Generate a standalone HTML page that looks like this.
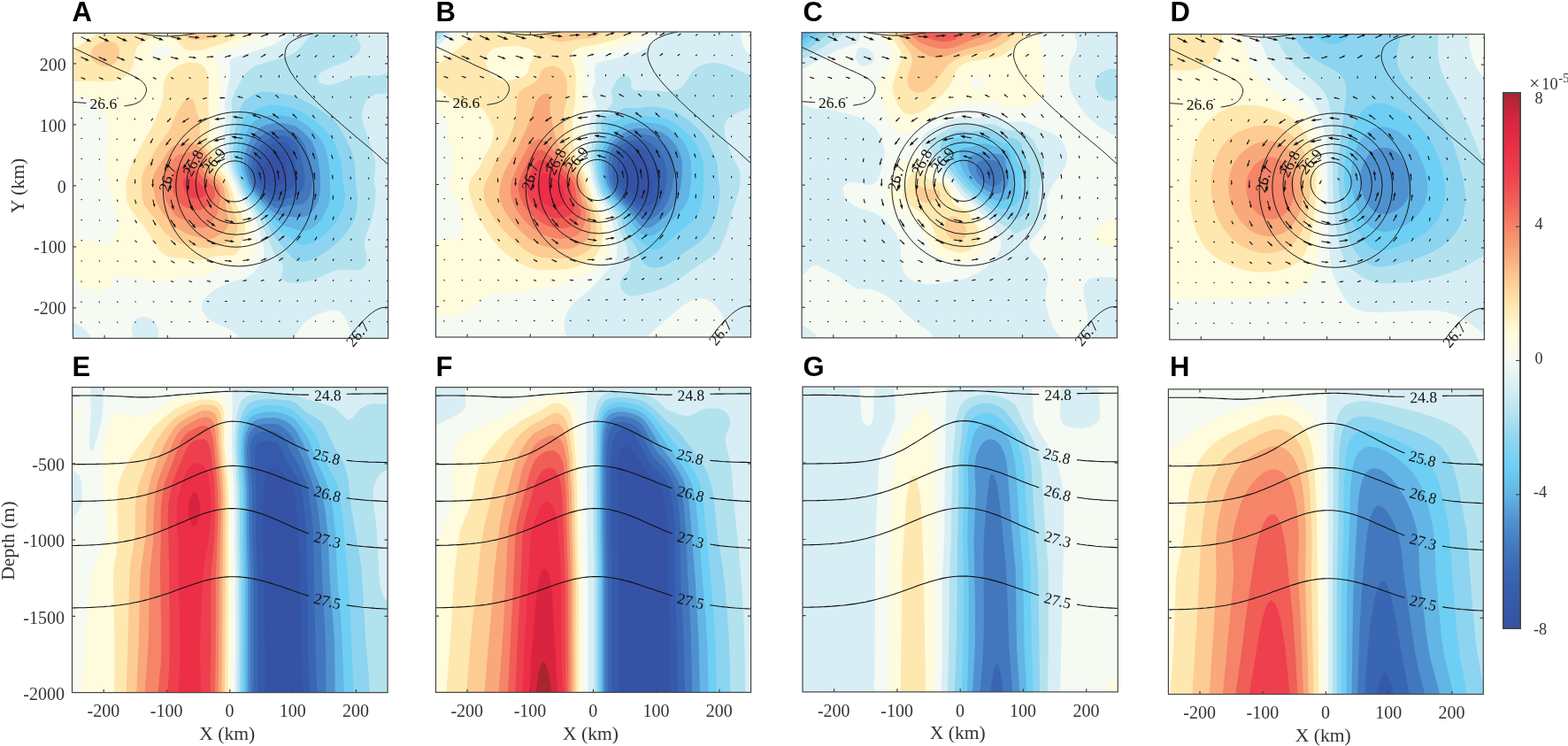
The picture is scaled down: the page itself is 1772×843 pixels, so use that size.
<!DOCTYPE html>
<html><head><meta charset="utf-8"><title>Figure</title>
<style>
html,body{margin:0;padding:0;background:#fff}
svg{display:block}
.t{font-family:"Liberation Serif",serif;font-size:20px;fill:#333}
.l{font-family:"Liberation Serif",serif;font-size:21.6px;fill:#333}
.p{font-family:"Liberation Sans",sans-serif;font-weight:bold;font-size:31px;fill:#000}
.c{font-family:"Liberation Serif",serif;font-size:17.5px;fill:#111}
.ci{font-family:"Liberation Serif",serif;font-style:italic;font-size:18px;fill:#111}
.k{fill:none;stroke:#111;stroke-width:.95}
.kb{fill:none;stroke:#111;stroke-width:1.1}
.q{fill:none;stroke:#111;stroke-width:1.05}
.h{fill:#111;stroke:none}
.f{fill:none;stroke:#454545;stroke-width:1.2}
</style></head><body>
<svg width="1772" height="843" viewBox="0 0 1772 843">
<defs>
<clipPath id="cA"><rect x="82.5" y="37.4" width="356.1" height="344.9"/></clipPath>
<clipPath id="cB"><rect x="492.5" y="36.0" width="356.0" height="345.0"/></clipPath>
<clipPath id="cC"><rect x="906.1" y="36.7" width="356.3" height="345.1"/></clipPath>
<clipPath id="cD"><rect x="1321.7" y="38.6" width="355.7" height="345.2"/></clipPath>
<clipPath id="cE"><rect x="81.5" y="437.6" width="356.6" height="345.0"/></clipPath>
<clipPath id="cF"><rect x="492.5" y="437.6" width="356.1" height="344.8"/></clipPath>
<clipPath id="cG"><rect x="907.0" y="437.0" width="356.3" height="344.9"/></clipPath>
<clipPath id="cH"><rect x="1320.4" y="439.8" width="355.9" height="344.7"/></clipPath>
<linearGradient id="cb" x1="0" y1="0" x2="0" y2="1"><stop offset="0.000" stop-color="#a8262e"/><stop offset="0.050" stop-color="#d9243f"/><stop offset="0.100" stop-color="#ec2e47"/><stop offset="0.150" stop-color="#ee3f4e"/><stop offset="0.200" stop-color="#f05e56"/><stop offset="0.250" stop-color="#f58468"/><stop offset="0.300" stop-color="#f8a87a"/><stop offset="0.350" stop-color="#fdcc93"/><stop offset="0.400" stop-color="#fee8b0"/><stop offset="0.450" stop-color="#fffbdd"/><stop offset="0.500" stop-color="#f5faf3"/><stop offset="0.550" stop-color="#d8eef5"/><stop offset="0.600" stop-color="#b3e2ef"/><stop offset="0.650" stop-color="#8dd4f0"/><stop offset="0.700" stop-color="#6dcff3"/><stop offset="0.750" stop-color="#62b5e5"/><stop offset="0.800" stop-color="#4f91cf"/><stop offset="0.850" stop-color="#4277bd"/><stop offset="0.900" stop-color="#3966b3"/><stop offset="0.950" stop-color="#355aab"/><stop offset="1.000" stop-color="#3652a5"/></linearGradient>
</defs>
<g id="panelA">
<g clip-path="url(#cA)">
<rect x="82.5" y="37.4" width="356.1" height="344.9" fill="#f5faf3"/>
<path fill="#fffbdd" d="M82.9 41.4l3.6-1.5 3.9-2.5 211.2 0-7.1 4-27.2 11.9-16.8 4.5-5.2 3.4-1.6 4 0.5 3.9 3.3 7.9 1.2 4 0.5 4-1.1 19.8-2.5 15.9 1.3 15.8-0.4 7.9-1.6 11.9 0.3 4 3.3 11.9 2.1 11.9 1.4 3.9 8.9 15.9 9.6 23.8 7.6 11.9 3.9 7.9 2.8 7.9 1.6 8 1.3 19.8-0.4 4-2.1 3.9-3.6 4-3 2.5-4 2.6-4 1.4-4 0.6-12.1-0.6-7.6 1.4-12.4 5.8-8 2.7-20 2.5-20 3.2-12-0.3-20-2.4-8-1.8-8-2.9-4-0.8-4 3.1-1.4 2.8-5.7 7.9-4.6 4-4.3 1.9-4 0.7-4-0.3-8-2.6-16-9.1 0-45.5 8-0.7 8 0.4 14.2 3.7 5.8 2.3 4-2.6 4-4.9 4-6.6 1.3-4.1 0.8-7.9-1.2-8-5.2-15.8-2.7-19.8-4.2-15.9-0.7-4-0.2-3.9 0.6-7.9 4.6-23.8-0.1-8-2.2-7.9-1.9-4-4.9-7.9-2.9-3.9-5.1-5.3-3.8-2.7-4.2-1.8-8-1.7-8-0.6 0-67.1zM178.5 52.6l-4.8 4.6-0.9 4 1.7 3.1 4 1.5 4-0.3 4-0.9 4-1.8 2.2-1.6 1.5-4-2.2-3.9-1.5-1.3-4-1.5-4 0.3z"/>
<path fill="#fee8b0" d="M105.3 41.4l5.7-4 71.5 0-4 1.1-13.1 6.8-6.1 4-3.9 4-2.1 3.9-2.8 15.3-1.6 4.5-2.4 4.1-3.6 3.9-4.4 3-4 1.7-4 1.2-8 1.2-8 0.2-12-0.7-20 0.7 0-37.6 8-3.4zM186.7 37.4l83.8 0-3.4 4-4.5 3.4-8.1 3.5-24 7.5-8 1.2-8 0.4-4-0.8-4-2.9-7.4-8.4-4.6-3.9-4-2.7zM204.7 73.1l5.8-2.3 4-0.3 8 0.3 4 1.1 4 3.3 1.3 1.8 2.1 4 1.2 4 0.6 3.9 0.3 8-0.7 23.8 2 19.8-1.9 15.8 0.6 4 1.6 4 4.9 8.4 1.2 3.5 1.9 11.8 2.4 4 6.5 7.8 4.5 8.1 2.8 7.9 3.4 11.9 1.6 4 6.6 11.8 1.7 4 1.9 7.9-0.1 8-0.9 3.9-5.4 14.7-4 5-4 1.4-8.1 0-8 0.8-8 1.5-12 3.3-4 0.2-12-1.8-16-1.4-4-1.1-4-1.7-4-3.1-1.7-1.9-18.2-27.8-12.8-15.8-3.3-5.1-2.8-6.8-1.3-7.9-0.1-8 0.8-7.9 1.8-7.9 4.7-11.9 10.2-19.8 11.3-19.9 11.4-26.4 1.6-5.3 0.5-3.9 0.1-11.9 0.5-4 1.1-4 2-3.9 3.4-4 5.5-4z"/>
<path fill="#fdcc93" d="M206 37.4l44.2 0-3.7 3.1-4 1.8-8 1.9-12 1-4-0.2-4-0.9-4-2zM110.8 49.3l7.7-2.3 4-0.3 4 0.4 4.7 2.2 2.7 4 0.9 3.9 0 4-0.9 4-2.1 3.9-1.3 1.5-4 2.8-4 1.2-4 0.4-4-0.6-3.9-1.3-5.3-4-2.4-3.9-0.5-4 1-4 2.4-3.9zM209.8 112.7l0.7-0.8 4-1.2 4 2.4 7.1 23.4 0.6 4-0.7 7.9 0.1 4 1 3.9 1.6 4 2.4 4 6.2 7.9 1.9 4 0.7 3.9 0 7.9 1.7 4 9.4 9.1 4.6 6.8 2.7 7.9 3.1 15.9 6.4 15.8 0.9 4 0.4 3.9-0.4 4-1.1 4-2 3.9-2.5 3.7-4.1 2.8-16 5.5-4 0.7-8 0.2-16-2-8-2.1-4-1.6-8-4.7-7.5-6.4-3.5-4-9-12.9-8.7-10.9-2.7-3.9-1.8-4-0.8-4-0.6-19.8 0.4-4 2.8-7.9 13.1-23.8 14.3-19.8 2.1-4 5.9-14.3 4-7.6 4-6.4z"/>
<path fill="#f8a87a" d="M197.7 164.3l4.8-1.8 12-0.8 4 0.5 4 1.9 4 3 5 5.1 2.5 4 0.9 3.9-0.9 7.9 0.9 4 3 4 9.7 7.9 3.2 4 1.8 3.9 1.6 8 1.2 15.8 2.6 11.9 0.3 4-0.6 3.9-2 4-1.2 1.3-3.1 2.7-8.9 5.2-4 1.3-4 0.2-8-1.4-12-3.2-4.7-2.1-7.3-4.2-8-5.5-4-3.8-10-14.3-4.2-7.9-3.9-19.8-0.2-4 0.6-4 3.7-7.9 14-21.8 4-4.1z"/>
<path fill="#f58468" d="M212.8 172.2l5.7-1.1 4 0.4 4 2.5 1.9 2.2 1.3 3.9-1.2 7.9 0.8 4 2.4 4 2.8 3 10.9 8.9 2.4 3.9 1.2 4-0.1 7.9-2 11.9-0.9 4-1.7 3.9-5.3 8-3.3 3.9-1.2 0.8-4 1.3-4-0.1-6.2-2-9.8-5.8-8-3.4-4-2.7-3.6-3.9-4.4-7.4-4-8.3-1-4.1-0.8-11.9 0.4-8 2.3-7.9 2.1-4 5-6.7 5.1-5.1 2.9-1.8z"/>
<path fill="#f05e56" d="M204.1 188l2.4-0.9 4 0.3 8 2 4 2.9 6.1 7.6 9.3 8 3.5 3.9 1.6 4 0 4-1.2 3.9-3.3 5.3-4 3.8-4 2.5-4 1.9-4 0.2-12-2.8-4-1.8-4-4.3-5.6-8.7-1.2-4-0.5-4 0.2-11.9 1-3.9 2.1-4 4-3.4z"/>
<path fill="#ee3f4e" d="M210.3 199.9l4.2-0.3 4 1.3 4 2.7 8.5 8.2 1.9 4-0.8 4-1.6 1.7-4 2.3-4 0.6-4-0.3-4-1.8-2.7-2.5-2.5-4-1.5-4-0.8-3.9 0.2-4z"/>
<path fill="#d8eef5" d="M325.8 37.4l112.8 0 0 344.9-39.7 0-3.8-11.9-5.5-11.9-3-4.2-4-2.9-4-1-4 0-8 2-8 3.1-8 4.2-3.9 2.8-4.1 3.8-3.3 4.1-4.8 7.9-1.6 4-61.6 0-3.3-4-5.4-4.3-6.8-3.6-13.3-5.7-4-2.3-4.9-3.9-3.2-4-1.7-3.9-0.5-4 0.6-3.9 1.7-4 4-4.9 3.4-3 4.6-3.2 8.9-4.8 9.4-3.9 17.8-5.5 4-2.1 5.2-4.3 6.8-8.7 3.6-7.2 0.6-3.9-0.9-8-6.3-23.8-1.5-3.9-7.5-13.8-8-11.5-3.6-6.4-13.4-31.8-2.3-7.9-2-15.8-0.5-8 2.7-23.8 0-3.9-1.3-7.9-0.1-4 6.1-31.7 0.1-4-1-7.9 0-4 3.3-3.2 1.5-0.7 18.5-5.5 28-9.7 8-4.7 4.5-3.9zM158 358.5l4.5-0.6 4 0.7 4 1.9 4 3.3 2.1 2.6 1.9 4 0.8 4 0 7.9-29 0-1.4-7.9-0.2-4 0.8-4 2.3-3.9 2.7-2.4zM82.5 366.4l0-1.9 4.9 1.9 6.2 4 4.9 4.6 2.5 3.3 1.8 4-20.3 0z"/>
<path fill="#b3e2ef" d="M349.8 41.4l3-4 47.9 0 6.2 11.9 0.8 4-0.8 3.9-2.9 4-5.4 4.6-8 4.2-18.4 7-8 4-1.6 1.3-2.5 2.7-0.8 3.9 2.1 4 1.2 0.9 4 1.7 4 0.6 4-0.5 9.1-2.7 14.9-5.6 4-1.1 8-1.2 16 0.6 4-0.7 4-1.4 4-2.1 0 23.9-12 0.9-4 1.2-4 2.1-4 3.8-2 3.4-2 4-0.9 3.9-0.4 7.9 1.3 8 7.1 19.8 5.1 15.9 1.5 7.9 0.1 3.9-1.5 15.9 1.9 11.9-1.8 19.8-2.5 11.9-6.1 15.9-2.2 7.9 0 7.9 2.3 11.9-0.2 4-1.2 3.9-2.5 3.9-4 2.2-4 0.6-12-1.2-8 0.3-8 2.5-12 5.8-12 4.5-12 2.3-8-0.1-5.4-0.9-2.6-1-4.7-3-0.3-4 1-1.1 1.2-6.8-0.7-4-2.5-3.9-6-7.1-5.1-12.7-5.5-11.9-4.2-11.9-2.2-4-7.6-11.9-8.7-11.9-2.7-4.4-6.8-15.4-4.6-11.9-3.2-11.9-1.2-15.8 0.4-11.9 3.4-23.8-1.2-11.9 1.2-6.3 4-8.9 8-14.6 4.5-5.9 5.2-4 8.7-3.9 12.2-4 17.4-4.5 7.7-3.4 4.3-3 4-4z"/>
<path fill="#8dd4f0" d="M292.1 104.8l6.5-1.3 4 0.1 24 3.3 12 4.1 8 3.9 8 4.8 19.2 12.8 4.8 4.1 4 5.2 10.2 18.5 5.1 11.9 2 7.9 1.2 7.9 1.2 19.9 1.7 15.8-0.5 11.9-1.6 7.9-1.3 4-2 4.6-4.5 7.3-6.3 7.9-7.9 8-5.3 4.5-10.4 7.4-6.7 3.9-6.9 3.1-8 1.6-4-0.2-4-1.3-4-2.7-10.9-12.4-13.1-16.5-5.4-11.2-2.4-4-20.3-27.7-2.4-4-3.5-7.9-5.9-15.9-2.5-11.9-0.6-11.9 1.7-19.8 3.1-15.9 2.2-7 4-9.5 3.2-3.3 4.8-3.4 4-2.3z"/>
<path fill="#6dcff3" d="M296.8 120.7l5.8-1.5 4-0.4 8 0.3 8 1.1 12 3.6 8 3.4 4 2.3 4.2 3 14.4 11.9 5.4 5.6 4 5.7 2.5 4.6 5.2 11.9 3.1 11.9 2.6 23.8 1.9 11.9 0 3.9-1.4 8-1.9 5.7-2.8 6.1-4.7 8-4.5 5.8-5.8 6.1-6.2 5.2-8 5.2-4 1.8-4 1.2-4 0.1-4-1-4-2.3-8.6-6.3-7.4-4-5.6-3.9-2.4-2.5-6.5-9.4-22.1-27.7-4.7-8-4.8-11.9-3.4-11.9-1.1-7.9-0.1-7.9 1.3-11.9 5.2-23.8 2.2-4 2-2.1 2.5-1.8 9.5-5.3z"/>
<path fill="#62b5e5" d="M296 132.5l6.6-1.9 4-0.7 8 0 12 1.9 8 2.4 4 1.8 8 5.3 12.1 11.1 3.9 4.8 3.7 7.1 3.8 11.9 1.9 11.8 0.9 11.9 0.1 23.8-1.8 8-5.4 11.8-3.2 4.9-4 4.5-4 3.3-4 2.5-4 1.5-4 0.6-4-0.4-16-4.8-4-1.8-4-2.7-12-11.5-8-8.9-11.8-14.9-4.2-7.9-4.4-11.9-1.7-8-0.4-3.9 0-7.9 1.9-11.9 4.6-14.2 4-8.5 5.2-5.1z"/>
<path fill="#4f91cf" d="M302.8 140.5l7.8-1.3 8 0 8 1.1 4 1.1 4 1.8 7.4 5.2 7.7 7.9 2.7 4 3.8 7.9 3.3 11.9 2.2 15.9 0.5 11.9-0.8 11.9-2 7.9-4 7.9-4.8 5.6-4 2.7-4 1.4-4 0.5-4-0.1-16-2-4-1.3-4-2-4-2.7-4-3.5-8-8.4-8.3-10-4.6-7.9-4.2-11.9-1.5-8 0-7.9 0.5-3.9 2-8 4.1-9.6 4-6.8 2.7-3.4 5.3-4.5 4-2.1z"/>
<path fill="#4277bd" d="M304.2 148.4l6.4-1.6 8-0.4 4 0.3 6.2 1.7 5.8 3.3 4 3.7 3.7 4.9 2.2 4 3 7.9 3.2 11.9 1.9 11.9 0.3 7.9-0.5 7.9-1.8 8.1-1.9 3.8-2.1 3.1-4 3.3-4 1.4-12 0.7-8 2.3-4 0.5-4-0.8-4-2.1-4-3.3-8-8-4.5-5-5-7.9-3.1-8-1.8-7.9-0.3-7.9 1.6-7.9 3.3-8 5.8-9.5 4-4.5 2.2-1.8 1.8-1.3z"/>
<path fill="#3966b3" d="M303.9 156.3l6.7-2.6 8-0.8 4 0.5 4 1.3 4 2.6 4 4.6 3 6.3 3.3 11.9 2.5 11.9 1 7.9-0.1 4-1.4 7.9-2 4-2.3 2.7-4 2.5-20 6.7-4 0-4-1.8-4-2.9-8-7.4-4-5.1-3.4-6.6-1.3-4-1.6-7.9 0.3-7.9 2-6.4 2.8-5.5 5.4-7.9 3.8-4.2z"/>
<path fill="#355aab" d="M313.3 160.3l5.3-0.4 4 0.9 4 2.6 3.2 4.8 1.3 4 3.6 19.8 1 7.9-0.2 4-1.1 4-3.8 4.6-5.4 3.3-6.6 2.8-4 1.3-4 0.2-4-1.2-4-2.4-4-3.2-4-4.5-2.7-4.9-1.4-4-1.1-7.9 0.3-4 0.9-4 3.8-7.8 2.8-4 3.3-4 4.4-3.9 5.7-3.2z"/>
<path fill="#3652a5" d="M310 172.2l4.6-2 4 0.4 1.7 1.6 1.7 4 0.6 3 1.8 16.8-0.2 3.9-1.6 4.3-4 3.9-4 1.9-4 0.7-4-0.8-4-2.1-4-5.1-1.1-2.8-0.6-3.9 0.1-4 0.9-4 1.8-3.9 2.9-4.5 4-4.5z"/>
<ellipse class="k" cx="265.1" cy="204.9" rx="23.1" ry="23.1"/>
<ellipse class="k" cx="265.3" cy="205.7" rx="34.2" ry="34.4"/>
<ellipse class="k" cx="266.3" cy="207.1" rx="45.1" ry="45.6"/>
<ellipse class="k" cx="267.0" cy="208.3" rx="56.1" ry="56.9"/>
<ellipse class="k" cx="266.7" cy="209.9" rx="67.9" ry="69.3"/>
<ellipse class="k" cx="269.5" cy="213.7" rx="85.3" ry="87.2"/>
<path class="k" d="M82.5 53.9l3.3 1.6 3.2 1.5 3.2 1.5 3.3 1.5 3.4 1.7 3.6 1.7 3.9 1.9 4.2 2 4.4 2.1 4.4 2.1 4.2 2 3.9 1.9 3.7 1.7 3.7 1.6 3.5 1.6 3.3 1.4 3 1.4 2.8 1.3 2.4 1.2 2.1 1 1.9 0.9 1.6 0.9 1.6 1 1.4 1 1.4 1.1 1.2 1.2 1.1 1.1 0.9 1.2 0.8 1.2 0.6 1.2 0.5 1.2 0.3 1.1 0.1 1.1 0 1.2-0.1 1.2-0.3 1.2-0.4 1.3-0.6 1.4-0.7 1.4-0.9 1.4-0.9 1.3-1 1.2-1.1 1-1.2 1-1.2 0.8-1.4 0.8-1.5 0.7-1.6 0.7-1.8 0.6-1.9 0.4-2 0.4-2.2 0.4-2.1 0.3-2 0.4"/>
<path class="k" d="M97.5 116.4l-2.5-0.2-2.5-0.1-2.5-0.2-2.5-0.2-2.5-0.1-2.5-0.2"/>
<path class="k" d="M155.5 37.4l2.8 0.4 2.9 0.5 2.8 0.4 2.8 0.5 2.9 0.4 2.8 0.3 2.8 0.3 2.9 0.2 2.8 0.2 2.8 0.2 2.9 0.1 2.8 0 2.8 0 2.9-0.1 2.8-0.2 2.8-0.2 2.9-0.2 2.8-0.3 2.8-0.3 2.9-0.4 2.8-0.5 2.8-0.4 2.9-0.5 2.8-0.4"/>
<path class="k" d="M355.5 37.4l-2.5 0.6-2.5 0.6-2.6 0.6-2.5 0.6-2.5 0.7-2.4 0.9-2.5 1.1-2.6 1.1-2.6 1.3-2.4 1.4-2.1 1.5-1.8 1.6-1.4 1.8-1.1 1.9-0.8 2.1-0.6 2.1-0.4 2.1-0.2 2-0.1 2 0.2 1.9 0.4 2 0.5 2 0.7 2 0.8 2.1 1 2.2 1.1 2.3 1.3 2.4 1.4 2.4 1.6 2.3 1.6 2.4 1.7 2.3 1.8 2.2 1.9 2.3 2 2.2 2.2 2.4 2.4 2.6 2.6 2.8 2.9 2.9 3 3.1 3.1 3.1 3.2 3.1 3.2 3 3.2 3 3.2 3 3.3 2.9 3.4 3 3.4 3 3.5 3.1 3.6 3.2 3.7 3.2 3.8 3.3 3.8 3.2 3.6 3.2 3.5 2.9 3.3 2.7 3.1 2.6 3 2.5 2.9 2.4 2.9 2.4 2.8 2.4 2.8 2.4 2.7 2.5 2.7 2.4 2.6 2.4 2.6 2.4 2.7 2.4"/>
<path class="k" d="M438.6 346.9l-1.5 0.2-1.5 0.2-1.6 0.1-1.5 0.2-1.5 0.3-1.5 0.5-1.5 0.6-1.5 0.7-1.4 0.7-1.5 0.9-1.5 1-1.6 1.1-1.6 1.2-1.7 1.4-1.6 1.5-1.7 1.6-1.7 1.6-1.7 1.7-1.7 1.7-1.7 1.8-1.7 1.9-1.7 1.9-1.6 1.8-1.6 1.9-1.4 1.8-1.4 1.9-1.3 1.8-1.3 1.8-1.3 1.9-1.3 1.8"/>
<path class="q" d="M91.5 41.6L98.9 45.1M111.8 41.6L119.3 45M132.2 41.6L139.7 44.9M152.5 41.6L160.1 44.6M172.8 41.6L180.6 44.1M193.1 41.6L201 43.3M213.5 41.6L221.3 42.2M233.8 41.6L241.5 41M254.1 41.6L261.5 39.9M274.5 41.6L281.3 39.2M294.8 41.6L301 38.9M315.1 41.6L320.5 39M335.5 41.6L339.6 39.4M355.8 41.6L358.7 39.9M376.1 41.6L378.1 40.3M396.4 41.6L398 40.6M416.8 41.6L418.1 40.9M437.1 41.6L438.5 41.1M91.5 64.6L97.5 67.3M111.8 64.6L117.8 67.2M132.2 64.6L138.2 67.1M152.5 64.6L158.5 66.9M172.8 64.6L178.8 66.5M193.1 64.6L199 65.9M213.5 64.6L219.1 65.1M233.8 64.6L239.1 64.1M254.1 64.6L259.1 63.2M274.5 64.6L279 62.5M294.8 64.6L298.9 62.2M315.1 64.6L318.7 62.2M335.5 64.6L338.3 62.4M355.8 64.6L357.8 62.8M376.1 64.6L377.5 63.2M396.4 64.6L397.6 63.4M416.8 64.6L417.9 63.6M437.1 64.6L438.3 63.8M91.5 87.6L95.2 89.1M111.8 87.6L115.5 89M132.2 87.6L135.7 89M152.5 87.6L155.8 89M172.8 87.6L175.8 88.9M193.1 87.6L195.7 88.8M213.5 87.6L215.4 88.4M233.8 87.6L235.3 87.6M254.1 87.6L254.7 86.3M274.5 87.6L274.6 85.7M294.8 87.6L295 85.3M315.1 87.6L315.5 85.2M335.5 87.6L335.8 85.4M355.8 87.6L356.2 85.7M376.1 87.6L376.5 86M396.4 87.6L396.9 86.2M416.8 87.6L417.5 86.3M437.1 87.6L438.1 86.5M91.5 110.6L93.5 111.1M111.8 110.6L113.7 111.2M132.2 110.6L133.8 111.4M152.5 110.6L153.7 111.8M172.8 110.6L173 112.2M193.1 110.6L192 112.4M213.5 110.6L211 112.3M233.8 110.6L230.1 111.6M254.1 110.6L249.8 110.6M274.5 110.6L270 109.4M294.8 110.6L291 108.5M315.1 110.6L312.2 108.1M335.5 110.6L333.5 108.1M355.8 110.6L354.5 108.5M376.1 110.6L375.4 108.8M396.4 110.6L396.2 109.1M416.8 110.6L416.9 109.2M437.1 110.6L437.7 109.3M91.5 133.6L92.9 133.6M111.8 133.6L113.2 134M132.2 133.6L132.9 134.8M152.5 133.6L152.1 135.3M172.8 133.6L171.2 136M193.1 133.6L189.9 136.8M213.5 133.6L208.4 136.9M233.8 133.6L227.1 136.2M254.1 133.6L246.5 134.5M274.5 133.6L266.9 132.4M294.8 133.6L288.3 130.8M315.1 133.6L310.1 130M335.5 133.6L332 130.1M355.8 133.6L353.6 130.7M376.1 133.6L374.8 131.4M396.4 133.6L395.8 131.9M416.8 133.6L416.6 132.2M437.1 133.6L437.3 132.2M91.5 156.6L92.9 156.4M111.8 156.6L113.1 157.4M132.2 156.6L132.2 158M152.5 156.6L151.6 159.1M172.8 156.6L170.7 160.5M193.1 156.6L189.2 161.8M213.5 156.6L207.5 162.3M233.8 156.6L226.5 160.8M254.1 156.6L245.8 158.3M274.5 156.6L266.1 155.2M294.8 156.6L287.5 152.6M315.1 156.6L309.6 151.4M335.5 156.6L331.7 151.7M355.8 156.6L353.4 152.6M376.1 156.6L374.7 153.7M396.4 156.6L395.6 154.5M416.8 156.6L416.4 155M437.1 156.6L437.1 155.2M91.5 179.6L92.9 179.5M111.8 179.6L112.8 180.6M132.2 179.6L132.3 181.4M152.5 179.6L151.9 182.9M172.8 179.6L171.2 185M193.1 179.6L190.2 186.8M213.5 179.6L209.2 186.9M233.8 179.6L228 185.8M254.1 179.6L247.5 182.2M274.5 179.6L268 177.8M294.8 179.6L289.4 174.4M315.1 179.6L311.1 173M335.5 179.6L332.7 173.3M355.8 179.6L354 174.6M376.1 179.6L375 176.1M396.4 179.6L395.8 177.2M416.8 179.6L416.4 177.9M437.1 179.6L437 178.2M91.5 202.6L92.9 202.7M111.8 202.6L112.8 203.6M132.2 202.6L132.6 204.6M152.5 202.6L152.7 206.4M172.8 202.6L172.6 208.6M193.1 202.6L192.6 210.7M213.5 202.6L212.5 211M233.8 202.6L232.5 209.7M254.1 202.6L252.5 205.8M274.5 202.6L272.9 200.4M294.8 202.6L293.6 196.9M315.1 202.6L314.2 195.4M335.5 202.6L334.7 195.8M355.8 202.6L355.2 197.2M376.1 202.6L375.7 198.8M396.4 202.6L396.1 200M416.8 202.6L416.6 200.8M437.1 202.6L437.1 201.2M91.5 225.6L92.9 225.8M111.8 225.6L112.9 226.5M132.2 225.6L133.1 227.5M152.5 225.6L153.5 229.1M172.8 225.6L174.2 231.2M193.1 225.6L195.2 233.1M213.5 225.6L216.3 233.6M233.8 225.6L237.4 232M254.1 225.6L258.2 228.3M274.5 225.6L278.4 223.8M294.8 225.6L297.9 220.4M315.1 225.6L317.4 219M335.5 225.6L336.9 219.3M355.8 225.6L356.5 220.5M376.1 225.6L376.4 222M396.4 225.6L396.5 223.1M416.8 225.6L416.8 223.8M437.1 225.6L437.3 224.2M91.5 248.6L92.9 248.9M111.8 248.6L113.1 249.4M132.2 248.6L133.5 250.2M152.5 248.6L154.2 251.4M172.8 248.6L175.3 253M193.1 248.6L196.8 254.3M213.5 248.6L218.5 254.7M233.8 248.6L240.1 253.3M254.1 248.6L261.1 250.5M274.5 248.6L281.1 247.2M294.8 248.6L300.4 244.6M315.1 248.6L319.3 243.4M335.5 248.6L338.2 243.5M355.8 248.6L357.4 244.4M376.1 248.6L376.9 245.5M396.4 248.6L396.9 246.4M416.8 248.6L417.1 247M437.1 248.6L437.6 247.2M91.5 271.6L92.9 272M111.8 271.6L113.1 272.3M132.2 271.6L133.6 272.8M152.5 271.6L154.3 273.5M172.8 271.6L175.5 274.5M193.1 271.6L197 275.2M213.5 271.6L218.7 275.4M233.8 271.6L240.3 274.5M254.1 271.6L261.2 272.7M274.5 271.6L281.2 270.5M294.8 271.6L300.6 268.8M315.1 271.6L319.5 268M335.5 271.6L338.4 268M355.8 271.6L357.6 268.5M376.1 271.6L377.2 269.2M396.4 271.6L397.1 269.8M416.8 271.6L417.4 270.2M437.1 271.6L437.9 270.4M91.5 294.6L92.8 295.3M111.8 294.6L113.1 295.3M132.2 294.6L133.5 295.5M152.5 294.6L154.2 295.8M172.8 294.6L175.1 296.3M193.1 294.6L196.3 296.6M213.5 294.6L217.7 296.6M233.8 294.6L238.9 296M254.1 294.6L259.6 295M274.5 294.6L279.8 293.8M294.8 294.6L299.3 292.8M315.1 294.6L318.6 292.3M335.5 294.6L337.9 292.2M355.8 294.6L357.4 292.5M376.1 294.6L377.2 292.9M396.4 294.6L397.3 293.2M416.8 294.6L417.6 293.4M437.1 294.6L438.2 293.7M91.5 317.6L92.6 318.5M111.8 317.6L113 318.5M132.2 317.6L133.3 318.4M152.5 317.6L153.9 318.5M172.8 317.6L174.6 318.6M193.1 317.6L195.5 318.6M213.5 317.6L216.4 318.5M233.8 317.6L237.2 318.1M254.1 317.6L257.8 317.6M274.5 317.6L278 316.9M294.8 317.6L297.8 316.4M315.1 317.6L317.5 316.1M335.5 317.6L337.2 316M355.8 317.6L357.1 316.2M376.1 317.6L377.1 316.3M396.4 317.6L397.4 316.5M416.8 317.6L417.9 316.7M437.1 317.6L438.4 317M91.5 340.6L92.4 341.7M111.8 340.6L112.8 341.7M132.2 340.6L133.2 341.6M152.5 340.6L153.7 341.4M172.8 340.6L174.2 341.3M193.1 340.6L194.8 341.2M213.5 340.6L215.4 341M233.8 340.6L236 340.7M254.1 340.6L256.4 340.4M274.5 340.6L276.6 340M294.8 340.6L296.7 339.7M315.1 340.6L316.7 339.6M335.5 340.6L336.8 339.5M355.8 340.6L356.9 339.6M376.1 340.6L377.2 339.6M396.4 340.6L397.6 339.8M416.8 340.6L418.1 340M437.1 340.6L438.5 340.3M91.5 363.6L92.2 364.8M111.8 363.6L112.6 364.8M132.2 363.6L133.1 364.7M152.5 363.6L153.6 364.5M172.8 363.6L174.1 364.3M193.1 363.6L194.5 364.1M213.5 363.6L215 363.8M233.8 363.6L235.4 363.6M254.1 363.6L255.7 363.3M274.5 363.6L276 363.1M294.8 363.6L296.1 362.9M315.1 363.6L316.3 362.8M335.5 363.6L336.6 362.7M355.8 363.6L356.9 362.7M376.1 363.6L377.3 362.8M396.4 363.6L397.7 363M416.8 363.6L418.2 363.2M437.1 363.6L438.6 363.5"/>
<path class="h" d="M103.3 47.2L97.7 46.5L99.2 43.3zM123.7 47.1L118.1 46.4L119.6 43.2zM144.1 46.8L138.5 46.3L139.9 43zM164.6 46.3L159 46L160.3 42.7zM185.1 45.5L179.6 45.6L180.6 42.3zM205.6 44.3L200.1 44.9L200.9 41.5zM226 42.6L220.7 43.9L221 40.5zM246 40.7L241.1 42.7L240.9 39.4zM265.8 39L261.4 41.6L260.6 38.5zM285.3 37.8L281.4 40.9L280.4 37.9zM304.6 37.4L301.2 40.5L300 37.8zM323.4 37.6L320.6 40.4L319.4 38zM341.7 38.2L339.7 40.5L338.6 38.7zM360 39.1L358.7 40.8L357.9 39.4zM378.8 39.8L378 41L377.4 40.1zM398.3 40.4L397.8 41.3L397.3 40.5zM418.3 40.8L417.8 41.5L417.5 40.8zM438.6 41.1L438.1 41.7L437.9 40.9zM100.9 68.8L96.4 68.4L97.6 65.8zM121.2 68.7L116.8 68.3L117.9 65.7zM141.6 68.5L137.2 68.2L138.3 65.6zM161.9 68.2L157.5 68L158.5 65.4zM182.1 67.6L177.9 67.7L178.7 65.1zM202.3 66.7L198.2 67.1L198.8 64.5zM222.2 65.4L218.5 66.3L218.8 63.8zM242 63.9L238.7 65.3L238.5 63zM261.7 62.4L258.9 64.4L258.3 62.2zM281.4 61.4L279 63.7L278.1 61.7zM301 60.9L299 63.3L297.9 61.5zM320.4 60.9L318.8 63.2L317.7 61.6zM339.5 61.4L338.4 63.4L337.4 62.1zM358.5 62.1L357.8 63.6L357 62.7zM377.9 62.8L377.5 63.9L376.8 63.2zM397.7 63.2L397.5 64.1L396.9 63.5zM418 63.5L417.7 64.3L417.2 63.7zM438.5 63.7L438.1 64.4L437.7 63.8zM96.9 89.8L94.4 89.7L95 88zM117.2 89.7L114.7 89.7L115.3 88zM137.4 89.7L134.9 89.6L135.6 88zM157.4 89.6L155.1 89.6L155.7 88zM177.2 89.5L175.1 89.4L175.7 88zM196.7 89.2L194.9 89.2L195.5 88zM215.9 88.6L214.7 88.7L215.1 87.7zM235.4 87.6L234.8 88L234.8 87.2zM254.8 86.1L254.9 86.9L254.2 86.6zM274.6 85.3L275 86.3L274.1 86.2zM295 84.6L295.5 85.9L294.4 85.8zM315.6 84.4L316 85.8L314.8 85.6zM336 84.7L336.3 86L335.2 85.8zM356.2 85.2L356.5 86.3L355.6 86.1zM376.5 85.7L376.8 86.6L376 86.4zM397 86.1L397.1 86.8L396.4 86.6zM417.5 86.2L417.6 87L416.9 86.6zM438.2 86.4L438 87.1L437.4 86.6zM94.1 111.3L92.9 111.5L93.2 110.5zM114.3 111.4L113.1 111.5L113.4 110.6zM134.2 111.6L133.2 111.6L133.6 110.8zM153.9 112L153 111.7L153.6 111.1zM173 112.5L172.5 111.8L173.4 111.7zM191.6 113L191.8 111.7L192.7 112.3zM209.9 113L211 111.4L211.8 112.6zM228.4 112.1L230.4 110.7L230.8 112.3zM247.6 110.6L250.3 109.6L250.3 111.6zM267.8 108.8L270.8 108.6L270.3 110.6zM289 107.5L291.9 107.9L290.9 109.6zM310.8 106.9L313.2 107.7L312 109.1zM332.6 107.1L334.3 108.1L333.2 109zM354.1 107.7L355.3 108.6L354.3 109.2zM375.3 108.4L376.1 109.1L375.2 109.5zM396.2 108.9L396.7 109.5L395.9 109.7zM416.9 109L417.3 109.7L416.5 109.6zM437.7 109.1L437.8 109.9L437.1 109.6zM93.1 133.7L92.4 134L92.5 133.2zM113.4 134.1L112.6 134.3L112.8 133.5zM133 135L132.3 134.6L133 134.2zM152 135.6L151.8 134.7L152.6 134.9zM170.5 137L170.9 135.2L172 136zM188.3 138.4L189.6 135.7L191 137.1zM205.6 138.8L208.1 135.5L209.6 137.8zM223.2 137.6L227 134.5L228.1 137.4zM242 135L246.8 132.8L247.2 136.1zM262.5 131.7L267.7 130.9L267.2 134.1zM284.5 129.2L289.3 129.6L288.1 132.4zM307.4 128.1L311.3 129.2L309.8 131.4zM330.2 128.3L333.1 129.7L331.6 131.3zM352.6 129.4L354.6 130.6L353.3 131.6zM374.4 130.6L375.6 131.5L374.6 132.1zM395.6 131.5L396.4 132.2L395.5 132.5zM416.5 132L417 132.6L416.2 132.7zM437.3 132L437.6 132.7L436.8 132.6zM93.1 156.4L92.5 156.9L92.4 156.1zM113.2 157.5L112.4 157.4L112.8 156.8zM132.2 158.2L131.8 157.6L132.6 157.5zM151.3 160L151.2 158.4L152.4 158.8zM169.6 162.5L170 159.6L171.8 160.6zM187 164.8L188.4 160.6L190.7 162.3zM204 165.6L206.7 160.6L209.1 163.2zM222.1 163.4L226 159L227.8 162.2zM240.9 159.3L246 156.4L246.7 160zM261.2 154.3L266.9 153.5L266.3 157zM283.1 150.2L288.8 151.2L287 154.4zM306.3 148.4L311.1 150.6L308.8 153zM329.5 148.9L333 151.2L330.9 152.9zM352.2 150.6L354.5 152.5L352.8 153.6zM374.1 152.5L375.6 153.8L374.2 154.5zM395.4 153.9L396.3 154.8L395.3 155.2zM416.3 154.7L416.9 155.4L416.1 155.6zM437.1 155L437.5 155.7L436.7 155.7zM93.1 179.5L92.5 179.9L92.4 179.1zM112.9 180.8L112.2 180.6L112.8 180zM132.3 181.8L131.8 180.9L132.7 180.9zM151.6 184.4L151.2 182.3L152.8 182.6zM170.4 187.9L170.2 184.1L172.5 184.8zM188.5 191L188.8 185.7L191.9 187zM206.7 191.3L207.9 185.6L211.1 187.4zM224.6 189.4L227 184.2L229.7 186.7zM243.6 183.8L247.4 180.6L248.5 183.5zM264.4 176.7L268.9 176.5L268.1 179.3zM286.2 171.4L290.9 173.6L288.6 175.9zM308.7 169.1L312.8 172.5L309.9 174.3zM331.1 169.7L334.2 173.2L331.5 174.4zM353 172L355.3 174.7L353 175.5zM374.5 174.4L376 176.3L374.3 176.8zM395.5 176.4L396.5 177.5L395.3 177.9zM416.3 177.5L417 178.3L416.1 178.5zM437 178L437.5 178.6L436.7 178.7zM93.1 202.7L92.4 203L92.5 202.2zM112.9 203.8L112.2 203.6L112.8 203zM132.8 205.2L132 204.3L133 204zM152.7 208.1L151.8 205.9L153.5 205.8zM172.5 212L171.3 208.1L174 208.2zM192.2 215.5L190.8 210.1L194.3 210.3zM211.9 216L210.8 210.3L214.4 210.7zM231.7 213.8L231 208.9L234.1 209.5zM251.8 207.2L252 205L253.5 205.7zM272.2 199.6L273.7 200.4L272.6 201.2zM292.9 193.7L294.9 197.1L292.4 197.6zM313.6 191.3L315.8 195.7L312.7 196.1zM334.3 191.9L336.3 196.1L333.3 196.4zM354.9 194.3L356.5 197.6L354.1 197.8zM375.4 197L376.6 199.2L374.9 199.4zM396 199.1L396.8 200.5L395.6 200.6zM416.5 200.4L417.1 201.2L416.2 201.3zM437.1 201L437.5 201.7L436.7 201.7zM93.1 225.8L92.4 226.1L92.5 225.3zM113.1 226.6L112.3 226.5L112.8 225.9zM133.4 228.1L132.4 227.3L133.4 226.9zM154 230.8L152.6 228.9L154.2 228.4zM175 234.3L172.9 231L175.3 230.4zM196.3 237.5L193.4 233L196.6 232.2zM217.9 238.4L214.4 233.7L217.8 232.5zM239.4 235.7L235.7 232.3L238.5 230.8zM260.3 229.8L257.2 229L258.4 227.2zM280.3 222.8L278.3 224.9L277.5 223.1zM299.7 217.6L298.8 221.5L296.5 220.2zM318.7 215.3L318.6 220L315.8 219zM337.7 215.7L338.1 220.1L335.4 219.5zM356.9 217.9L357.6 221.2L355.3 220.9zM376.5 220.3L377.2 222.5L375.5 222.4zM396.5 222.2L397.1 223.6L395.9 223.6zM416.8 223.4L417.3 224.3L416.4 224.3zM437.3 224L437.6 224.7L436.9 224.6zM93.1 248.9L92.4 249.2L92.5 248.4zM113.2 249.4L112.4 249.4L112.8 248.8zM133.8 250.6L132.7 250.1L133.5 249.5zM154.9 252.6L153.2 251.4L154.6 250.6zM176.5 255.2L174 253.1L176 252zM198.8 257.6L195.3 254.7L197.7 253.1zM221.5 258.2L216.9 255.4L219.5 253.2zM243.8 256.1L238.7 254.4L240.7 251.7zM265.1 251.6L260.2 251.9L261 248.9zM284.9 246.4L280.9 248.7L280.3 245.8zM303.6 242.3L300.8 246.1L299.1 243.7zM321.6 240.5L320.1 244.7L317.8 242.9zM339.7 240.8L339.1 244.6L336.8 243.4zM358.2 242.4L358.1 245.3L356.3 244.6zM377.3 244.2L377.5 246.2L376.1 245.8zM397 245.7L397.3 247L396.2 246.8zM417.2 246.7L417.4 247.6L416.6 247.4zM437.6 247.1L437.8 247.8L437 247.6zM93 272.1L92.3 272.3L92.5 271.5zM113.2 272.4L112.5 272.4L112.8 271.7zM133.9 273L132.9 272.8L133.5 272.1zM155 274.2L153.5 273.6L154.5 272.7zM176.7 275.8L174.5 274.7L175.8 273.5zM199.1 277.2L195.8 275.8L197.4 274.1zM221.7 277.5L217.5 276.2L219.1 274zM244 276.2L239.2 275.7L240.4 272.9zM265.2 273.3L260.5 274.1L260.9 271.1zM285.1 269.9L281 272.1L280.5 269.1zM303.8 267.2L300.7 270.3L299.5 267.8zM321.9 266L319.9 269.2L318.3 267.3zM339.9 266.1L338.9 269L337.3 267.7zM358.4 267.2L358 269.4L356.6 268.6zM377.5 268.4L377.5 269.9L376.4 269.4zM397.3 269.4L397.4 270.4L396.5 270.1zM417.5 270L417.5 270.8L416.8 270.5zM438 270.3L438 271L437.3 270.6zM92.9 295.3L92.2 295.4L92.5 294.7zM113.2 295.4L112.5 295.4L112.8 294.7zM133.7 295.6L132.9 295.6L133.3 294.9zM154.7 296.2L153.5 296L154.1 295.1zM176.1 296.9L174.3 296.5L175.1 295.4zM197.8 297.5L195.5 297.1L196.4 295.6zM219.8 297.6L216.8 297.3L217.7 295.4zM241.6 296.8L238.1 297L238.7 294.8zM262.6 295.2L259 296.2L259.2 293.7zM282.6 293.3L279.4 295L279.1 292.7zM301.7 291.8L299.3 294L298.5 291.9zM320.4 291.1L318.7 293.3L317.7 291.7zM339 291.2L338.1 293.1L337 292zM358 291.7L357.6 293.3L356.6 292.5zM377.5 292.4L377.4 293.6L376.5 293zM397.4 293L397.4 293.9L396.7 293.4zM417.7 293.3L417.7 294.1L417 293.6zM438.3 293.6L438.1 294.3L437.6 293.7zM92.7 318.6L92 318.5L92.5 317.9zM113.1 318.6L112.3 318.5L112.8 317.9zM133.5 318.5L132.7 318.5L133.2 317.8zM154.2 318.6L153.3 318.6L153.7 317.8zM175.1 318.8L174 318.8L174.4 317.9zM196.3 319L194.8 319L195.3 317.8zM217.6 318.8L215.7 319L216.1 317.7zM238.7 318.4L236.6 318.8L236.8 317.3zM259.4 317.5L257.3 318.4L257.2 316.7zM279.5 316.6L277.6 317.8L277.3 316.2zM299.2 315.9L297.7 317.3L297.1 315.9zM318.5 315.5L317.5 316.9L316.8 315.8zM337.8 315.5L337.3 316.8L336.5 315.9zM357.4 315.8L357.1 316.9L356.4 316.2zM377.3 316.1L377.2 317L376.5 316.5zM397.5 316.4L397.4 317.2L396.8 316.6zM418 316.6L417.8 317.3L417.3 316.7zM438.6 316.9L438.1 317.6L437.8 316.8zM92.5 341.8L91.8 341.6L92.4 341.1zM112.9 341.8L112.2 341.6L112.8 341zM133.4 341.7L132.6 341.5L133.1 340.9zM153.8 341.5L153.1 341.5L153.5 340.8zM174.4 341.4L173.6 341.4L174 340.7zM195.2 341.3L194.2 341.4L194.5 340.6zM216 341.1L214.9 341.4L215.1 340.4zM236.7 340.7L235.5 341.2L235.5 340.1zM257.1 340.3L256 341L255.8 339.9zM277.3 339.8L276.3 340.7L276 339.6zM297.3 339.5L296.5 340.4L296.1 339.5zM317.2 339.3L316.6 340.3L316.1 339.4zM337 339.3L336.7 340.2L336.1 339.5zM357 339.4L356.8 340.2L356.3 339.6zM377.3 339.5L377.1 340.3L376.6 339.7zM397.8 339.7L397.4 340.4L397 339.7zM418.2 339.9L417.8 340.6L417.5 339.9zM438.7 340.3L438.1 340.8L438 340zM92.3 365L91.6 364.6L92.3 364.2zM112.7 364.9L112 364.6L112.7 364.2zM133.2 364.8L132.5 364.6L133.1 364.1zM153.7 364.6L153 364.5L153.5 363.9zM174.2 364.4L173.5 364.4L173.8 363.7zM194.7 364.1L193.9 364.3L194.2 363.5zM215.1 363.8L214.4 364.1L214.5 363.3zM235.6 363.6L234.9 364L234.9 363.2zM255.9 363.3L255.3 363.8L255.1 363zM276.2 363L275.6 363.6L275.3 362.8zM296.3 362.8L295.9 363.5L295.5 362.8zM316.5 362.7L316.1 363.4L315.7 362.7zM336.7 362.6L336.4 363.3L336 362.7zM357 362.6L356.8 363.3L356.3 362.7zM377.4 362.7L377.1 363.4L376.7 362.7zM397.9 362.9L397.5 363.5L397.1 362.8zM418.3 363.2L417.8 363.7L417.6 363zM438.7 363.5L438.1 364L438 363.2z"/>
</g>
<text class="c" transform="translate(101.5 122.9) rotate(0)">26.6</text>
<text class="c" transform="translate(190.5 217.4) rotate(-74)">26.7</text>
<text class="c" transform="translate(216.5 200.4) rotate(-63)">26.8</text>
<text class="c" transform="translate(236.5 196.9) rotate(-50)">26.9</text>
<text class="c" transform="translate(399.0 392.9) rotate(-50)">26.7</text>
<path class="f" d="M118.1 37.4v3.6M118.1 382.3v-3.6M189.3 37.4v3.6M189.3 382.3v-3.6M260.6 37.4v3.6M260.6 382.3v-3.6M331.8 37.4v3.6M331.8 382.3v-3.6M403.0 37.4v3.6M403.0 382.3v-3.6M82.5 71.9h3.6M438.6 71.9h-3.6M82.5 140.9h3.6M438.6 140.9h-3.6M82.5 209.9h3.6M438.6 209.9h-3.6M82.5 278.8h3.6M438.6 278.8h-3.6M82.5 347.8h3.6M438.6 347.8h-3.6"/>
<rect class="f" x="82.5" y="37.4" width="356.1" height="344.9"/>
<text class="p" x="81.6" y="24.4">A</text>
<text class="t" text-anchor="end" x="74.7" y="79.5">200</text>
<text class="t" text-anchor="end" x="74.7" y="148.5">100</text>
<text class="t" text-anchor="end" x="74.7" y="217.5">0</text>
<text class="t" text-anchor="end" x="74.7" y="286.4">-100</text>
<text class="t" text-anchor="end" x="74.7" y="355.4">-200</text>
<text class="l" text-anchor="middle" transform="translate(26.5 209.8) rotate(-90)">Y (km)</text>
</g>
<g id="panelB">
<g clip-path="url(#cB)">
<rect x="492.5" y="36.0" width="356.0" height="345.0" fill="#f5faf3"/>
<path fill="#fffbdd" d="M515.5 40l2.4-4 212.1 0-2.9 4-2.6 2.4-4 2.9-4 2.2-8 3.1-16 4.8-25 4.4-3 1.2-4 2.5-2.2 4.2 0 4 1.7 11.9 0 7.9-0.8 11.9 1.4 15.9-0.6 3.9-2.1 8-0.4 3.9 0.1 11.9-1.3 15.9 0.4 7.9 1.6 8 5.6 15.8 6.8 23.8 3.7 7.9 7.3 11.9 1.6 4 4 15.9 1.3 7.9 0.2 7.9-1.8 11.9-2.5 5.8-5.4 6.1-10.6 8.8-8 4.6-16 6.9-8 2.6-16 3.8-12 2-16 1.6-16 3.7-8 0.6-8-0.5-4 0.2-4 1-4 2-13.2 10.3-10.8 6.6-8 3.7-4 1.3-8 1-12-1.5 0-86.4 16 0 4-0.3 4-1.3 2.9-2.4 1.1-1.5 0.9-2.5 0.7-3.9 0.1-4-1.3-11.9-1.9-7.9-2.5-6.7-7.3-13.2-1.5-3.9-0.7-4 0.3-3.9 3.7-15.9 0.5-7.9-0.6-4-4-15.9-1.8-19.8-2.4-7.9-2-4-4.2-5.8-4-3.6 0-59.2 4-1.8 8-5.6 7.6-7.3z"/>
<path fill="#fee8b0" d="M535.7 40l2.7-4 174.7 0-5.8 4-10.8 4.4-20 5.4-16 2.7-8 2.6-1.5 0.7-4.3 4-1.3 4 0.5 3.9 4.2 11.9 0.7 8-0.7 27.7-3.1 15.9 0.4 27.7 1 8 4 11.9 8.9 19.8 7.1 23.8 7.5 15.8 1.4 4 2.6 11.9 1.1 7.9 0 4-0.9 7.9-1 4-2.6 6-4 5.3-4 3.7-8 4.6-8 3.5-8 2.4-8 1.1-20 0.9-8-0.3-4-0.8-4-1.1-8-3.3-8-4.5-12-8.5-6-5-3.9-4-6.1-7.2-6.2-8.7-11.4-19.8-3.6-7.9-2.7-8-2.2-7.9-0.7-7.9 0.8-4 1.8-3.9 2.4-4 6.2-7.9 3.6-6.9 2-5 8.5-15.9 1.5-4 1.5-7.9-0.1-4-0.9-3.9-8.5-16.4-4-4.7-4-1.2-12 0.3-4-0.7-4-1.3-4-2.1-4-2.8-12-10.4-8-5.6 0-23.2 16-11.7zM556.5 55.8l-4.8 4-2.1 4-0.9 3.9 0.2 4 1.1 4 2.5 4.8 4 4.9 2.4 2.2 5.6 3 4 0.8 8-0.6 8-2 4.1-1.2 3.9-1.8 2.9-2.2 1.1-2.2 1.2-5.7 1.3-4 5.5-7.9 0.1-4-4.1-3.5-4-1.8-8-1.9-8-0.7-8 0.3-8 1z"/>
<path fill="#fdcc93" d="M612.5 36l68.4 0-4.4 4-4 1.9-4 1.3-16 1.4-16 2.6-4 0.1-4-0.5-4-1.2-3.5-1.7-5.3-3.9zM618.1 75.7l2.4-0.7 4-0.3 4 0.7 4 2 4 3.9 2.9 6.3 1.4 7.9-0.2 15.8-0.6 4-2.3 7.9-0.6 4-0.1 4 0.6 19.8 1.6 11.9 3 7.9 14.3 25.9 2.5 5.9 5.4 19.8 6.4 15.8 1.1 4 1.9 11.9 0.4 7.9-0.5 4-2.1 7.9-3.1 5.8-4 3.8-4 2.5-8 3.7-8 2-8 0.5-24-1.2-8-2.1-6.1-3.1-5.9-3.8-8-6.5-8-7.5-9.3-9.9-6.4-8-5.4-7.9-4.5-7.9-2.4-5.4-1.7-6.5-0.4-8 0.8-3.9 1.5-4 6.1-11.9 5.7-13.5 8-11.8 3.7-6.4 4.3-9.5 3.8-10.3 2.3-11.9 1.6-19.9 0.9-3.9 2.1-4 4.8-4 8.5-3.6 4-2.5 2-1.8 2.5-3.9 2.8-8 4.7-3.5z"/>
<path fill="#f8a87a" d="M612.2 107.4l4.3-1.8 4 0.5 1.1 1.3 0.9 3.9-1.2 11.9 0.2 4 4.5 19.8 4.3 15.9 4.2 7.9 16.2 23.8 4.5 8 2.6 7.9 2.7 12.5 5.7 15.2 0.9 4 0.4 15.9-0.4 3.9-1.1 4-1.5 3.1-4 4.1-4 2.6-8 3.9-4 1.1-4 0.5-8 0.1-8-0.9-8-1.7-4-1.4-7.4-3.5-8.6-5.5-11.4-10.3-10-11.9-5.1-8-1.9-3.9-2.9-8-0.7-3.9-0.4-4 0.7-7.9 2-7.9 3-8 3.9-7.9 9.1-15.9 11.4-23.8 4.8-11.9 6.4-19.8 2.4-4z"/>
<path fill="#f58468" d="M603.8 158.9l4.7-1.8 4 0.3 4 2.3 4 4.1 24 29.3 4.1 5.5 4.3 7.9 1.1 4 3 15.8 4.5 11.9 0.6 4-0.1 4-1.5 6.4-2 5.5-2 3.8-4 3.5-4 2.2-4 1.3-4 0.7-8 0.3-4-0.4-8-1.8-4.4-1.7-7.6-3.8-8-5.4-8-7.7-8.1-10.9-4.2-7.9-2.6-7.9-0.9-8 0.8-7.9 1.2-3.9 7-15.9 10.6-19.8 4.2-5.5z"/>
<path fill="#f05e56" d="M605.7 170.8l2.8-1.3 4 0.1 4 1.9 4 3.2 20 20.9 4 4.9 3.8 6 2.2 7.9 1.6 11.9 4 11.9 0.2 4-1.7 4-2.1 2.6-4 3.8-4 2.9-4 1.7-4 0.7-8-0.1-8-2-8-3.7-8-5.5-4.7-4.4-6.3-7.9-4.3-8-2.7-7.9-0.7-4-0.1-3.9 0.6-4 2.8-7.9 7.5-15.9 3.9-6.6 4-4.6z"/>
<path fill="#ee3f4e" d="M607.2 182.7l1.3-1.2 4-1 4 1.2 4 2.8 12 10.9 6.9 7.2 2.8 3.9 2 4 1 3.9 1.2 11.9 1.8 8 0.1 3.9-2.8 4-1 0.7-4 1.8-8 1.9-4 0-8-1.8-5.5-2.6-5.8-4-4.7-4.5-4-5.3-3.2-6-1.5-4-1.3-7.9 0.3-4 1.7-5.2 4-8.5 4-7.1z"/>
<path fill="#ec2e47" d="M611.3 198.6l1.2-1.4 4-1.2 4 1.4 8 5.5 4 3.6 2.8 4 1.7 3.9 0.6 4-0.2 7.9-0.9 4.2-4 3-4 0.8-4-0.5-4-1.3-4-2.2-4-3.8-2.7-4.1-1.7-4-0.9-7.9 1.3-6.9z"/>
<path fill="#d8eef5" d="M492.5 36l16.7 0-2.2 4-3.3 3.9-7.2 5.8-4 1.8zM747 40l3.7-4 86.1 0 1 7.9 1.9 8 2.1 3.9 2.7 3.2 4 2.5 0 319.5-21.8 0-7.8-19.8-2.4-5-4-6.2-4-4.5-5.1-4.2-2.9-1.8-4-1.7-4-0.8-4 0.2-4 1-4 1.8-8.5 5.3-10.1 7.9-22.5 19.9-4.4 3.9-3.1 4-91.6 0-2-7.9-0.7-8 1.5-7.9 3.8-7.9 3-4 3.7-4 18.9-15.6 14.2-16.1 7.9-7.9 3.3-4 2.1-3.9 0.9-4 0.8-11.9-0.4-4-6.5-27.7-3.2-8-8.8-11.9-4.5-7.9-3.9-11.9-7.5-31.7 0-7.9 3.3-15.9 0.4-4-0.2-7.9 0.4-4 1.4-3.9 5-8 1.2-3.9-4.9-11.9-0.1-4 3.5-11.9-1.1-11.9 0.1-3.9 2.4-4 2.2-1.3 40-9.7 8-2.9 8-5.3z"/>
<path fill="#b3e2ef" d="M492.5 36l10.7 0-2.7 4.4-4 3.6-4 2.1zM798.9 71.7l5.6-0.8 4 0 8 1.2 8 2.8 16 7.1 8 2.7 0 36.5-14.9 6-7.6 4-4.3 3.9-1.2 1.9-1 2.1-0.8 4 0.3 7.9 1.8 7.9 3.7 10.2 4 9.3 6.6 12.3 1.2 3.9 0.3 4-0.7 11.9-1.4 7.9-6 16.8-3.6 14.9-2.4 8-7.6 19.8-2.1 4-3.1 3.9-5.2 4.5-16 9.9-24 17.5-12 6.8-12 4.3-20 5.2-4 0.5-4-0.3-2.5-0.8-1.5-0.6-4.5-3.4-2.5-3.9-0.9-4 0.8-3.9 2.2-4 6.8-7.9 1.8-4 0.3-4-2.5-7.9-2-11.9-7.5-15.9-3.9-15.8-1.6-4-5.2-7.9-9.6-11.9-4.1-8-3.5-11.8-3.7-19.9-1.2-7.9 0-4 1.3-7.9 4.3-11.9 0.5-4-0.7-7.9 0.5-4 2.9-5.1 4-3.4 5.7-3.4 4.1-3.9 1.6-4 0.3-4-1.6-7.9 1.5-4 4.2-7.9 4.2-4.7 4-1.6 4 0.4 3 2 1.6 3.9 0.4 7.9 3 2 4 0.7 12-0.1 16 1.4 8 0 8-1.8 4.3-2.2 4.3-3.9 7.4-12.2 4-4.8 4-3 4-1.9z"/>
<path fill="#8dd4f0" d="M492.5 36l4.9 0-4.9 4.7zM702.5 123.2l2-0.9 4-0.6 12 0.5 12-1.8 8 0.3 8 1.3 8 1.9 4 1.3 8 3.9 8 5.7 8 6.5 9.5 9.7 5.3 7.9 4.2 8 3.6 7.9 2.8 7.9 1.4 8 0.5 11.9 1.6 11.8-0.3 8-1.5 11.9-1.8 7.9-5.3 13.4-3.7 6.4-2.9 4-7.6 7.9-17.8 12.2-12 9.2-8 4.6-4 1.5-8 1.2-4-0.3-4-1.2-4.5-3.4-3.5-5.3-6.7-14.5-2.4-4-6.4-7.9-2.4-4-1.6-3.9-3.3-11.9-1.8-4-2.7-4-12.7-15.3-3.1-4.5-2.1-4-2.7-7.9-1.7-7.9-2.3-15.9-0.7-7.9 0.1-4 2-7.9 5.4-11.9 0.5-4-0.8-7.9 1.1-4 4.3-3.5 8-2.8z"/>
<path fill="#6dcff3" d="M723 131.2l13.5 0 12 1.9 8 2.8 4 2.2 7 5 9 7.4 4 4 6.1 8.4 5.3 11.9 2.5 7.9 0.7 4 0.2 19.8-1 15.9-2.4 11.9-3.4 7.5-4 5.6-4 4.1-20 16.5-10.9 9.9-5.1 3.3-4 1.1-4-0.5-4-2.3-12-10.1-6.9-7.4-2.5-3.9-4.5-11.9-2.1-4-3-4-13.7-15.8-5.3-8-2.9-7.9-2.8-15.8-1-11.9 0.4-8 1-3.9 1.7-4 6.7-11.9 1-4 0.3-3.9 1.5-4 8.1-2.9 8-3.6 4-1.1z"/>
<path fill="#62b5e5" d="M713.1 139.1l7.4-0.7 8 0 12 1.2 8 2 8 3.9 7.2 5.5 4.3 4 3.6 3.9 2.7 4 3.6 7.9 2.9 11.9 0.8 11.9-0.5 11.9-2.6 15.9-3 7.9-5.6 7.9-11.3 11.9-14.2 11.9-3.9 2.9-4 1.5-4 0.2-4-0.9-4-1.9-4-3.2-2.2-2.5-2.7-4-6.6-11.9-3.1-4-11.1-11.9-6.4-7.9-4.5-7.9-2.2-7.9-1.7-11.9-0.5-11.9 1-8 1.4-3.9 2.6-4.7 4-5.3 8-8.6 8-6 4-2z"/>
<path fill="#4f91cf" d="M710.8 147l5.7-1.6 4-0.4 8 0.1 12 1.8 8 3 7.3 5.1 4.1 3.9 3.2 4 4.3 7.9 2.6 8 0.7 3.9 0.4 8-0.9 11.9-1 7.9-1.6 7.9-2.9 7.9-4.6 8-2.7 3.9-4.9 5.7-12 9.9-4 2.6-4 1.2-4-0.3-4-2.1-4-4.2-6.5-8.8-3.5-4-14-14.3-4.4-5.5-3.6-5.6-2.7-6.3-0.9-3.9-1.1-8-0.5-11.9 0.7-7.9 1.1-4 3.4-6.3 4.9-5.6 7.1-6 4-2.7z"/>
<path fill="#4277bd" d="M707.2 155l5.3-2.3 8-1.4 4 0 8 1.1 8 2.7 6.3 3.8 5.7 5.7 4.2 6.2 3.8 9.5 1.3 6.4 0.3 4-0.3 7.9-2.5 15.8-3.9 11.9-4.4 8-3.3 3.9-7.2 6.2-4 2.6-4 1.5-4-0.2-4-2.3-20-18.1-5.2-5.5-6-8-3.9-7.9-1.6-7.9-0.5-7.9 0.1-8 1.3-7.9 1.5-4 2.3-3.9 3.6-4 4.4-3.8z"/>
<path fill="#3966b3" d="M711.8 158.9l4.7-1.1 8 0 4.6 1.1 7.9 4 4.6 4 3.4 3.9 2.6 4 2 4 2.8 7.9 1.3 7.9-0.1 8-1.9 11.8-2.2 8-4 7.9-3.2 4-5.8 4.4-4 1.5-4 0-4-1.3-8-5.2-8-6.8-4.5-4.5-6.2-8-2.4-3.9-2.9-7.6-0.8-8.3 0.1-7.9 1-7.9 1.2-4 2.5-4.7 4-4.5 4-3.2z"/>
<path fill="#355aab" d="M708.3 166.9l4.2-1.8 4-0.8 4 0 4 0.9 3.5 1.7 5 3.9 3.4 4 2.6 4 3.7 7.9 1.8 5.5 1.3 6.4 0.1 7.9-1 7.9-2.5 8-2.1 3.9-3.8 4.3-4 2.3-4 0.6-4-0.8-4-1.8-4-2.8-6.5-5.7-3.6-4-5.7-7.9-1.9-4-1.2-3.9-0.9-8 1.1-11.9 2.7-8 2.9-3.9z"/>
<path fill="#3652a5" d="M711.4 174.8l1.1-0.7 4-1 4 0.5 4 2.3 2.8 2.9 2.7 3.9 2.5 4.8 2.6 7.1 1.4 5 0.9 6.9-0.5 7.9-1.2 4-2.3 4-0.9 0.9-4 2.2-4-0.2-4-1.8-4-3.1-4-4.2-4-5.3-3.8-8.3-1-8 0.8-8.5 3-7.3z"/>
<ellipse class="k" cx="675.1" cy="203.5" rx="23.1" ry="23.1"/>
<ellipse class="k" cx="675.2" cy="204.4" rx="34.2" ry="34.4"/>
<ellipse class="k" cx="676.3" cy="205.7" rx="45.1" ry="45.6"/>
<ellipse class="k" cx="676.9" cy="207.0" rx="56.1" ry="56.9"/>
<ellipse class="k" cx="676.6" cy="208.5" rx="67.9" ry="69.3"/>
<ellipse class="k" cx="679.4" cy="212.4" rx="85.3" ry="87.2"/>
<path class="k" d="M492.5 52.5l3.3 1.6 3.2 1.5 3.2 1.5 3.3 1.5 3.4 1.7 3.6 1.7 3.9 1.9 4.2 2 4.4 2.1 4.4 2.1 4.2 2 3.9 1.9 3.7 1.7 3.7 1.6 3.5 1.6 3.3 1.4 3 1.4 2.8 1.3 2.4 1.2 2.1 1 1.9 0.9 1.6 0.9 1.6 1 1.4 1 1.4 1.1 1.2 1.2 1.1 1.1 0.9 1.2 0.8 1.2 0.6 1.2 0.5 1.2 0.3 1.1 0.1 1.1 0 1.2-0.1 1.2-0.3 1.2-0.4 1.3-0.6 1.4-0.7 1.4-0.9 1.4-0.9 1.3-1 1.2-1.1 1-1.2 1-1.2 0.8-1.4 0.8-1.5 0.7-1.6 0.7-1.8 0.6-1.9 0.4-2 0.4-2.2 0.4-2.1 0.3-2 0.4"/>
<path class="k" d="M507.5 115l-2.5-0.2-2.5-0.1-2.5-0.2-2.5-0.2-2.5-0.1-2.5-0.2"/>
<path class="k" d="M565.5 36l2.8 0.4 2.9 0.5 2.8 0.4 2.8 0.5 2.9 0.4 2.8 0.3 2.8 0.3 2.9 0.2 2.8 0.2 2.8 0.2 2.9 0.1 2.8 0 2.8 0 2.9-0.1 2.8-0.2 2.8-0.2 2.9-0.2 2.8-0.3 2.8-0.3 2.9-0.4 2.8-0.5 2.8-0.4 2.9-0.5 2.8-0.4"/>
<path class="k" d="M765.5 36l-2.5 0.6-2.5 0.6-2.6 0.6-2.5 0.6-2.5 0.7-2.4 0.9-2.5 1.1-2.6 1.1-2.6 1.3-2.4 1.4-2.1 1.5-1.8 1.6-1.4 1.8-1.1 1.9-0.8 2.1-0.6 2.1-0.4 2.1-0.2 2-0.1 2 0.2 1.9 0.4 2 0.5 2 0.7 2 0.8 2.1 1 2.2 1.1 2.3 1.3 2.4 1.4 2.4 1.6 2.3 1.6 2.4 1.7 2.3 1.8 2.2 1.9 2.3 2 2.2 2.2 2.4 2.4 2.6 2.6 2.8 2.9 2.9 3 3.1 3.1 3.1 3.2 3.1 3.2 3 3.2 3 3.2 3 3.3 2.9 3.4 3 3.4 3 3.5 3.1 3.6 3.2 3.7 3.2 3.8 3.3 3.8 3.2 3.6 3.2 3.5 2.9 3.3 2.7 3.1 2.6 3 2.5 2.9 2.4 2.9 2.4 2.8 2.4 2.8 2.4 2.7 2.5 2.7 2.4 2.6 2.4 2.6 2.4 2.7 2.4"/>
<path class="k" d="M848.6 345.5l-1.5 0.2-1.5 0.2-1.6 0.1-1.5 0.2-1.5 0.3-1.5 0.5-1.5 0.6-1.5 0.7-1.4 0.7-1.5 0.9-1.5 1-1.6 1.1-1.6 1.2-1.7 1.4-1.6 1.5-1.7 1.6-1.7 1.6-1.7 1.7-1.7 1.7-1.7 1.8-1.7 1.9-1.7 1.9-1.6 1.8-1.6 1.9-1.4 1.8-1.4 1.9-1.3 1.8-1.3 1.8-1.3 1.9-1.3 1.8"/>
<path class="q" d="M501.5 40.2L508.9 43.7M521.8 40.2L529.3 43.6M542.2 40.2L549.7 43.5M562.5 40.2L570.1 43.2M582.8 40.2L590.6 42.7M603.1 40.2L611 41.9M623.5 40.2L631.3 40.8M643.8 40.2L651.5 39.6M664.1 40.2L671.5 38.5M684.5 40.2L691.3 37.8M704.8 40.2L711 37.5M725.1 40.2L730.4 37.6M745.5 40.2L749.6 38M765.8 40.2L768.7 38.5M786.1 40.2L788.1 38.9M806.5 40.2L808 39.2M826.8 40.2L828.1 39.5M847.1 40.2L848.5 39.7M501.5 63.2L507.5 65.9M521.8 63.2L527.8 65.8M542.2 63.2L548.2 65.7M562.5 63.2L568.5 65.5M582.8 63.2L588.8 65.1M603.1 63.2L609 64.5M623.5 63.2L629.1 63.7M643.8 63.2L649.1 62.7M664.1 63.2L669.1 61.8M684.5 63.2L689 61.1M704.8 63.2L708.9 60.7M725.1 63.2L728.7 60.8M745.5 63.2L748.3 61M765.8 63.2L767.8 61.4M786.1 63.2L787.5 61.8M806.5 63.2L807.6 62M826.8 63.2L827.9 62.2M847.1 63.2L848.3 62.4M501.5 86.2L505.2 87.7M521.8 86.2L525.5 87.6M542.2 86.2L545.7 87.6M562.5 86.2L565.8 87.6M582.8 86.2L585.8 87.5M603.1 86.2L605.7 87.4M623.5 86.2L625.4 87M643.8 86.2L645.3 86.2M664.1 86.2L664.7 84.9M684.5 86.2L684.6 84.3M704.8 86.2L705 83.9M725.1 86.2L725.5 83.8M745.5 86.2L745.9 84M765.8 86.2L766.2 84.3M786.1 86.2L786.5 84.6M806.5 86.2L806.9 84.8M826.8 86.2L827.5 84.9M847.1 86.2L848.1 85.1M501.5 109.2L503.5 109.7M521.8 109.2L523.7 109.8M542.2 109.2L543.8 110M562.5 109.2L563.7 110.4M582.8 109.2L583 110.8M603.1 109.2L602 111M623.5 109.2L621 110.9M643.8 109.2L640.1 110.2M664.1 109.2L659.8 109.2M684.5 109.2L680 108M704.8 109.2L701 107.1M725.1 109.2L722.2 106.7M745.5 109.2L743.5 106.7M765.8 109.2L764.5 107.1M786.1 109.2L785.4 107.4M806.5 109.2L806.2 107.7M826.8 109.2L826.9 107.8M847.1 109.2L847.7 107.9M501.5 132.2L502.9 132.2M521.8 132.2L523.2 132.6M542.2 132.2L542.9 133.4M562.5 132.2L562.1 133.9M582.8 132.2L581.2 134.6M603.1 132.2L599.9 135.4M623.5 132.2L618.4 135.5M643.8 132.2L637.1 134.8M664.1 132.2L656.5 133.1M684.5 132.2L676.9 131M704.8 132.2L698.3 129.4M725.1 132.2L720.1 128.6M745.5 132.2L742 128.8M765.8 132.2L763.6 129.3M786.1 132.2L784.8 130M806.5 132.2L805.8 130.5M826.8 132.2L826.6 130.8M847.1 132.2L847.3 130.8M501.5 155.2L502.9 155M521.8 155.2L523.1 156M542.2 155.2L542.2 156.6M562.5 155.2L561.6 157.7M582.8 155.2L580.7 159.1M603.1 155.2L599.2 160.4M623.5 155.2L617.5 160.9M643.8 155.2L636.5 159.4M664.1 155.2L655.8 156.9M684.5 155.2L676.1 153.8M704.8 155.2L697.5 151.2M725.1 155.2L719.6 150M745.5 155.2L741.7 150.3M765.8 155.2L763.4 151.2M786.1 155.2L784.7 152.3M806.5 155.2L805.6 153.1M826.8 155.2L826.4 153.6M847.1 155.2L847.1 153.8M501.5 178.2L502.9 178.1M521.8 178.2L522.8 179.2M542.2 178.2L542.3 180M562.5 178.2L561.9 181.5M582.8 178.2L581.2 183.6M603.1 178.2L600.2 185.4M623.5 178.2L619.2 185.5M643.8 178.2L638 184.4M664.1 178.2L657.5 180.8M684.5 178.2L678 176.4M704.8 178.2L699.4 173M725.1 178.2L721.1 171.6M745.5 178.2L742.7 171.9M765.8 178.2L764 173.2M786.1 178.2L785 174.7M806.5 178.2L805.8 175.8M826.8 178.2L826.4 176.5M847.1 178.2L847 176.8M501.5 201.2L502.9 201.3M521.8 201.2L522.8 202.2M542.2 201.2L542.6 203.2M562.5 201.2L562.7 205M582.8 201.2L582.6 207.2M603.1 201.2L602.5 209.3M623.5 201.2L622.5 209.6M643.8 201.2L642.5 208.3M664.1 201.2L662.5 204.4M684.5 201.2L682.8 199M704.8 201.2L703.6 195.5M725.1 201.2L724.2 194M745.5 201.2L744.7 194.4M765.8 201.2L765.2 195.8M786.1 201.2L785.7 197.4M806.5 201.2L806.1 198.6M826.8 201.2L826.6 199.4M847.1 201.2L847.1 199.8M501.5 224.2L502.9 224.4M521.8 224.2L522.9 225.1M542.2 224.2L543.1 226.1M562.5 224.2L563.5 227.8M582.8 224.2L584.2 229.8M603.1 224.2L605.2 231.7M623.5 224.2L626.3 232.2M643.8 224.2L647.3 230.6M664.1 224.2L668.2 226.9M684.5 224.2L688.4 222.3M704.8 224.2L707.9 219M725.1 224.2L727.4 217.6M745.5 224.2L746.9 217.9M765.8 224.2L766.5 219.1M786.1 224.2L786.4 220.6M806.5 224.2L806.5 221.7M826.8 224.2L826.8 222.4M847.1 224.2L847.3 222.8M501.5 247.2L502.9 247.5M521.8 247.2L523.1 248M542.2 247.2L543.5 248.8M562.5 247.2L564.2 250M582.8 247.2L585.2 251.6M603.1 247.2L606.8 252.9M623.5 247.2L628.5 253.3M643.8 247.2L650.1 251.9M664.1 247.2L671.1 249.1M684.5 247.2L691.1 245.8M704.8 247.2L710.4 243.2M725.1 247.2L729.3 242M745.5 247.2L748.2 242.1M765.8 247.2L767.4 243M786.1 247.2L786.9 244.1M806.5 247.2L806.9 245M826.8 247.2L827.1 245.6M847.1 247.2L847.6 245.8M501.5 270.2L502.9 270.6M521.8 270.2L523.1 270.9M542.2 270.2L543.6 271.4M562.5 270.2L564.3 272.1M582.8 270.2L585.5 273.1M603.1 270.2L607 273.9M623.5 270.2L628.7 274M643.8 270.2L650.3 273.1M664.1 270.2L671.2 271.3M684.5 270.2L691.2 269.1M704.8 270.2L710.6 267.4M725.1 270.2L729.5 266.6M745.5 270.2L748.4 266.6M765.8 270.2L767.6 267.1M786.1 270.2L787.2 267.8M806.5 270.2L807.1 268.4M826.8 270.2L827.4 268.8M847.1 270.2L847.9 269M501.5 293.2L502.8 293.9M521.8 293.2L523.1 293.9M542.2 293.2L543.5 294.1M562.5 293.2L564.2 294.4M582.8 293.2L585.1 294.9M603.1 293.2L606.3 295.2M623.5 293.2L627.7 295.2M643.8 293.2L648.9 294.6M664.1 293.2L669.6 293.6M684.5 293.2L689.8 292.4M704.8 293.2L709.3 291.4M725.1 293.2L728.6 290.8M745.5 293.2L747.9 290.8M765.8 293.2L767.4 291.1M786.1 293.2L787.2 291.5M806.5 293.2L807.3 291.8M826.8 293.2L827.6 292M847.1 293.2L848.2 292.3M501.5 316.2L502.6 317.1M521.8 316.2L523 317.1M542.2 316.2L543.3 317M562.5 316.2L563.9 317.1M582.8 316.2L584.6 317.2M603.1 316.2L605.5 317.2M623.5 316.2L626.4 317.1M643.8 316.2L647.2 316.7M664.1 316.2L667.8 316.2M684.5 316.2L688 315.5M704.8 316.2L707.8 315M725.1 316.2L727.5 314.7M745.5 316.2L747.2 314.6M765.8 316.2L767.1 314.8M786.1 316.2L787.1 314.9M806.5 316.2L807.4 315.1M826.8 316.2L827.9 315.3M847.1 316.2L848.4 315.6M501.5 339.2L502.4 340.3M521.8 339.2L522.8 340.3M542.2 339.2L543.2 340.2M562.5 339.2L563.7 340M582.8 339.2L584.2 339.9M603.1 339.2L604.8 339.8M623.5 339.2L625.5 339.6M643.8 339.2L646 339.3M664.1 339.2L666.4 339M684.5 339.2L686.6 338.6M704.8 339.2L706.7 338.3M725.1 339.2L726.7 338.2M745.5 339.2L746.8 338.1M765.8 339.2L766.9 338.2M786.1 339.2L787.2 338.2M806.5 339.2L807.6 338.4M826.8 339.2L828.1 338.6M847.1 339.2L848.5 338.9M501.5 362.2L502.2 363.4M521.8 362.2L522.6 363.4M542.2 362.2L543.1 363.3M562.5 362.2L563.6 363.1M582.8 362.2L584.1 362.9M603.1 362.2L604.5 362.7M623.5 362.2L625 362.4M643.8 362.2L645.4 362.2M664.1 362.2L665.7 361.9M684.5 362.2L686 361.7M704.8 362.2L706.1 361.5M725.1 362.2L726.3 361.4M745.5 362.2L746.6 361.3M765.8 362.2L766.9 361.3M786.1 362.2L787.3 361.4M806.5 362.2L807.7 361.6M826.8 362.2L828.2 361.8M847.1 362.2L848.6 362.1"/>
<path class="h" d="M513.3 45.8L507.7 45.1L509.2 41.9zM533.7 45.7L528.1 45L529.6 41.8zM554.1 45.4L548.5 44.9L549.9 41.6zM574.6 44.9L569 44.6L570.3 41.3zM595.1 44.1L589.6 44.2L590.6 40.9zM615.6 42.9L610.1 43.5L610.9 40.1zM636 41.2L630.7 42.5L631 39.1zM656 39.3L651.1 41.3L650.9 38zM675.8 37.6L671.4 40.2L670.6 37.1zM695.3 36.4L691.4 39.5L690.4 36.5zM714.6 36L711.2 39.1L710 36.4zM733.4 36.2L730.6 39L729.4 36.6zM751.7 36.8L749.6 39.1L748.6 37.3zM770 37.7L768.7 39.4L767.9 38zM788.8 38.4L788 39.6L787.4 38.7zM808.3 39L807.8 39.9L807.3 39.1zM828.2 39.4L827.8 40.1L827.5 39.4zM848.6 39.7L848.1 40.3L847.9 39.5zM510.9 67.4L506.4 67L507.6 64.4zM531.2 67.3L526.8 66.9L527.9 64.3zM551.6 67.1L547.2 66.8L548.3 64.2zM571.9 66.8L567.5 66.6L568.5 64zM592.1 66.2L587.9 66.3L588.7 63.7zM612.3 65.3L608.2 65.7L608.8 63.1zM632.2 64L628.5 64.9L628.8 62.4zM652 62.4L648.8 63.9L648.5 61.6zM671.7 61L668.9 63L668.3 60.8zM691.4 60L689 62.3L688.1 60.3zM711 59.5L709 61.9L707.9 60.1zM730.4 59.5L728.8 61.8L727.7 60.2zM749.5 60.1L748.4 62L747.4 60.7zM768.5 60.8L767.8 62.2L767 61.3zM787.9 61.4L787.5 62.5L786.8 61.8zM807.7 61.8L807.5 62.7L806.9 62.1zM828 62.1L827.7 62.9L827.2 62.3zM848.5 62.3L848.1 63L847.7 62.4zM506.9 88.4L504.4 88.3L505 86.6zM527.2 88.3L524.7 88.3L525.3 86.6zM547.4 88.3L544.9 88.2L545.6 86.6zM567.4 88.2L565.1 88.2L565.7 86.6zM587.2 88.1L585.1 88L585.7 86.6zM606.7 87.8L604.9 87.8L605.5 86.6zM625.9 87.2L624.7 87.3L625.1 86.3zM645.4 86.2L644.8 86.6L644.8 85.8zM664.8 84.7L664.9 85.5L664.2 85.2zM684.6 83.9L685 84.9L684.1 84.8zM705 83.2L705.5 84.5L704.4 84.4zM725.6 83L726 84.4L724.8 84.2zM746 83.3L746.3 84.6L745.2 84.4zM766.3 83.8L766.5 84.9L765.6 84.7zM786.5 84.3L786.8 85.2L786 85zM807 84.7L807.1 85.4L806.4 85.2zM827.5 84.8L827.6 85.6L826.9 85.2zM848.2 85L848 85.7L847.4 85.2zM504.1 109.9L502.9 110.1L503.2 109.1zM524.3 110L523.1 110.2L523.4 109.2zM544.2 110.2L543.2 110.2L543.6 109.4zM563.9 110.6L563 110.3L563.6 109.7zM583 111.1L582.5 110.4L583.4 110.3zM601.6 111.6L601.8 110.3L602.7 110.9zM619.9 111.6L621 110L621.8 111.2zM638.4 110.7L640.4 109.3L640.9 110.9zM657.6 109.2L660.3 108.2L660.3 110.2zM677.8 107.4L680.8 107.2L680.3 109.2zM699 106.1L701.9 106.5L700.9 108.2zM720.8 105.5L723.2 106.3L722 107.7zM742.6 105.7L744.4 106.7L743.2 107.6zM764.1 106.3L765.3 107.2L764.3 107.8zM785.3 107L786.1 107.7L785.2 108.1zM806.2 107.5L806.7 108.1L805.9 108.3zM827 107.6L827.3 108.3L826.5 108.2zM847.7 107.7L847.8 108.5L847.1 108.2zM503.1 132.3L502.4 132.6L502.5 131.8zM523.4 132.7L522.6 132.9L522.8 132.1zM543 133.6L542.3 133.2L543 132.8zM562 134.2L561.8 133.3L562.6 133.5zM580.5 135.6L580.9 133.8L582 134.6zM598.3 137L599.6 134.3L601 135.7zM615.6 137.4L618.1 134.1L619.6 136.4zM633.2 136.2L637 133.1L638.1 136zM652 133.6L656.8 131.4L657.2 134.7zM672.5 130.3L677.7 129.5L677.2 132.7zM694.5 127.8L699.4 128.2L698.1 131zM717.4 126.7L721.3 127.8L719.8 130zM740.2 127L743.2 128.3L741.6 129.9zM762.6 128L764.6 129.2L763.3 130.2zM784.4 129.2L785.6 130.1L784.6 130.7zM805.6 130.1L806.4 130.8L805.5 131.1zM826.5 130.6L827 131.2L826.2 131.3zM847.3 130.6L847.6 131.3L846.8 131.2zM503.1 155L502.5 155.5L502.4 154.7zM523.2 156.1L522.4 156L522.8 155.4zM542.2 156.8L541.8 156.2L542.6 156.1zM561.3 158.6L561.2 157L562.4 157.4zM579.6 161.1L580 158.2L581.8 159.2zM597 163.4L598.4 159.2L600.7 160.9zM614 164.2L616.7 159.2L619.1 161.8zM632.1 162L636 157.6L637.8 160.8zM650.9 157.9L656 155L656.7 158.6zM671.2 152.9L676.9 152.1L676.3 155.6zM693.1 148.8L698.8 149.8L697.1 153zM716.4 147L721.1 149.2L718.8 151.6zM739.5 147.5L743.1 149.8L740.9 151.5zM762.2 149.2L764.5 151.1L762.8 152.2zM784.1 151.1L785.6 152.4L784.2 153.1zM805.4 152.5L806.3 153.4L805.3 153.8zM826.3 153.3L826.9 154L826.1 154.2zM847.1 153.6L847.5 154.3L846.7 154.3zM503.1 178.1L502.5 178.5L502.4 177.7zM522.9 179.4L522.2 179.2L522.8 178.6zM542.3 180.4L541.8 179.5L542.7 179.5zM561.6 183L561.2 180.9L562.8 181.2zM580.4 186.5L580.2 182.7L582.5 183.4zM598.4 189.6L598.8 184.3L601.9 185.6zM616.7 189.9L617.9 184.2L621.1 186zM634.6 188L637 182.8L639.7 185.2zM653.6 182.3L657.4 179.2L658.5 182.1zM674.3 175.3L678.9 175.1L678.1 177.9zM696.2 170L700.9 172.2L698.6 174.5zM718.7 167.7L722.8 171.1L719.9 172.9zM741.1 168.3L744.2 171.8L741.5 173zM763 170.6L765.3 173.3L763 174.1zM784.5 173.1L786 174.9L784.3 175.4zM805.5 175L806.5 176.1L805.3 176.5zM826.3 176.1L827 176.9L826.1 177.1zM847 176.6L847.5 177.2L846.7 177.3zM503.1 201.3L502.4 201.6L502.5 200.8zM522.9 202.4L522.2 202.2L522.8 201.6zM542.8 203.8L542 202.9L543 202.6zM562.7 206.8L561.8 204.5L563.5 204.4zM582.5 210.6L581.3 206.7L584 206.8zM602.2 214.1L600.8 208.7L604.3 208.9zM621.9 214.6L620.8 208.9L624.4 209.3zM641.7 212.4L641 207.5L644.1 208.1zM661.8 205.8L662 203.6L663.5 204.3zM682.2 198.1L683.7 199L682.6 199.8zM702.9 192.3L704.9 195.7L702.4 196.2zM723.6 189.9L725.8 194.3L722.7 194.7zM744.3 190.5L746.2 194.7L743.3 195zM764.9 192.9L766.5 196.2L764.1 196.4zM785.4 195.6L786.6 197.8L784.9 198zM806 197.7L806.8 199.1L805.6 199.2zM826.5 199L827.1 199.8L826.2 199.9zM847.1 199.6L847.5 200.3L846.7 200.3zM503.1 224.4L502.4 224.7L502.5 223.9zM523.1 225.2L522.3 225.1L522.8 224.5zM543.4 226.7L542.4 225.9L543.4 225.5zM564 229.4L562.6 227.5L564.2 227zM585 232.9L582.9 229.6L585.3 229zM606.3 236.1L603.4 231.6L606.6 230.8zM627.9 237L624.4 232.3L627.8 231.1zM649.4 234.3L645.7 230.9L648.5 229.4zM670.3 228.3L667.1 227.5L668.4 225.7zM690.3 221.4L688.3 223.4L687.5 221.7zM709.7 216.1L708.8 220.1L706.5 218.8zM728.6 213.8L728.6 218.6L725.8 217.6zM747.6 214.3L748.1 218.7L745.4 218.1zM766.9 216.5L767.6 219.8L765.3 219.5zM786.5 218.9L787.2 221.1L785.5 221zM806.5 220.9L807.1 222.2L805.9 222.2zM826.8 222L827.3 222.9L826.4 222.9zM847.3 222.6L847.6 223.3L846.9 223.2zM503.1 247.5L502.4 247.8L502.5 247zM523.2 248L522.4 248L522.8 247.4zM543.8 249.2L542.7 248.7L543.5 248.1zM564.9 251.2L563.2 250L564.6 249.2zM586.5 253.8L584 251.7L586 250.6zM608.8 256.2L605.3 253.3L607.7 251.7zM631.5 256.8L626.9 254L629.5 251.8zM653.8 254.7L648.7 253L650.7 250.3zM675 250.2L670.2 250.5L671 247.5zM694.9 244.9L690.9 247.3L690.3 244.4zM713.5 240.9L710.8 244.7L709.1 242.3zM731.6 239.1L730.1 243.3L727.8 241.5zM749.7 239.4L749.1 243.2L746.8 242zM768.2 241L768.1 243.9L766.2 243.2zM787.3 242.8L787.5 244.8L786.1 244.4zM807 244.3L807.3 245.6L806.2 245.4zM827.2 245.3L827.4 246.2L826.6 246zM847.6 245.7L847.8 246.4L847 246.2zM503 270.7L502.3 270.9L502.5 270.1zM523.2 271L522.5 271L522.8 270.3zM543.9 271.6L542.9 271.4L543.5 270.7zM565 272.9L563.5 272.2L564.5 271.3zM586.7 274.4L584.5 273.3L585.8 272.1zM609.1 275.8L605.8 274.4L607.4 272.7zM631.7 276.1L627.5 274.9L629.2 272.6zM654 274.8L649.2 274.3L650.4 271.5zM675.2 271.9L670.5 272.7L670.9 269.7zM695.1 268.5L691 270.7L690.5 267.7zM713.8 265.8L710.7 268.9L709.5 266.3zM731.9 264.6L729.9 267.8L728.3 265.9zM749.9 264.7L748.9 267.6L747.3 266.3zM768.4 265.8L768 268L766.6 267.2zM787.5 267L787.5 268.5L786.4 268zM807.3 268L807.4 269L806.5 268.7zM827.5 268.6L827.5 269.4L826.8 269.1zM848 268.9L848 269.6L847.3 269.2zM502.9 293.9L502.2 294L502.5 293.3zM523.2 294L522.5 294L522.8 293.3zM543.7 294.3L542.9 294.2L543.3 293.5zM564.7 294.8L563.5 294.6L564.1 293.7zM586.1 295.5L584.3 295.1L585.1 294zM607.8 296.1L605.5 295.7L606.4 294.2zM629.8 296.2L626.8 295.9L627.7 294zM651.6 295.4L648.1 295.6L648.7 293.4zM672.6 293.8L669 294.8L669.2 292.3zM692.6 291.9L689.5 293.6L689.1 291.3zM711.7 290.4L709.3 292.6L708.5 290.5zM730.4 289.7L728.8 291.9L727.7 290.3zM749 289.8L748.1 291.7L747 290.6zM768 290.3L767.6 291.9L766.6 291.1zM787.5 291L787.4 292.2L786.5 291.6zM807.4 291.6L807.4 292.5L806.7 292zM827.7 291.9L827.7 292.7L827 292.2zM848.3 292.2L848.1 292.9L847.6 292.3zM502.7 317.2L502 317.1L502.5 316.5zM523.1 317.2L522.3 317.1L522.8 316.5zM543.5 317.1L542.7 317.1L543.2 316.4zM564.2 317.2L563.3 317.2L563.7 316.4zM585.2 317.4L584 317.4L584.4 316.5zM606.3 317.6L604.8 317.6L605.3 316.4zM627.6 317.5L625.7 317.6L626.1 316.3zM648.7 317L646.6 317.4L646.8 315.9zM669.4 316.1L667.3 317L667.2 315.3zM689.5 315.2L687.6 316.4L687.3 314.8zM709.2 314.5L707.7 315.9L707.1 314.5zM728.5 314.1L727.5 315.5L726.8 314.4zM747.9 314.1L747.3 315.4L746.5 314.5zM767.4 314.4L767.1 315.5L766.4 314.8zM787.3 314.7L787.2 315.6L786.5 315.1zM807.5 315L807.4 315.8L806.8 315.2zM828 315.2L827.8 315.9L827.3 315.3zM848.6 315.5L848.1 316.2L847.8 315.4zM502.5 340.4L501.8 340.2L502.4 339.7zM522.9 340.4L522.2 340.2L522.8 339.6zM543.4 340.3L542.6 340.1L543.1 339.5zM563.8 340.1L563.1 340.1L563.5 339.4zM584.4 340L583.6 340L584 339.3zM605.2 339.9L604.2 340L604.5 339.2zM626 339.7L624.9 340L625.1 339zM646.7 339.3L645.5 339.8L645.5 338.7zM667.1 338.9L666 339.6L665.9 338.5zM687.3 338.4L686.3 339.3L686 338.2zM707.3 338.1L706.5 339L706.1 338.1zM727.2 337.9L726.6 338.8L726.1 338zM747 337.9L746.7 338.8L746.1 338.1zM767 338L766.8 338.8L766.3 338.2zM787.3 338.1L787.1 338.9L786.6 338.3zM807.8 338.3L807.4 339L807 338.3zM828.2 338.5L827.8 339.2L827.5 338.5zM848.7 338.9L848.1 339.4L848 338.6zM502.3 363.6L501.6 363.2L502.3 362.8zM522.7 363.5L522 363.2L522.7 362.8zM543.2 363.4L542.5 363.2L543.1 362.7zM563.7 363.2L563 363.1L563.5 362.5zM584.2 363L583.5 363L583.8 362.3zM604.7 362.7L603.9 362.9L604.2 362.1zM625.1 362.4L624.4 362.7L624.5 361.9zM645.6 362.2L644.9 362.6L644.9 361.8zM665.9 361.9L665.3 362.4L665.1 361.6zM686.2 361.6L685.6 362.2L685.3 361.4zM706.3 361.4L705.9 362.1L705.5 361.4zM726.5 361.3L726.1 362L725.7 361.3zM746.7 361.2L746.4 361.9L746 361.3zM767 361.2L766.8 361.9L766.3 361.3zM787.4 361.3L787.1 362L786.7 361.3zM807.9 361.5L807.5 362.1L807.1 361.4zM828.3 361.8L827.8 362.3L827.6 361.6zM848.7 362.1L848.1 362.6L848 361.8z"/>
</g>
<text class="c" transform="translate(511.5 121.5) rotate(0)">26.6</text>
<text class="c" transform="translate(600.5 216.0) rotate(-74)">26.7</text>
<text class="c" transform="translate(626.5 199.0) rotate(-63)">26.8</text>
<text class="c" transform="translate(646.5 195.5) rotate(-50)">26.9</text>
<text class="c" transform="translate(809.0 391.5) rotate(-50)">26.7</text>
<path class="f" d="M528.1 36.0v3.6M528.1 381.0v-3.6M599.3 36.0v3.6M599.3 381.0v-3.6M670.5 36.0v3.6M670.5 381.0v-3.6M741.7 36.0v3.6M741.7 381.0v-3.6M812.9 36.0v3.6M812.9 381.0v-3.6M492.5 70.5h3.6M848.5 70.5h-3.6M492.5 139.5h3.6M848.5 139.5h-3.6M492.5 208.5h3.6M848.5 208.5h-3.6M492.5 277.5h3.6M848.5 277.5h-3.6M492.5 346.5h3.6M848.5 346.5h-3.6"/>
<rect class="f" x="492.5" y="36.0" width="356.0" height="345.0"/>
<text class="p" x="492.4" y="24.4">B</text>
</g>
<g id="panelC">
<g clip-path="url(#cC)">
<rect x="906.1" y="36.7" width="356.3" height="345.1" fill="#f5faf3"/>
<path fill="#fffbdd" d="M989.2 36.7l183.4 0 1.1 7.9 4.1 8 0.8 3.9-1.3 15.9 3.6 23.8-0.6 7.9-1.2 4-2.5 4-2.3 2.1-4 2.3-11.2 3.5-12.8 2.7-4 0.2-4-0.8-12-4.8-8-1.7-4 0-12 1.7-12-0.3-4 0.6-16.1 5.2-8 3.8-12 8.7-14.3 8.5-9.7 6.9-4 1.1-4-0.8-4-2.9-4-4.7-4-6.3-2.7-5.2-5.3-14.5-5.9-13.3-0.5-3.9 0.5-4 4-7.9 5.9-9.2 3.1-6.7 2-7.9 0-4-0.9-4-2.1-3.9-3.3-4-9.1-7.9zM1102.3 86.5l-2.5 1.8-1.5 2.8-0.4 5.1 0.4 1.8 1.7 2.2 2.3 1.3 4.2-1.3 3.4-4 1.1-4-1-3.9-3.7-2.1zM1028.1 179.5l2.1-0.7 4-0.4 4 0.8 4 1.8 4 2.6 4.1 3.8 5.9 8 2 1.9 2.5 2 5.5 3.2 6 4.8 3.5 3.9 2.4 4 4.1 9.2 4.1 3.7 8 3.8 3.7 3.1 5.6 8 7.6 7.9 2.7 4 1.5 3.9 1.3 8 0.1 3.9-0.7 4-1.7 4-4.1 6.2-4 4.4-4 3.4-4 2.4-4 1.4-4 0.6-4 0.1-8.1-1.2-8-2.3-8-3.4-4-2.3-5.5-5.4-4.5-7.9-5.4-11.9-8.2-11.9-4.4-4-16-12.2-6.1-3.6-4.6-4-1.5-4 0.2-3.9 0.9-4 3.1-9 6.5-14.8 1.5-2.3 4-4 4-2.9zM1248.9 250.9l5.5-2.1 8-0.9 0 28.7-8 0.5-4-0.3-6.7-2.1-5.4-4-2.1-3.9 0.3-4 2.2-4 3.7-3.8z"/>
<path fill="#fee8b0" d="M1003.2 36.7l156.6 0-1.8 4-3 3.9-3.8 4-8.9 7.5-8 5.6-4 1.9-4 1.2-23.9 3.6-8.1 1.9-4 1.2-4 2-3.5 2.9-2.3 3.9-2.8 8-4 7.9-3.5 4.8-6.3 7.1-13.4 11.9-4.3 3.3-8 4.2-8 2-4-0.3-3.4-1.3-4.6-3.8-4-6.1-4.2-9.9-1.4-7.9 0.2-4 2-7.9 7.2-19.9 0.6-3.9-0.4-4-1.3-4-2.1-3.9zM1030.7 195.4l3.5-1.6 4-0.3 4 1.8 3.3 4 4.4 4 12.3 3 4 2.2 3.3 2.7 2.8 4 1.8 4 1.9 7.9 2.4 4 3.8 2.7 8.1 3.3 4 3.6 9.6 14.2 1.3 3.9 0.4 4 0 4-0.6 3.9-1.6 4-2.9 4-2.2 2.3-4 2.7-4 1.5-4 0.4-4.1-0.3-8-2-4-1.7-4-2.4-4-4-2.8-4.5-8-19.8-2.7-4-4.3-3.9-14.2-9.8-6.6-6.1-2.4-4-0.5-3.9 5.5-17.3 1.1-2.6z"/>
<path fill="#fdcc93" d="M1012.5 36.7l134.8 0-2.8 4-6.2 5.6-4 3-8 4.5-8 2.7-28 6.6-4.3 1.4-8.1 3.9-5.4 4-3.8 4-10.5 15.4-4 4.4-4 3.5-4 2.7-4 1.8-4 0.6-4-0.5-4-2.3-1.6-1.8-2.4-4-0.7-4 0-3.9 0.7-4.4 4-11.5 0.7-4-0.4-3.9-1.6-4-2.5-4-9.2-11.9zM1036.7 211.2l1.5-0.7 4 0.8 4 1.6 4 0.7 8 0.5 2.9 1.1 2.1 4-1 3.7-6.8 4.2-5.2 2-4 0.1-4-1.3-4-2.7-1.9-2.1-2-3.9-0.1-4.5zM1070.6 246.9l3.6-2.2 4-0.1 4 1.5 4.1 3.9 3.8 4.9 1.9 3.9 0.5 4-0.9 4-1.3 2.2-2.2 1.7-1.8 1-4.1 0.3-4-0.7-4-2-4-4.4-2.4-6.1-0.3-3.9 0.9-4z"/>
<path fill="#f8a87a" d="M1019.9 36.7l113.6 0-3.1 4-4.1 3.1-9.5 4.8-26.5 7.4-20.1 7.2-8 1.6-4 0.1-8-1.7-8-4-4-2.8-8-6.4-4-4-4.2-5.3z"/>
<path fill="#f58468" d="M1028.2 36.7l89.2 0-7.1 4.6-16 5.2-12.1 5.4-8 2.5-8 0.9-4-0.2-8-1.5-8-2.6-4-1.8-8-5.2-3.5-3.3z"/>
<path fill="#f05e56" d="M1039.7 36.7l47.6 0-2.4 4-5.1 3.9-5.6 1.9-8 0.5-8-1.1-8-2.3-6-2.9z"/>
<path fill="#d8eef5" d="M906.1 36.7l66.6 0-0.7 4-1.8 5.6-4 3.6-8.1 2.5-12 4.6-40 21zM1214 36.7l48.4 0 0 117.9-8-3.9-12-7.8-8-5.9-4-3.8-4.6-5.3-8.9-11.9-4.6-7.9-1.6-4-1.2-3.9-1.3-8-0.3-7.9 0.7-7.9 2.1-8 5.3-11.9 1-3.9 0.1-4zM968.7 56.5l1.5-2.2 4-1 4 0.9 4.8 2.3 4.1 4 1.1 4-1 3.9-1 1.5-4 3.5-4 1.4-4-0.3-3.4-2.1-2.6-4-1.1-3.9 0.2-4zM906.1 120l0-2.2 12 4.1 24 3 24.1 5.8 8 3.3 8 4.4 4 3 4 4.4 4 6.7 3 7.2 2.2 7.9 0.3 4-0.2 3.9-1.3 6.8-4 15.3-2.5 5.7-1.5 2.5-4 2.7-4 0.4-16-2.9-4.1 0-4 0.8-4 2.8-1 1.6-0.6 4 1 4 2 3.9 3 4 4.5 4 7.2 3.6 12 3.7 8 3.2 8.6 5.3 4.2 4 3.3 4 5.3 7.9 3.9 7.9 1.2 4 1.4 7.9 0.6 15.9 0.8 4 2.7 6.7 4 4.9 4 2.8 8 2.8 8 1.5 8 0.1 28-4.3 12.1-3.4 8-3.8 8-4.8 4-3 8-7.6 5.7-7.8 3-7.9 0.5-4-0.4-4-1.7-3.9-3.1-4.3-4.1-7.6-2.9-4-3.7-4-5.3-4.5-9.9-11.3-6.1-4.9-5-3.1-3-2.7-8.7-13.1-3.4-3.6-9.5-8.3-20.2-23.8-2.1-4-1.3-4-0.1-3.9 1.1-4 2.8-4 5.3-3.9 4-2.2 24-11.6 4-1 4.1-0.4 16 0.9 4-0.2 12-2.2 4-0.3 4 0.8 12 5.7 4 0.6 12-0.5 4 0.4 4 1.1 12 5.8 16 6.5 6.4 4.5 3.5 4 4.1 7.9 1.7 7.9 0.1 4-0.7 4-1.3 3.9-2.1 4-5 7.9-6.7 9.1-4 7.2-1.3 3.6-2 7.9 0.6 15.9-0.9 3.9-1.5 4-5.2 7.9-5.7 7.6-5 4.3-2.7 4 0.5 4 2 3.9 10.9 11.9 3 4 3.9 7.9 1.1 4 0.3 4-3 19.8 0 4 1.1 7.9 3.9 13.9 4 10.5 4 6 5.3 5.3-143.9 0-2.6-4-4.2-3.9-14.7-10-7.4-5.9-4.3-4-10.4-11.9-4.1-3.9-6-4-7.8-3.8-8-3-4-0.7-12-0.3-4-1.2-16.1-11.5-24-13.3-4-0.9-4 1-4 3.3-4 4.5-4 3.4zM1233.5 314.4l8.9-1.5 20 0.7 0 68.2-43.4 0 7.4-10.3 2.3-5.6 0.7-3.9-0.6-8-4-19.8-0.4-7.9 0.6-4 2.3-4 3.1-2.5zM906.1 369.9l0-2.4 4 1.7 4 2.4 7.2 6.2 2.8 4-18 0z"/>
<path fill="#b3e2ef" d="M906.1 36.7l48 0-4.3 4-27.7 17.6-8 4.9-8 3.6zM1247 80.3l3.4-1.4 4-0.8 8-0.2 0 35.1-8 0.9-4-0.7-4-1.9-3.7-3.2-2.8-4-1.8-3.9-0.7-4 0.2-4 0.8-2.7 4-6zM1075.7 143.8l6.5-3.1 4.1-0.6 16 1.1 16-1.1 4 0.1 4 1.2 8 4.1 4 1.2 12 1 4 0.9 6.5 3.1 4.7 4 3 4 5.7 11.9 4.1 5.9 0.9 2 0.6 4-0.3 3.9-5.2 27.8-0.7 7.9 0 15.9-0.5 4-1.3 3.9-1.5 2.8-4 4.7-4 2.3-4 1.5-8 5.1-4 0.7-8-7.2-8-4.2-4-2.9-28-25.8-8-6.4-11.3-14.2-11.4-11.9-11.9-15.9-3.9-7.9-0.7-4 0.9-3.9 3.2-4 5.9-4z"/>
<path fill="#8dd4f0" d="M906.1 36.7l30.3 0-3.4 4-5 3.9-13.9 10.1-4 2.4-4 1.7zM1105.1 147.8l9.2-0.5 8 1.1 12 5.7 12 2.4 4 1.8 1.7 1.4 2.4 3.9 2.7 11.9 5.2 9.1 1.3 2.8 0.9 4 0.2 4-1.1 15.8 0.3 15.9-1.6 8.2-2.1 3.7-3.7 4-6.2 4.2-4 1.1-4-0.7-12-3.8-4-2.1-20-15.6-16-14.8-16.6-19.9-9-15.9-1.6-3.9-0.6-4 0.4-4 1.9-3.9 3.6-4 5.5-4 4.3-2.3 4-1.4 4.1-0.2 8 1.5z"/>
<path fill="#6dcff3" d="M906.1 36.7l19.8 0-3.7 4-8.1 6.6-4 2.9-4 1.9zM1082.1 155.7l12.2 2.5 4-0.7 8-2.8 4-0.6 4 0.1 4 0.7 4 1.4 8 4.2 12 3.5 4 3.5 1.4 4.1 0.8 7.9 1.3 4 2.7 3.9 2 4 0.4 4-1.4 7.9 1.1 11.9-0.1 4-0.8 3.9-3.4 5.3-4 3.3-5.6 3.3-2.4 0.9-4 0.3-4-0.5-4-1.6-16-10.1-4-3.2-14.1-13.5-9.1-11.9-5-8-5.3-19.8 0.2-4 2-3.9 3.2-2.8z"/>
<path fill="#62b5e5" d="M906.1 36.7l10.7 0-3.4 4-3.3 2.7-4 2.3zM1105.7 163.6l4.6-1 4 0 4 0.8 8 2.8 8 2.1 4 1.7 1.7 1.6 1.7 3.9 0.7 8 1.2 3.9 2.1 4 1.1 4-1.2 11.9 0.7 8.6-0.7 3.3-3.3 3.9-8 3.8-4 0.6-4-0.6-8-3.5-8-5.1-8-7.1-7.5-7.9-5.3-7.9-3.8-8-1-3.9-0.3-4 0.2-7.9 1.7-3.9 12-1.7z"/>
<path fill="#4f91cf" d="M1098 175.5l8.3-2.9 4-0.4 8 1.3 12 0.7 4 1.8 1.8 3.5 0.9 7.9 2.7 8 0.7 3.9-0.4 4-1.7 6.6-2.9 5.3-5.1 3.2-4 0.7-4-0.5-4-1.5-4-2.2-9.1-7.6-3.6-4-3.3-4.7-3.7-7.2-1-4-0.4-3.9 0.9-4z"/>
<path fill="#4277bd" d="M1104.7 183.5l1.6-1.2 4-1.4 4-0.3 8 0.5 4 0.8 2.1 1.6 1.5 3.9 0.8 4 2.5 7.9-0.4 4-2.5 4-4 2.7-4 0.8-4-1-4-2.2-4-3.4-4.1-4.9-2.1-3.9-1.4-4-0.2-4z"/>
<path fill="#3966b3" d="M1116.4 191.4l1.9-0.5 0.7 0.5 3.2 4-3.4 3.9-0.6 0-3.3-3.9z"/>
<ellipse class="k" cx="1088.8" cy="204.3" rx="23.1" ry="23.1"/>
<ellipse class="k" cx="1089.0" cy="205.1" rx="34.2" ry="34.4"/>
<ellipse class="k" cx="1090.0" cy="206.5" rx="45.1" ry="45.6"/>
<ellipse class="k" cx="1090.7" cy="207.7" rx="56.1" ry="56.9"/>
<ellipse class="k" cx="1090.4" cy="209.2" rx="67.9" ry="69.3"/>
<ellipse class="k" cx="1093.2" cy="213.1" rx="85.3" ry="87.2"/>
<path class="k" d="M906.1 53.2l3.3 1.6 3.2 1.5 3.2 1.5 3.3 1.5 3.4 1.7 3.6 1.7 3.9 1.9 4.2 2 4.4 2.1 4.4 2.1 4.2 2 3.9 1.9 3.7 1.7 3.7 1.6 3.5 1.6 3.3 1.4 3 1.4 2.8 1.3 2.4 1.2 2.1 1 1.9 0.9 1.6 0.9 1.6 1 1.4 1 1.4 1.1 1.2 1.2 1.1 1.1 0.9 1.2 0.8 1.2 0.6 1.2 0.5 1.2 0.3 1.1 0.1 1.1 0 1.2-0.1 1.2-0.3 1.2-0.4 1.3-0.6 1.4-0.7 1.4-0.9 1.4-0.9 1.3-1 1.2-1.1 1-1.2 1-1.2 0.8-1.4 0.8-1.5 0.7-1.6 0.7-1.8 0.6-1.9 0.4-2 0.4-2.2 0.4-2.1 0.3-2 0.4"/>
<path class="k" d="M921.1 115.7l-2.5-0.2-2.5-0.1-2.5-0.2-2.5-0.2-2.5-0.1-2.5-0.2"/>
<path class="k" d="M979.1 36.7l2.8 0.4 2.9 0.5 2.8 0.4 2.8 0.5 2.9 0.4 2.8 0.3 2.8 0.3 2.9 0.2 2.8 0.2 2.8 0.2 2.9 0.1 2.8 0 2.8 0 2.9-0.1 2.8-0.2 2.8-0.2 2.9-0.2 2.8-0.3 2.8-0.3 2.9-0.4 2.8-0.5 2.8-0.4 2.9-0.5 2.8-0.4"/>
<path class="k" d="M1179.1 36.7l-2.5 0.6-2.5 0.6-2.6 0.5-2.5 0.7-2.5 0.7-2.4 0.9-2.5 1.1-2.6 1.1-2.6 1.3-2.4 1.4-2.1 1.5-1.8 1.6-1.4 1.8-1.1 1.9-0.8 2-0.6 2.2-0.4 2.1-0.2 2-0.1 2 0.2 1.9 0.4 2 0.5 2 0.7 2 0.8 2.1 1 2.2 1.1 2.3 1.3 2.4 1.4 2.4 1.6 2.3 1.6 2.4 1.7 2.3 1.8 2.2 1.9 2.2 2 2.3 2.2 2.4 2.4 2.6 2.6 2.8 2.9 2.9 3 3 3.1 3.2 3.2 3.1 3.2 3 3.2 3 3.2 3 3.3 2.9 3.4 3 3.4 3 3.5 3.1 3.6 3.2 3.7 3.2 3.8 3.3 3.8 3.2 3.6 3.2 3.5 2.9 3.3 2.7 3.1 2.6 3 2.5 2.9 2.4 2.9 2.4 2.8 2.4 2.8 2.4 2.7 2.5 2.7 2.4 2.6 2.4 2.6 2.4 2.7 2.4"/>
<path class="k" d="M1262.2 346.2l-1.5 0.2-1.5 0.2-1.6 0.1-1.5 0.2-1.5 0.3-1.5 0.5-1.5 0.6-1.5 0.7-1.4 0.7-1.5 0.9-1.5 1-1.6 1.1-1.6 1.2-1.7 1.4-1.6 1.5-1.7 1.6-1.7 1.6-1.7 1.7-1.7 1.7-1.7 1.8-1.7 1.9-1.7 1.9-1.6 1.8-1.6 1.9-1.4 1.8-1.4 1.9-1.3 1.8-1.3 1.8-1.3 1.9-1.3 1.8"/>
<path class="q" d="M915.1 40.9L922.5 44.4M935.4 40.9L942.9 44.3M955.8 40.9L963.3 44.2M976.1 40.9L983.7 43.9M996.4 40.9L1004.2 43.4M1016.8 40.9L1024.6 42.6M1037.1 40.9L1044.9 41.5M1057.4 40.9L1065.1 40.3M1077.7 40.9L1085.1 39.2M1098.1 40.9L1104.9 38.5M1118.4 40.9L1124.6 38.2M1138.7 40.9L1144.1 38.3M1159.1 40.9L1163.2 38.7M1179.4 40.9L1182.3 39.2M1199.7 40.9L1201.7 39.6M1220 40.9L1221.6 39.9M1240.4 40.9L1241.7 40.2M1260.7 40.9L1262.1 40.4M915.1 63.9L921.1 66.6M935.4 63.9L941.4 66.5M955.8 63.9L961.8 66.4M976.1 63.9L982.1 66.2M996.4 63.9L1002.4 65.8M1016.8 63.9L1022.6 65.3M1037.1 63.9L1042.7 64.4M1057.4 63.9L1062.7 63.4M1077.7 63.9L1082.7 62.5M1098.1 63.9L1102.6 61.8M1118.4 63.9L1122.5 61.5M1138.7 63.9L1142.3 61.5M1159.1 63.9L1161.9 61.7M1179.4 63.9L1181.4 62.1M1199.7 63.9L1201.1 62.5M1220 63.9L1221.2 62.7M1240.4 63.9L1241.5 62.9M1260.7 63.9L1261.9 63.1M915.1 86.9L918.8 88.4M935.4 86.9L939.1 88.3M955.8 86.9L959.3 88.3M976.1 86.9L979.5 88.3M996.4 86.9L999.4 88.2M1016.8 86.9L1019.3 88.1M1037.1 86.9L1039 87.7M1057.4 86.9L1058.9 86.9M1077.7 86.9L1078.3 85.6M1098.1 86.9L1098.2 85.1M1118.4 86.9L1118.6 84.6M1138.7 86.9L1139.1 84.5M1159.1 86.9L1159.5 84.7M1179.4 86.9L1179.8 85M1199.7 86.9L1200.1 85.3M1220 86.9L1220.5 85.5M1240.4 86.9L1241.1 85.6M1260.7 86.9L1261.6 85.8M915.1 109.9L917.1 110.4M935.4 109.9L937.3 110.5M955.8 109.9L957.4 110.7M976.1 109.9L977.3 111.1M996.4 109.9L996.6 111.5M1016.8 109.9L1015.6 111.7M1037.1 109.9L1034.6 111.6M1057.4 109.9L1053.7 110.9M1077.7 109.9L1073.4 109.9M1098.1 109.9L1093.7 108.7M1118.4 109.9L1114.6 107.8M1138.7 109.9L1135.8 107.4M1159.1 109.9L1157.1 107.4M1179.4 109.9L1178.1 107.8M1199.7 109.9L1199 108.1M1220 109.9L1219.8 108.4M1240.4 109.9L1240.5 108.5M1260.7 109.9L1261.3 108.6M915.1 132.9L916.5 132.9M935.4 132.9L936.8 133.3M955.8 132.9L956.5 134.1M976.1 132.9L975.7 134.6M996.4 132.9L994.8 135.3M1016.8 132.9L1013.5 136.1M1037.1 132.9L1032 136.2M1057.4 132.9L1050.7 135.5M1077.7 132.9L1070.1 133.8M1098.1 132.9L1090.5 131.7M1118.4 132.9L1111.9 130.1M1138.7 132.9L1133.7 129.4M1159.1 132.9L1155.6 129.4M1179.4 132.9L1177.2 130M1199.7 132.9L1198.4 130.7M1220 132.9L1219.4 131.2M1240.4 132.9L1240.2 131.5M1260.7 132.9L1260.9 131.5M915.1 155.9L916.5 155.7M935.4 155.9L936.7 156.7M955.8 155.9L955.8 157.3M976.1 155.9L975.2 158.4M996.4 155.9L994.3 159.8M1016.8 155.9L1012.8 161.1M1037.1 155.9L1031.1 161.6M1057.4 155.9L1050.1 160.1M1077.7 155.9L1069.5 157.6M1098.1 155.9L1089.7 154.5M1118.4 155.9L1111.1 151.9M1138.7 155.9L1133.2 150.7M1159.1 155.9L1155.2 151M1179.4 155.9L1177 151.9M1199.7 155.9L1198.3 153M1220 155.9L1219.2 153.8M1240.4 155.9L1240 154.3M1260.7 155.9L1260.7 154.5M915.1 178.9L916.5 178.8M935.4 178.9L936.4 179.9M955.8 178.9L955.9 180.7M976.1 178.9L975.5 182.2M996.4 178.9L994.8 184.2M1016.8 178.9L1013.8 186.1M1037.1 178.9L1032.8 186.2M1057.4 178.9L1051.6 185.1M1077.7 178.9L1071.1 181.6M1098.1 178.9L1091.6 177.1M1118.4 178.9L1113 173.7M1138.7 178.9L1134.6 172.3M1159.1 178.9L1156.2 172.6M1179.4 178.9L1177.6 173.9M1199.7 178.9L1198.6 175.4M1220 178.9L1219.4 176.5M1240.4 178.9L1240 177.2M1260.7 178.9L1260.6 177.5M915.1 201.9L916.5 202M935.4 201.9L936.4 202.9M955.8 201.9L956.2 203.9M976.1 201.9L976.3 205.7M996.4 201.9L996.2 207.9M1016.8 201.9L1016.1 210M1037.1 201.9L1036.1 210.3M1057.4 201.9L1056 209M1077.7 201.9L1076.1 205.1M1098.1 201.9L1096.4 199.7M1118.4 201.9L1117.1 196.2M1138.7 201.9L1137.7 194.7M1159.1 201.9L1158.3 195.1M1179.4 201.9L1178.8 196.5M1199.7 201.9L1199.3 198.1M1220 201.9L1219.7 199.3M1240.4 201.9L1240.2 200.1M1260.7 201.9L1260.7 200.5M915.1 224.9L916.5 225.1M935.4 224.9L936.5 225.8M955.8 224.9L956.7 226.8M976.1 224.9L977.1 228.4M996.4 224.9L997.8 230.5M1016.8 224.9L1018.7 232.4M1037.1 224.9L1039.8 232.9M1057.4 224.9L1060.9 231.3M1077.7 224.9L1081.8 227.7M1098.1 224.9L1102 223.1M1118.4 224.9L1121.5 219.7M1138.7 224.9L1141 218.3M1159.1 224.9L1160.5 218.6M1179.4 224.9L1180.1 219.8M1199.7 224.9L1200 221.3M1220 224.9L1220.1 222.4M1240.4 224.9L1240.4 223.1M1260.7 224.9L1260.9 223.5M915.1 247.9L916.5 248.2M935.4 247.9L936.7 248.7M955.8 247.9L957.1 249.5M976.1 247.9L977.7 250.7M996.4 247.9L998.8 252.3M1016.8 247.9L1020.4 253.6M1037.1 247.9L1042.1 254M1057.4 247.9L1063.7 252.7M1077.7 247.9L1084.7 249.8M1098.1 247.9L1104.7 246.5M1118.4 247.9L1124 243.9M1138.7 247.9L1142.9 242.7M1159.1 247.9L1161.8 242.8M1179.4 247.9L1181 243.7M1199.7 247.9L1200.5 244.8M1220 247.9L1220.5 245.7M1240.4 247.9L1240.7 246.3M1260.7 247.9L1261.2 246.5M915.1 270.9L916.5 271.3M935.4 270.9L936.7 271.6M955.8 270.9L957.2 272.1M976.1 270.9L977.9 272.8M996.4 270.9L999.1 273.8M1016.8 270.9L1020.6 274.6M1037.1 270.9L1042.3 274.7M1057.4 270.9L1063.9 273.8M1077.7 270.9L1084.8 272M1098.1 270.9L1104.9 269.8M1118.4 270.9L1124.2 268.1M1138.7 270.9L1143.1 267.3M1159.1 270.9L1162 267.3M1179.4 270.9L1181.2 267.8M1199.7 270.9L1200.8 268.5M1220 270.9L1220.7 269.1M1240.4 270.9L1241 269.5M1260.7 270.9L1261.5 269.7M915.1 293.9L916.4 294.6M935.4 293.9L936.7 294.6M955.8 293.9L957.1 294.8M976.1 293.9L977.8 295.1M996.4 293.9L998.7 295.6M1016.8 293.9L1019.9 295.9M1037.1 293.9L1041.3 295.9M1057.4 293.9L1062.5 295.3M1077.7 293.9L1083.2 294.3M1098.1 293.9L1103.4 293.1M1118.4 293.9L1123 292.1M1138.7 293.9L1142.2 291.5M1159.1 293.9L1161.5 291.5M1179.4 293.9L1181 291.8M1199.7 293.9L1200.8 292.2M1220 293.9L1220.9 292.5M1240.4 293.9L1241.2 292.7M1260.7 293.9L1261.8 292.9M915.1 316.9L916.2 317.8M935.4 316.9L936.6 317.8M955.8 316.9L956.9 317.7M976.1 316.9L977.5 317.8M996.4 316.9L998.2 317.9M1016.8 316.9L1019.1 317.9M1037.1 316.9L1040 317.8M1057.4 316.9L1060.8 317.4M1077.7 316.9L1081.4 316.9M1098.1 316.9L1101.6 316.2M1118.4 316.9L1121.4 315.7M1138.7 316.9L1141.2 315.4M1159.1 316.9L1160.9 315.3M1179.4 316.9L1180.7 315.5M1199.7 316.9L1200.7 315.6M1220 316.9L1221 315.8M1240.4 316.9L1241.5 316M1260.7 316.9L1262 316.3M915.1 339.9L916 341M935.4 339.9L936.4 341M955.8 339.9L956.8 340.9M976.1 339.9L977.3 340.7M996.4 339.9L997.8 340.6M1016.8 339.9L1018.4 340.5M1037.1 339.9L1039.1 340.3M1057.4 339.9L1059.6 340M1077.7 339.9L1080 339.7M1098.1 339.9L1100.3 339.3M1118.4 339.9L1120.3 339M1138.7 339.9L1140.4 338.9M1159.1 339.9L1160.4 338.8M1179.4 339.9L1180.5 338.9M1199.7 339.9L1200.8 338.9M1220 339.9L1221.2 339.1M1240.4 339.9L1241.7 339.3M1260.7 339.9L1262.1 339.6M915.1 362.9L915.8 364.1M935.4 362.9L936.2 364.1M955.8 362.9L956.7 364M976.1 362.9L977.2 363.8M996.4 362.9L997.7 363.6M1016.8 362.9L1018.1 363.4M1037.1 362.9L1038.6 363.1M1057.4 362.9L1059 362.9M1077.7 362.9L1079.3 362.6M1098.1 362.9L1099.6 362.4M1118.4 362.9L1119.8 362.2M1138.7 362.9L1139.9 362.1M1159.1 362.9L1160.2 362M1179.4 362.9L1180.5 362M1199.7 362.9L1200.9 362.1M1220 362.9L1221.3 362.3M1240.4 362.9L1241.8 362.5M1260.7 362.9L1262.2 362.8"/>
<path class="h" d="M926.9 46.5L921.3 45.8L922.8 42.6zM947.3 46.4L941.7 45.7L943.2 42.5zM967.7 46.1L962.1 45.6L963.5 42.3zM988.2 45.6L982.6 45.3L983.9 42zM1008.7 44.8L1003.2 44.9L1004.2 41.6zM1029.2 43.6L1023.7 44.2L1024.5 40.8zM1049.6 41.9L1044.3 43.2L1044.6 39.8zM1069.6 40L1064.7 42L1064.5 38.7zM1089.4 38.3L1085 40.9L1084.3 37.8zM1108.9 37.2L1105 40.2L1104 37.2zM1128.2 36.7L1124.8 39.8L1123.6 37.1zM1147 36.9L1144.2 39.7L1143 37.3zM1165.3 37.5L1163.3 39.8L1162.3 38zM1183.6 38.4L1182.3 40.1L1181.5 38.7zM1202.4 39.1L1201.6 40.3L1201 39.4zM1221.9 39.7L1221.4 40.6L1220.9 39.8zM1241.9 40.1L1241.4 40.8L1241.1 40.1zM1262.2 40.4L1261.7 41L1261.5 40.2zM924.5 68.1L920 67.7L921.2 65.1zM944.8 68L940.4 67.6L941.6 65zM965.2 67.8L960.8 67.5L961.9 64.9zM985.5 67.5L981.1 67.3L982.1 64.7zM1005.7 66.9L1001.5 67L1002.3 64.4zM1025.9 66L1021.8 66.4L1022.4 63.8zM1045.8 64.7L1042.1 65.6L1042.4 63.1zM1065.6 63.2L1062.4 64.6L1062.1 62.3zM1085.3 61.7L1082.5 63.7L1081.9 61.5zM1105 60.7L1102.6 63L1101.7 61zM1124.6 60.2L1122.6 62.6L1121.5 60.8zM1144 60.2L1142.4 62.5L1141.3 60.9zM1163.1 60.7L1162 62.7L1161 61.4zM1182.2 61.4L1181.4 62.9L1180.6 62zM1201.5 62.1L1201.1 63.2L1200.4 62.5zM1221.4 62.5L1221.1 63.4L1220.5 62.8zM1241.6 62.8L1241.3 63.6L1240.8 63zM1262.1 63L1261.7 63.7L1261.3 63.1zM920.5 89.1L918 89L918.6 87.3zM940.8 89L938.3 89L938.9 87.3zM961 89L958.5 88.9L959.2 87.3zM981 88.9L978.7 88.9L979.3 87.3zM1000.8 88.8L998.7 88.7L999.3 87.3zM1020.3 88.5L1018.5 88.5L1019.1 87.3zM1039.5 87.9L1038.3 88L1038.7 87zM1059 86.9L1058.4 87.3L1058.4 86.5zM1078.4 85.4L1078.5 86.2L1077.8 85.9zM1098.2 84.6L1098.6 85.6L1097.7 85.5zM1118.6 83.9L1119.1 85.2L1118 85.1zM1139.2 83.7L1139.6 85.1L1138.4 84.9zM1159.6 84L1159.9 85.3L1158.8 85.1zM1179.9 84.5L1180.1 85.6L1179.2 85.4zM1200.1 85L1200.4 85.9L1199.6 85.7zM1220.6 85.4L1220.7 86.1L1220 85.9zM1241.1 85.5L1241.2 86.3L1240.5 85.9zM1261.7 85.7L1261.6 86.4L1261 85.9zM917.7 110.6L916.5 110.8L916.8 109.8zM937.9 110.7L936.7 110.9L937 109.9zM957.9 110.9L956.8 110.9L957.2 110.1zM977.5 111.3L976.6 111L977.2 110.4zM996.6 111.8L996.1 111.1L997 111zM1015.2 112.3L1015.4 111L1016.3 111.6zM1033.6 112.3L1034.6 110.7L1035.4 111.9zM1052 111.4L1054 110L1054.5 111.6zM1071.2 109.9L1073.9 108.9L1073.9 110.9zM1091.4 108.1L1094.4 107.9L1093.9 109.9zM1112.6 106.8L1115.5 107.2L1114.5 108.9zM1134.4 106.2L1136.8 107L1135.6 108.4zM1156.2 106.4L1157.9 107.4L1156.8 108.3zM1177.7 107L1178.9 107.9L1177.9 108.5zM1198.9 107.7L1199.7 108.4L1198.8 108.8zM1219.8 108.2L1220.3 108.8L1219.5 108.9zM1240.5 108.3L1240.9 109L1240.1 108.9zM1261.3 108.4L1261.4 109.2L1260.7 108.9zM916.7 133L916 133.3L916.1 132.5zM937 133.4L936.2 133.6L936.4 132.8zM956.6 134.3L955.9 133.9L956.6 133.5zM975.6 134.9L975.4 134L976.2 134.2zM994.1 136.3L994.5 134.5L995.6 135.3zM1011.9 137.7L1013.2 135L1014.6 136.4zM1029.2 138.1L1031.7 134.8L1033.2 137.1zM1046.9 136.9L1050.6 133.8L1051.7 136.7zM1065.6 134.3L1070.4 132.1L1070.8 135.4zM1086.1 131.1L1091.3 130.2L1090.8 133.4zM1108.1 128.5L1112.9 128.9L1111.7 131.7zM1131 127.4L1134.9 128.5L1133.4 130.7zM1153.8 127.6L1156.7 129L1155.2 130.6zM1176.2 128.7L1178.2 129.9L1176.8 130.9zM1198 129.9L1199.2 130.8L1198.2 131.4zM1219.2 130.8L1220 131.5L1219.1 131.8zM1240.1 131.3L1240.6 131.9L1239.8 132zM1260.9 131.3L1261.2 132L1260.4 131.9zM916.7 155.7L916.1 156.2L916 155.4zM936.8 156.8L936 156.7L936.4 156.1zM955.8 157.5L955.4 156.9L956.2 156.8zM974.9 159.3L974.8 157.7L976 158.1zM993.2 161.8L993.6 158.9L995.4 159.9zM1010.6 164.1L1012 159.9L1014.3 161.6zM1027.6 164.9L1030.3 159.9L1032.7 162.5zM1045.7 162.7L1049.6 158.3L1051.4 161.5zM1064.5 158.6L1069.6 155.7L1070.3 159.3zM1084.8 153.6L1090.5 152.8L1089.9 156.4zM1106.7 149.5L1112.4 150.5L1110.6 153.7zM1129.9 147.7L1134.7 149.9L1132.4 152.3zM1153.1 148.2L1156.6 150.5L1154.5 152.2zM1175.7 149.9L1178.1 151.8L1176.3 152.9zM1197.7 151.8L1199.2 153.1L1197.8 153.8zM1219 153.2L1219.9 154.1L1218.9 154.5zM1239.9 154L1240.5 154.7L1239.7 154.9zM1260.7 154.3L1261.1 155L1260.3 155zM916.7 178.8L916.1 179.2L916 178.4zM936.5 180.1L935.8 179.9L936.4 179.3zM955.9 181.1L955.4 180.2L956.3 180.2zM975.2 183.7L974.8 181.6L976.4 181.9zM994 187.1L993.8 183.4L996.1 184.1zM1012.1 190.3L1012.4 185L1015.5 186.3zM1030.3 190.6L1031.5 184.9L1034.7 186.7zM1048.2 188.7L1050.6 183.5L1053.3 186zM1067.2 183.1L1071 179.9L1072.1 182.8zM1087.9 176.1L1092.5 175.8L1091.7 178.6zM1109.8 170.7L1114.5 172.9L1112.2 175.2zM1132.2 168.4L1136.3 171.8L1133.5 173.6zM1154.6 169L1157.8 172.5L1155.1 173.7zM1176.6 171.2L1178.8 174L1176.6 174.8zM1198.1 173.7L1199.6 175.6L1197.9 176.1zM1219.1 175.6L1220.1 176.8L1218.9 177.1zM1239.9 176.8L1240.6 177.6L1239.7 177.7zM1260.6 177.3L1261.1 177.9L1260.3 178zM916.7 202L916 202.3L916.1 201.5zM936.5 203.1L935.8 202.9L936.4 202.3zM956.4 204.5L955.6 203.6L956.6 203.3zM976.3 207.4L975.4 205.2L977.1 205.1zM996.1 211.3L994.9 207.4L997.6 207.5zM1015.8 214.8L1014.4 209.4L1017.9 209.6zM1035.5 215.3L1034.4 209.6L1038 210zM1055.3 213.1L1054.6 208.2L1057.7 208.8zM1075.4 206.6L1075.6 204.3L1077.1 205zM1095.8 198.9L1097.2 199.7L1096.2 200.5zM1116.5 193.1L1118.5 196.4L1116 197zM1137.2 190.6L1139.4 195L1136.3 195.4zM1157.9 191.2L1159.8 195.4L1156.9 195.7zM1178.5 193.6L1180.1 196.8L1177.7 197.1zM1199 196.3L1200.2 198.5L1198.4 198.7zM1219.6 198.4L1220.4 199.7L1219.2 199.9zM1240.1 199.7L1240.7 200.5L1239.8 200.6zM1260.7 200.3L1261.1 201L1260.3 201zM916.7 225.1L916 225.4L916.1 224.6zM936.7 225.9L935.9 225.8L936.4 225.2zM957 227.4L956 226.6L957 226.2zM977.6 230.1L976.2 228.2L977.8 227.7zM998.6 233.6L996.5 230.3L998.9 229.7zM1019.9 236.8L1017 232.3L1020.2 231.5zM1041.5 237.7L1038 233L1041.4 231.8zM1063 235.1L1059.3 231.7L1062.1 230.1zM1083.8 229.1L1080.7 228.3L1082 226.5zM1103.9 222.2L1101.9 224.2L1101.1 222.4zM1123.2 216.9L1122.4 220.8L1120.1 219.5zM1142.3 214.5L1142.2 219.3L1139.4 218.3zM1161.3 215L1161.7 219.4L1159 218.8zM1180.5 217.1L1181.2 220.5L1178.9 220.2zM1200.1 219.6L1200.8 221.8L1199.1 221.7zM1220.1 221.5L1220.7 222.9L1219.5 222.9zM1240.4 222.7L1240.9 223.6L1240 223.6zM1260.9 223.3L1261.2 224L1260.5 223.9zM916.7 248.2L916 248.5L916.1 247.7zM936.8 248.7L936 248.7L936.4 248.1zM957.4 249.9L956.3 249.4L957.1 248.8zM978.5 251.9L976.8 250.7L978.1 249.9zM1000.1 254.5L997.6 252.4L999.6 251.3zM1022.4 256.9L1018.8 254L1021.3 252.4zM1045.1 257.5L1040.5 254.7L1043.1 252.5zM1067.4 255.5L1062.3 253.7L1064.3 251zM1088.6 250.9L1083.8 251.2L1084.6 248.2zM1108.5 245.7L1104.5 248L1103.9 245.1zM1127.2 241.6L1124.4 245.4L1122.7 243zM1145.2 239.8L1143.7 244L1141.4 242.2zM1163.3 240L1162.7 243.9L1160.4 242.7zM1181.8 241.6L1181.7 244.6L1179.9 243.8zM1200.9 243.5L1201.1 245.5L1199.7 245.1zM1220.6 245L1220.9 246.3L1219.8 246.1zM1240.8 246L1241 246.8L1240.2 246.7zM1261.2 246.4L1261.4 247.1L1260.6 246.9zM916.6 271.4L915.9 271.6L916.1 270.8zM936.8 271.7L936.1 271.7L936.4 271zM957.5 272.3L956.5 272.1L957.1 271.4zM978.6 273.6L977.1 272.9L978.1 272zM1000.3 275.1L998.1 274L999.4 272.8zM1022.7 276.5L1019.4 275.1L1021 273.4zM1045.3 276.9L1041.1 275.6L1042.8 273.3zM1067.6 275.5L1062.8 275L1064 272.2zM1088.8 272.6L1084.1 273.4L1084.5 270.4zM1108.7 269.2L1104.6 271.4L1104.1 268.4zM1127.4 266.5L1124.3 269.6L1123.1 267.1zM1145.5 265.3L1143.5 268.5L1141.9 266.6zM1163.5 265.4L1162.5 268.3L1160.9 267zM1182 266.4L1181.6 268.7L1180.2 267.8zM1201.1 267.7L1201.1 269.2L1200 268.7zM1220.9 268.6L1221 269.7L1220.1 269.4zM1241.1 269.3L1241.1 270.1L1240.4 269.8zM1261.6 269.6L1261.6 270.3L1260.9 269.9zM916.5 294.6L915.8 294.7L916.1 294zM936.8 294.7L936.1 294.7L936.4 294zM957.3 295L956.5 294.9L956.9 294.2zM978.3 295.5L977.1 295.3L977.7 294.4zM999.7 296.2L997.9 295.8L998.7 294.7zM1021.4 296.8L1019.1 296.4L1020 294.9zM1043.4 296.9L1040.4 296.6L1041.3 294.7zM1065.2 296.1L1061.7 296.3L1062.3 294.1zM1086.2 294.5L1082.6 295.5L1082.8 293zM1106.2 292.6L1103.1 294.3L1102.7 292zM1125.3 291.1L1122.9 293.3L1122.1 291.2zM1144 290.4L1142.4 292.6L1141.3 291zM1162.6 290.4L1161.7 292.4L1160.6 291.3zM1181.6 291L1181.2 292.6L1180.2 291.8zM1201.1 291.7L1201 292.9L1200.1 292.3zM1221 292.3L1221 293.2L1220.3 292.7zM1241.3 292.6L1241.3 293.4L1240.6 292.9zM1261.9 292.8L1261.7 293.6L1261.2 293zM916.3 317.9L915.6 317.8L916.1 317.2zM936.7 317.9L935.9 317.8L936.4 317.2zM957.1 317.8L956.3 317.8L956.8 317.1zM977.8 317.9L976.9 317.9L977.3 317.1zM998.8 318.1L997.6 318.1L998 317.2zM1019.9 318.3L1018.4 318.3L1018.9 317.1zM1041.2 318.2L1039.3 318.3L1039.7 317zM1062.3 317.7L1060.2 318.1L1060.4 316.6zM1083 316.9L1080.9 317.7L1080.9 316zM1103.2 315.9L1101.2 317.1L1100.9 315.5zM1122.8 315.2L1121.3 316.6L1120.7 315.2zM1142.1 314.8L1141.1 316.2L1140.4 315.1zM1161.5 314.8L1160.9 316.1L1160.1 315.2zM1181 315.1L1180.7 316.2L1180 315.5zM1200.9 315.4L1200.8 316.3L1200.1 315.8zM1221.1 315.7L1221 316.5L1220.4 315.9zM1241.6 315.9L1241.4 316.6L1240.9 316zM1262.2 316.2L1261.7 316.9L1261.4 316.1zM916.1 341.1L915.4 340.9L916 340.4zM936.5 341.1L935.8 340.9L936.4 340.3zM957 341L956.2 340.8L956.7 340.2zM977.4 340.8L976.7 340.8L977.1 340.1zM998 340.7L997.2 340.7L997.6 340zM1018.8 340.6L1017.8 340.7L1018.1 339.9zM1039.6 340.4L1038.5 340.7L1038.7 339.7zM1060.3 340L1059.1 340.5L1059.1 339.4zM1080.7 339.6L1079.6 340.3L1079.5 339.2zM1100.9 339.1L1099.9 340L1099.6 338.9zM1120.9 338.8L1120.1 339.7L1119.7 338.8zM1140.8 338.6L1140.2 339.5L1139.7 338.7zM1160.6 338.6L1160.3 339.5L1159.7 338.8zM1180.6 338.7L1180.4 339.5L1179.9 338.9zM1200.9 338.8L1200.7 339.6L1200.2 339zM1221.4 339L1221 339.7L1220.6 339zM1241.8 339.2L1241.4 339.9L1241.1 339.1zM1262.3 339.6L1261.7 340.1L1261.6 339.3zM915.9 364.3L915.2 363.9L915.9 363.5zM936.3 364.2L935.6 363.9L936.3 363.5zM956.8 364.1L956.1 363.9L956.7 363.4zM977.3 363.9L976.6 363.8L977.1 363.2zM997.8 363.7L997.1 363.7L997.4 363zM1018.3 363.4L1017.5 363.6L1017.8 362.8zM1038.7 363.1L1038 363.4L1038.1 362.6zM1059.2 362.9L1058.5 363.3L1058.5 362.5zM1079.6 362.6L1078.9 363.1L1078.7 362.3zM1099.8 362.3L1099.2 362.9L1098.9 362.1zM1119.9 362.1L1119.5 362.8L1119.1 362.1zM1140.1 362L1139.7 362.7L1139.3 362zM1160.3 361.9L1160 362.6L1159.6 362zM1180.6 361.9L1180.4 362.6L1179.9 362zM1201 362L1200.7 362.7L1200.3 362zM1221.5 362.2L1221.1 362.8L1220.7 362.1zM1241.9 362.5L1241.4 363L1241.2 362.3zM1262.3 362.8L1261.7 363.3L1261.6 362.5z"/>
</g>
<text class="c" transform="translate(925.1 122.2) rotate(0)">26.6</text>
<text class="c" transform="translate(1014.1 216.7) rotate(-74)">26.7</text>
<text class="c" transform="translate(1040.1 199.7) rotate(-63)">26.8</text>
<text class="c" transform="translate(1060.1 196.2) rotate(-50)">26.9</text>
<text class="c" transform="translate(1222.6 392.2) rotate(-50)">26.7</text>
<path class="f" d="M941.7 36.7v3.6M941.7 381.8v-3.6M1013.0 36.7v3.6M1013.0 381.8v-3.6M1084.2 36.7v3.6M1084.2 381.8v-3.6M1155.5 36.7v3.6M1155.5 381.8v-3.6M1226.8 36.7v3.6M1226.8 381.8v-3.6M906.1 71.2h3.6M1262.4 71.2h-3.6M906.1 140.2h3.6M1262.4 140.2h-3.6M906.1 209.2h3.6M1262.4 209.2h-3.6M906.1 278.3h3.6M1262.4 278.3h-3.6M906.1 347.3h3.6M1262.4 347.3h-3.6"/>
<rect class="f" x="906.1" y="36.7" width="356.3" height="345.1"/>
<text class="p" x="907.5" y="24.4">C</text>
</g>
<g id="panelD">
<g clip-path="url(#cD)">
<rect x="1321.7" y="38.6" width="355.7" height="345.2" fill="#f5faf3"/>
<path fill="#fffbdd" d="M1321.7 38.6l82.8 0 1.5 11.9 2.7 11.9 4.7 11.9 4.8 7.9 6.7 8 4.1 3.9 9.9 8 10.7 6.9 16 8.9 4 3 4 3.9 3.7 5.1 4.3 7.9 5.3 11.9 3.7 11.9 1.3 7.9 1.6 19.9 0.5 11.9-0.6 27.8-2.1 39.6-2.7 23.8-1.5 8-2.5 7.9-3 6.7-4 5.6-4 3.9-4 2.9-4 2.1-8 2.8-8 1.9-12 1.8-12 1-47.9-0.2-36 2.8-20-1.3z"/>
<path fill="#fee8b0" d="M1321.7 38.6l59.4 0-1.4 11.9-2 7.1-4 7.4-4 4.6-4 3.2-8 4.1-8 2-12 0.8-16-1zM1388.8 121.9l4.8-1.5 8-1.6 8-0.4 8 0.5 8 1.4 8 2.1 12 3.9 8 3.2 8 4.9 4 3.6 4 4.7 8 12.2 4 8.8 1.7 5.8 2.3 11.9 1.4 11.9 0.5 8-1.1 31.7-3.1 23.8-3.7 15.9-2 6.2-4 8.9-4 5.8-3 2.9-5 3.5-4 1.9-8 2.6-8 1.8-8 1-8 0.3-8-0.5-8-1.2-8-2-8-2.8-10.1-4.6-7-4-5.7-3.9-4.6-4-4.5-5.1-4-6-2.6-4.8-3.4-7.9-3.6-11.9-1.6-7.9-1.4-11.9-0.3-8 0.3-15.9 1-15.8 1.4-11.9 2.5-11.9 2.6-8 3.7-7.9 5.1-7.9 3.2-4 5.1-5 8-5.8 3.9-2.1z"/>
<path fill="#fdcc93" d="M1423.3 141.8l10.3-0.3 8 1.4 4 1.2 8 4 8 6.2 4 4.3 4 5.3 4 7.5 4 12.4 2.4 13.5 0.6 15.9-0.6 11.9-0.9 7.9-3.4 15.9-4.3 11.9-1.8 3.9-4 6.2-4 4.5-4 3.3-8 4.2-4 1.4-8 1.6-4 0.3-8-0.3-6.8-1.3-5.2-1.6-5.6-2.4-6.4-3.6-5.8-4.3-4.5-4-7-7.9-2.8-4-4.4-7.9-4.6-11.9-2.1-7.9-1.2-8-0.6-7.9 0-8 0.8-7.9 1.4-7.9 3.6-11.9 3.3-7 3-4.9 6.8-8 4.8-3.9 5.3-3.5 12-5.3 8-2.2z"/>
<path fill="#f8a87a" d="M1420.9 161.6l8.7-2.2 8-0.1 8 2.1 8 4.6 4 3.3 3.7 4.2 4.3 6.9 3.6 9 2 7.9 1.5 11.9-0.2 11.9-1.9 11.9-1 4-3.2 7.9-4.8 8.3-4 4.7-4 3.4-4 2.5-8 2.8-8 0.7-8-1.2-8-3.1-4-2.3-5.1-3.9-6.9-7.2-5.5-8.6-3.6-8-3.3-11.9-1.1-11.9 0.7-7.9 1.8-8 3.2-7.9 5-7.9 6.8-7 8-5.5z"/>
<path fill="#f58468" d="M1423.6 181.4l6-2.9 4-0.9 4 0 4 0.7 4 1.7 4 2.6 4 4.2 4 6.3 3 8.2 1.6 7.9 0.2 8-0.8 6.7-1.5 5.2-2.5 5.6-4 5.5-4 3.5-2.1 1.2-5.9 2.4-4 0.5-4-0.3-4-1.1-4-1.8-4-2.8-4-4-3.4-4.8-2-3.9-2.8-8-1.2-7.9 0-4 1.2-7.9 1.4-4 4.4-7.9 3.5-4z"/>
<path fill="#d8eef5" d="M1423.1 38.6l237.1 0 1 15.9 3 11.9 5.2 11 4 6.1 4 4.9 0 289.1-18.2-13.5-6.4-4-8.4-4-11-3.4-8-1.3-11.9-0.8-52 2.4-16-0.2-8-1.4-7.4-3.2-4.6-3.6-4-4.5-4-6-4-7.1-4-8.4-4-11.8-1.9-10.2-1.7-15.9-1.3-27.7-0.5-55.6-1.1-35.7-1.8-11.9-4.4-15.9-4.8-11.9-2.4-4.2-4-5.3-8-7.4-20-15.2-8-7.7-8-9.5-6.6-10.2-3.7-7.9-2.6-8z"/>
<path fill="#b3e2ef" d="M1441.7 38.6l183.8 0-0.6 15.9 0.3 7.9 1.2 7.9 2.1 8 5 11.9 11.9 22.7 14.1 28.9 5.1 11.9 8.8 22.8 4 8.5 0 103.8-24 13.4-8 3.5-12 4.4-12 3.5-11.9 2.7-12 2-12 1.3-20 0.8-8-0.7-8-1.9-8-3.4-4-2.4-8-6.1-4-4-4-5-2.6-4.4-3.4-7.9-2.1-7.9-4.2-23.8-1.2-11.9-1.7-27.8-0.3-31.8 0.7-23.8-0.4-11.9-1.6-15.8-3.2-14.2-2.1-5.7-2-3.9-5.9-8-5.9-5.5-20-17-5.2-5.3-6.9-7.9-3.9-5.5-3.7-6.4-1.8-4z"/>
<path fill="#8dd4f0" d="M1462.4 38.6l121.2 0-3.8 15.9-1.2 7.9 0.4 7.9 2.2 8 1.8 3.9 5 8 6.5 7.9 19 20.4 6.2 7.4 6.1 7.9 7.8 11.9 6.2 11.9 4.8 11.9 4.9 15.9 4.6 19.8 1.7 12 0.2 11.9-1.6 11.9-2.2 7.9-3.3 7.9-4.9 8-7.3 7.9-7.3 5.8-11.9 7-8 3.6-8 2.9-28 7.7-12 2.1-8-0.7-4-1.2-4-2.1-8-6.3-5.9-6.9-2.5-4-3.6-7.6-6.7-20.1-3.1-15.9-2.9-23.8-0.5-19.9 0.5-15.8 2.1-19.9 6.1-47.6 0.4-7.9-1.1-8-2.8-6.1-5.2-5.8-6.1-3.9-12.6-6.4-8-4.8-6.2-4.7-4.4-4-6.7-7.9-2.7-4.4z"/>
<path fill="#6dcff3" d="M1486.9 38.6l39.1 0-3.1 4-5.4 4-4 1.7-4 1-4 0.3-4-0.5-3.9-1.1-3-1.5-5-3.9zM1549.9 118l3.6-1.2 4-0.4 4 0.2 4 0.8 8 2.6 8 3.9 8 5.1 8 6.5 6.2 6.3 6.5 7.9 5.3 7.9 4.5 8 3.8 7.9 3.1 7.9 3.6 11.9 1.7 8 1 7.9 0.2 8-0.6 7.9-3 11.9-3.5 7.9-2.3 4-6.3 7.9-4.3 4-5.3 4-10.6 6.1-24 10-8 2.4-4 0.6-4-0.3-4-1.2-4-2.3-4-3.5-4-4.6-8-12.2-4-7.5-4.1-11.3-3.9-16.7-2.1-15.1-0.4-11.9 0.8-15.9 1.7-12.5 4-15.7 4-10.3 4-8.3 4-6.4 4-4.7 4-3.3z"/>
<path fill="#62b5e5" d="M1551.2 145.7l6.3-2 4-0.4 8 1 8 3 4 2.2 8 6.1 8 9 5.5 8.9 5.2 11.9 2.5 7.9 1.8 8 0.9 11.9-0.8 7.9-2.1 8-1.7 3.9-4.9 8-6.4 6.7-8 5.8-12 5.7-8 2.2-4 0.5-4-0.1-4-1-4-1.6-4-2.5-4-3.3-4-4.2-4-5.8-4-8.7-4-12.9-1.7-8.6-1-11.9 0.6-11.9 2-11.9 2.4-8 3.6-7.9 2.1-3.5 3.5-4.4 4.5-4.5z"/>
<path fill="#4f91cf" d="M1552.8 169.5l4.7-2 4-0.7 4 0 4 0.8 4 1.4 4 2.4 4 3.4 5.1 6.6 3.9 8 2.5 7.9 1.4 7.9-0.1 8-0.8 4.5-2.9 7.4-5.1 6.9-4 3.6-4 2.6-8 3.2-4 0.5-4-0.1-4-0.9-4-1.9-4-3.2-4-4.9-3.2-5.8-1.7-4-2.4-7.9-1.1-8 0.2-7.9 0.6-4 2.3-7.9 1.8-4 3.5-5.5 4-4.1z"/>
<ellipse class="k" cx="1504.1" cy="206.2" rx="23.1" ry="23.1"/>
<ellipse class="k" cx="1504.2" cy="207.1" rx="34.2" ry="34.4"/>
<ellipse class="k" cx="1505.3" cy="208.4" rx="45.1" ry="45.6"/>
<ellipse class="k" cx="1506.0" cy="209.7" rx="56.1" ry="56.9"/>
<ellipse class="k" cx="1505.7" cy="211.2" rx="67.9" ry="69.3"/>
<ellipse class="k" cx="1508.4" cy="215.1" rx="85.3" ry="87.2"/>
<path class="k" d="M1321.7 55.1l3.3 1.6 3.2 1.5 3.2 1.5 3.3 1.5 3.4 1.7 3.6 1.7 3.9 1.9 4.2 2 4.4 2.1 4.4 2.1 4.2 2 3.9 1.9 3.7 1.7 3.7 1.6 3.5 1.6 3.3 1.4 3 1.4 2.8 1.3 2.4 1.2 2.1 1 1.9 0.9 1.6 0.9 1.6 1 1.4 1 1.4 1.1 1.2 1.2 1.1 1.1 0.9 1.2 0.8 1.2 0.6 1.2 0.5 1.2 0.3 1.1 0.1 1.1 0 1.2-0.1 1.2-0.3 1.2-0.4 1.3-0.6 1.4-0.7 1.4-0.9 1.4-0.9 1.3-1 1.2-1.1 1-1.2 1-1.2 0.8-1.4 0.8-1.5 0.7-1.6 0.7-1.8 0.6-1.9 0.4-2 0.4-2.2 0.4-2.1 0.3-2 0.4"/>
<path class="k" d="M1336.7 117.6l-2.5-0.2-2.5-0.1-2.5-0.2-2.5-0.2-2.5-0.1-2.5-0.2"/>
<path class="k" d="M1394.7 38.6l2.8 0.4 2.9 0.5 2.8 0.4 2.8 0.5 2.9 0.4 2.8 0.3 2.8 0.3 2.9 0.2 2.8 0.2 2.8 0.2 2.9 0.1 2.8 0 2.8 0 2.9-0.1 2.8-0.2 2.8-0.2 2.9-0.2 2.8-0.3 2.8-0.3 2.9-0.4 2.8-0.5 2.8-0.4 2.9-0.5 2.8-0.4"/>
<path class="k" d="M1594.7 38.6l-2.5 0.6-2.5 0.6-2.6 0.6-2.5 0.6-2.5 0.7-2.4 0.9-2.5 1.1-2.6 1.1-2.6 1.3-2.4 1.4-2.1 1.5-1.8 1.6-1.4 1.8-1.1 1.9-0.8 2.1-0.6 2.1-0.4 2.1-0.2 2-0.1 2 0.2 1.9 0.4 2 0.5 2 0.7 2 0.8 2.1 1 2.2 1.1 2.3 1.3 2.4 1.4 2.4 1.6 2.3 1.6 2.4 1.7 2.3 1.8 2.2 1.9 2.3 2 2.2 2.2 2.4 2.4 2.6 2.6 2.8 2.9 2.9 3 3.1 3.1 3.1 3.2 3.1 3.2 3 3.2 3 3.2 3 3.3 2.9 3.4 3 3.4 3 3.5 3.1 3.6 3.2 3.7 3.2 3.8 3.3 3.8 3.2 3.6 3.2 3.5 2.9 3.3 2.7 3.1 2.6 3 2.5 2.9 2.4 2.9 2.4 2.8 2.4 2.8 2.4 2.7 2.5 2.7 2.4 2.6 2.4 2.6 2.4 2.7 2.4"/>
<path class="k" d="M1677.8 348.1l-1.5 0.2-1.5 0.2-1.6 0.1-1.5 0.2-1.5 0.3-1.5 0.5-1.5 0.6-1.5 0.7-1.4 0.7-1.5 0.9-1.5 1-1.6 1.1-1.6 1.2-1.7 1.4-1.6 1.5-1.7 1.6-1.7 1.6-1.7 1.7-1.7 1.7-1.7 1.8-1.7 1.9-1.7 1.9-1.6 1.8-1.6 1.9-1.4 1.8-1.4 1.9-1.3 1.8-1.3 1.8-1.3 1.9-1.3 1.8"/>
<path class="q" d="M1330.7 42.8L1338.1 46.3M1351 42.8L1358.5 46.2M1371.4 42.8L1378.9 46.1M1391.7 42.8L1399.3 45.8M1412 42.8L1419.8 45.3M1432.4 42.8L1440.2 44.5M1452.7 42.8L1460.5 43.4M1473 42.8L1480.7 42.2M1493.3 42.8L1500.7 41.1M1513.7 42.8L1520.5 40.4M1534 42.8L1540.2 40.1M1554.3 42.8L1559.6 40.2M1574.7 42.8L1578.8 40.6M1595 42.8L1597.9 41.1M1615.3 42.8L1617.3 41.5M1635.7 42.8L1637.1 41.8M1656 42.8L1657.3 42.1M1676.3 42.8L1677.7 42.3M1330.7 65.8L1336.7 68.5M1351 65.8L1357 68.4M1371.4 65.8L1377.4 68.3M1391.7 65.8L1397.7 68.1M1412 65.8L1418 67.7M1432.4 65.8L1438.2 67.1M1452.7 65.8L1458.3 66.3M1473 65.8L1478.3 65.3M1493.3 65.8L1498.3 64.4M1513.7 65.8L1518.2 63.7M1534 65.8L1538.1 63.3M1554.3 65.8L1557.9 63.4M1574.7 65.8L1577.4 63.6M1595 65.8L1597 64M1615.3 65.8L1616.7 64.4M1635.7 65.8L1636.8 64.6M1656 65.8L1657.1 64.8M1676.3 65.8L1677.5 65M1330.7 88.8L1334.4 90.3M1351 88.8L1354.7 90.2M1371.4 88.8L1374.9 90.2M1391.7 88.8L1395.1 90.2M1412 88.8L1415 90.1M1432.4 88.8L1434.9 90M1452.7 88.8L1454.6 89.6M1473 88.8L1474.5 88.8M1493.3 88.8L1493.9 87.5M1513.7 88.8L1513.8 86.9M1534 88.8L1534.2 86.5M1554.3 88.8L1554.7 86.4M1574.7 88.8L1575.1 86.6M1595 88.8L1595.4 86.9M1615.3 88.8L1615.7 87.2M1635.7 88.8L1636.1 87.4M1656 88.8L1656.7 87.5M1676.3 88.8L1677.3 87.7M1330.7 111.8L1332.7 112.3M1351 111.8L1352.9 112.4M1371.4 111.8L1373 112.6M1391.7 111.8L1392.9 113M1412 111.8L1412.2 113.4M1432.4 111.8L1431.2 113.6M1452.7 111.8L1450.2 113.5M1473 111.8L1469.3 112.8M1493.3 111.8L1489 111.8M1513.7 111.8L1509.3 110.6M1534 111.8L1530.2 109.7M1554.3 111.8L1551.4 109.3M1574.7 111.8L1572.7 109.4M1595 111.8L1593.8 109.7M1615.3 111.8L1614.6 110M1635.7 111.8L1635.4 110.3M1656 111.8L1656.1 110.4M1676.3 111.8L1676.9 110.5M1330.7 134.8L1332.1 134.8M1351 134.8L1352.4 135.2M1371.4 134.8L1372.1 136M1391.7 134.8L1391.3 136.5M1412 134.8L1410.4 137.2M1432.4 134.8L1429.1 138M1452.7 134.8L1447.6 138.1M1473 134.8L1466.3 137.3M1493.3 134.8L1485.7 135.7M1513.7 134.8L1506.1 133.6M1534 134.8L1527.5 132M1554.3 134.8L1549.4 131.2M1574.7 134.8L1571.2 131.4M1595 134.8L1592.8 131.9M1615.3 134.8L1614.1 132.6M1635.7 134.8L1635 133.1M1656 134.8L1655.8 133.4M1676.3 134.8L1676.5 133.4M1330.7 157.8L1332.1 157.6M1351 157.8L1352.3 158.6M1371.4 157.8L1371.4 159.2M1391.7 157.8L1390.8 160.3M1412 157.8L1409.9 161.7M1432.4 157.8L1428.4 163M1452.7 157.8L1446.7 163.5M1473 157.8L1465.7 162M1493.3 157.8L1485 159.5M1513.7 157.8L1505.3 156.3M1534 157.8L1526.7 153.7M1554.3 157.8L1548.8 152.6M1574.7 157.8L1570.9 152.9M1595 157.8L1592.6 153.8M1615.3 157.8L1613.9 154.9M1635.7 157.8L1634.8 155.7M1656 157.8L1655.6 156.2M1676.3 157.8L1676.3 156.4M1330.7 180.8L1332.1 180.7M1351 180.8L1352 181.8M1371.4 180.8L1371.5 182.6M1391.7 180.8L1391.1 184.1M1412 180.8L1410.4 186.2M1432.4 180.8L1429.4 188M1452.7 180.8L1448.4 188.1M1473 180.8L1467.2 186.9M1493.3 180.8L1486.7 183.4M1513.7 180.8L1507.2 178.9M1534 180.8L1528.6 175.6M1554.3 180.8L1550.3 174.2M1574.7 180.8L1571.9 174.5M1595 180.8L1593.2 175.9M1615.3 180.8L1614.2 177.3M1635.7 180.8L1635 178.4M1656 180.8L1655.6 179.1M1676.3 180.8L1676.3 179.4M1330.7 203.8L1332.1 203.9M1351 203.8L1352 204.8M1371.4 203.8L1371.8 205.8M1391.7 203.8L1391.8 207.6M1412 203.8L1411.8 209.8M1432.4 203.8L1431.7 211.9M1452.7 203.8L1451.7 212.2M1473 203.8L1471.6 210.9M1493.3 203.8L1491.7 206.9M1513.7 203.8L1512 201.6M1534 203.8L1532.7 198.1M1554.3 203.8L1553.3 196.6M1574.7 203.8L1573.9 197M1595 203.8L1594.4 198.4M1615.3 203.8L1614.9 200M1635.7 203.8L1635.3 201.3M1656 203.8L1655.8 202M1676.3 203.8L1676.3 202.4M1330.7 226.8L1332.1 227M1351 226.8L1352.1 227.7M1371.4 226.8L1372.3 228.7M1391.7 226.8L1392.7 230.4M1412 226.8L1413.4 232.4M1432.4 226.8L1434.3 234.3M1452.7 226.8L1455.4 234.8M1473 226.8L1476.5 233.2M1493.3 226.8L1497.3 229.5M1513.7 226.8L1517.5 224.9M1534 226.8L1537.1 221.6M1554.3 226.8L1556.5 220.2M1574.7 226.8L1576 220.5M1595 226.8L1595.7 221.8M1615.3 226.8L1615.6 223.2M1635.7 226.8L1635.7 224.3M1656 226.8L1656 225M1676.3 226.8L1676.5 225.4M1330.7 249.8L1332.1 250.1M1351 249.8L1352.3 250.6M1371.4 249.8L1372.7 251.4M1391.7 249.8L1393.3 252.6M1412 249.8L1414.5 254.2M1432.4 249.8L1436 255.5M1452.7 249.8L1457.7 255.9M1473 249.8L1479.3 254.5M1493.3 249.8L1500.3 251.7M1513.7 249.8L1520.3 248.3M1534 249.8L1539.5 245.8M1554.3 249.8L1558.4 244.6M1574.7 249.8L1577.4 244.7M1595 249.8L1596.5 245.7M1615.3 249.8L1616.1 246.7M1635.7 249.8L1636.1 247.6M1656 249.8L1656.3 248.2M1676.3 249.8L1676.8 248.4M1330.7 272.8L1332.1 273.2M1351 272.8L1352.3 273.5M1371.4 272.8L1372.8 274M1391.7 272.8L1393.5 274.7M1412 272.8L1414.7 275.7M1432.4 272.8L1436.2 276.5M1452.7 272.8L1457.9 276.6M1473 272.8L1479.5 275.7M1493.3 272.8L1500.4 273.8M1513.7 272.8L1520.4 271.7M1534 272.8L1539.8 270M1554.3 272.8L1558.7 269.1M1574.7 272.8L1577.6 269.2M1595 272.8L1596.8 269.7M1615.3 272.8L1616.4 270.4M1635.7 272.8L1636.3 271M1656 272.8L1656.6 271.4M1676.3 272.8L1677.1 271.6M1330.7 295.8L1332 296.5M1351 295.8L1352.3 296.5M1371.4 295.8L1372.7 296.7M1391.7 295.8L1393.4 297M1412 295.8L1414.3 297.5M1432.4 295.8L1435.6 297.8M1452.7 295.8L1456.9 297.8M1473 295.8L1478.1 297.2M1493.3 295.8L1498.8 296.2M1513.7 295.8L1519 294.9M1534 295.8L1538.5 293.9M1554.3 295.8L1557.8 293.4M1574.7 295.8L1577.1 293.4M1595 295.8L1596.6 293.7M1615.3 295.8L1616.4 294.1M1635.7 295.8L1636.5 294.4M1656 295.8L1656.8 294.6M1676.3 295.8L1677.4 294.9M1330.7 318.8L1331.8 319.7M1351 318.8L1352.2 319.7M1371.4 318.8L1372.5 319.6M1391.7 318.8L1393.1 319.7M1412 318.8L1413.8 319.8M1432.4 318.8L1434.7 319.8M1452.7 318.8L1455.6 319.7M1473 318.8L1476.4 319.3M1493.3 318.8L1497 318.8M1513.7 318.8L1517.2 318.1M1534 318.8L1537 317.6M1554.3 318.8L1556.7 317.3M1574.7 318.8L1576.4 317.2M1595 318.8L1596.3 317.4M1615.3 318.8L1616.3 317.5M1635.7 318.8L1636.6 317.7M1656 318.8L1657.1 317.9M1676.3 318.8L1677.6 318.2M1330.7 341.8L1331.6 342.9M1351 341.8L1352 342.9M1371.4 341.8L1372.4 342.8M1391.7 341.8L1392.9 342.6M1412 341.8L1413.4 342.5M1432.4 341.8L1434 342.4M1452.7 341.8L1454.7 342.2M1473 341.8L1475.2 341.9M1493.3 341.8L1495.6 341.6M1513.7 341.8L1515.9 341.2M1534 341.8L1535.9 340.9M1554.3 341.8L1555.9 340.8M1574.7 341.8L1576 340.7M1595 341.8L1596.1 340.8M1615.3 341.8L1616.4 340.8M1635.7 341.8L1636.8 341M1656 341.8L1657.3 341.2M1676.3 341.8L1677.7 341.5M1330.7 364.8L1331.4 366M1351 364.8L1351.8 366M1371.4 364.8L1372.3 365.9M1391.7 364.8L1392.8 365.7M1412 364.8L1413.3 365.5M1432.4 364.8L1433.7 365.3M1452.7 364.8L1454.2 365M1473 364.8L1474.6 364.8M1493.3 364.8L1494.9 364.5M1513.7 364.8L1515.2 364.3M1534 364.8L1535.4 364.1M1554.3 364.8L1555.5 364M1574.7 364.8L1575.8 363.9M1595 364.8L1596.1 363.9M1615.3 364.8L1616.5 364M1635.7 364.8L1636.9 364.2M1656 364.8L1657.4 364.4M1676.3 364.8L1677.8 364.8"/>
<path class="h" d="M1342.5 48.4L1336.9 47.7L1338.4 44.5zM1362.9 48.3L1357.3 47.6L1358.8 44.4zM1383.3 48L1377.7 47.5L1379.1 44.2zM1403.8 47.5L1398.2 47.2L1399.5 43.9zM1424.3 46.7L1418.8 46.8L1419.8 43.5zM1444.8 45.5L1439.3 46.1L1440.1 42.7zM1465.2 43.8L1459.9 45.1L1460.2 41.7zM1485.2 41.9L1480.3 43.9L1480.1 40.6zM1505 40.2L1500.6 42.8L1499.8 39.7zM1524.5 39L1520.6 42.1L1519.5 39.1zM1543.8 38.6L1540.3 41.7L1539.2 39zM1562.6 38.8L1559.8 41.6L1558.6 39.2zM1580.9 39.4L1578.8 41.7L1577.8 39.9zM1599.2 40.3L1597.9 42L1597.1 40.6zM1618 41L1617.2 42.2L1616.6 41.3zM1637.5 41.6L1637 42.5L1636.5 41.7zM1657.4 42L1657 42.7L1656.7 42zM1677.8 42.3L1677.3 42.9L1677.1 42.1zM1340.1 70L1335.6 69.6L1336.8 67zM1360.4 69.9L1356 69.5L1357.2 66.9zM1380.8 69.7L1376.4 69.4L1377.5 66.8zM1401.1 69.4L1396.7 69.2L1397.7 66.6zM1421.3 68.8L1417.1 68.9L1417.9 66.3zM1441.5 67.9L1437.4 68.3L1438 65.7zM1461.4 66.6L1457.7 67.5L1458 65zM1481.2 65L1478 66.5L1477.7 64.2zM1500.9 63.6L1498.1 65.6L1497.5 63.4zM1520.6 62.6L1518.2 64.9L1517.3 62.9zM1540.2 62.1L1538.2 64.5L1537.1 62.7zM1559.6 62.1L1558 64.4L1556.9 62.8zM1578.7 62.7L1577.5 64.6L1576.5 63.3zM1597.7 63.4L1597 64.8L1596.2 63.9zM1617.1 64L1616.7 65.1L1616 64.4zM1636.9 64.4L1636.7 65.3L1636.1 64.7zM1657.2 64.7L1656.9 65.5L1656.4 64.9zM1677.7 65L1677.3 65.6L1676.9 65zM1336.1 91L1333.6 90.9L1334.2 89.2zM1356.4 90.9L1353.9 90.9L1354.5 89.2zM1376.6 90.9L1374.1 90.8L1374.8 89.2zM1396.6 90.8L1394.3 90.8L1394.9 89.2zM1416.4 90.7L1414.3 90.6L1414.9 89.2zM1435.9 90.4L1434.1 90.4L1434.7 89.2zM1455.1 89.8L1453.9 89.9L1454.3 88.9zM1474.6 88.8L1474 89.2L1473.9 88.4zM1494 87.3L1494.1 88.1L1493.4 87.8zM1513.8 86.5L1514.2 87.5L1513.3 87.4zM1534.2 85.8L1534.7 87.1L1533.6 87zM1554.8 85.6L1555.2 87L1554 86.8zM1575.2 85.9L1575.5 87.2L1574.4 87zM1595.5 86.4L1595.7 87.5L1594.8 87.3zM1615.7 86.9L1616 87.8L1615.2 87.6zM1636.2 87.3L1636.3 88L1635.6 87.8zM1656.7 87.4L1656.8 88.2L1656.1 87.8zM1677.4 87.6L1677.2 88.3L1676.6 87.8zM1333.3 112.5L1332.1 112.7L1332.4 111.7zM1353.5 112.6L1352.3 112.8L1352.6 111.8zM1373.5 112.8L1372.4 112.8L1372.8 112zM1393.1 113.2L1392.2 112.9L1392.8 112.3zM1412.2 113.7L1411.7 113L1412.6 112.9zM1430.8 114.2L1431 112.9L1431.9 113.5zM1449.1 114.1L1450.2 112.6L1451 113.8zM1467.6 113.3L1469.6 111.9L1470 113.5zM1486.8 111.8L1489.5 110.8L1489.5 112.8zM1507 110L1510 109.8L1509.5 111.7zM1528.3 108.7L1531.1 109.1L1530.1 110.8zM1550 108.1L1552.4 109L1551.2 110.3zM1571.8 108.3L1573.6 109.3L1572.4 110.2zM1593.3 108.9L1594.5 109.8L1593.5 110.4zM1614.5 109.6L1615.3 110.3L1614.4 110.7zM1635.4 110.1L1635.9 110.7L1635.1 110.9zM1656.2 110.2L1656.5 110.9L1655.7 110.8zM1676.9 110.3L1677 111.1L1676.3 110.8zM1332.3 134.9L1331.6 135.2L1331.7 134.4zM1352.6 135.3L1351.8 135.5L1352 134.7zM1372.2 136.2L1371.5 135.8L1372.2 135.4zM1391.2 136.8L1391 135.9L1391.8 136.1zM1409.7 138.2L1410.1 136.4L1411.2 137.2zM1427.5 139.6L1428.8 136.9L1430.2 138.3zM1444.8 140L1447.3 136.7L1448.8 139zM1462.4 138.8L1466.2 135.7L1467.3 138.6zM1481.2 136.2L1486 133.9L1486.4 137.2zM1501.7 132.9L1506.9 132.1L1506.4 135.3zM1523.8 130.4L1528.6 130.8L1527.4 133.6zM1546.6 129.3L1550.6 130.4L1549 132.6zM1569.5 129.6L1572.4 130.9L1570.8 132.5zM1591.8 130.6L1593.8 131.8L1592.5 132.8zM1613.6 131.8L1614.8 132.7L1613.8 133.3zM1634.8 132.7L1635.6 133.4L1634.7 133.7zM1655.8 133.2L1656.2 133.8L1655.5 133.9zM1676.5 133.2L1676.8 133.9L1676.1 133.8zM1332.3 157.6L1331.7 158.1L1331.6 157.3zM1352.4 158.7L1351.6 158.6L1352 158zM1371.4 159.4L1371 158.8L1371.8 158.7zM1390.5 161.2L1390.4 159.6L1391.6 160zM1408.8 163.7L1409.2 160.8L1411 161.8zM1426.2 166L1427.6 161.8L1429.9 163.5zM1443.2 166.8L1445.8 161.8L1448.3 164.4zM1461.3 164.5L1465.2 160.2L1467 163.3zM1480.1 160.5L1485.2 157.6L1485.9 161.2zM1500.4 155.5L1506.1 154.6L1505.5 158.2zM1522.4 151.3L1528 152.4L1526.3 155.6zM1545.6 149.6L1550.3 151.8L1548.1 154.2zM1568.8 150.1L1572.3 152.4L1570.1 154.1zM1591.4 151.8L1593.8 153.7L1592 154.8zM1613.3 153.7L1614.8 155L1613.4 155.7zM1634.6 155.1L1635.5 156L1634.5 156.4zM1655.5 155.9L1656.1 156.6L1655.3 156.8zM1676.3 156.2L1676.7 156.9L1675.9 156.9zM1332.3 180.7L1331.7 181.1L1331.6 180.3zM1352.1 182L1351.4 181.8L1352 181.2zM1371.5 183L1371 182.1L1371.9 182.1zM1390.8 185.6L1390.4 183.5L1392 183.8zM1409.5 189.1L1409.4 185.3L1411.7 186zM1427.6 192.2L1428 186.9L1431.1 188.2zM1445.9 192.5L1447.1 186.8L1450.3 188.6zM1463.7 190.6L1466.2 185.3L1468.9 187.8zM1482.8 184.9L1486.6 181.8L1487.7 184.7zM1503.5 177.9L1508.1 177.7L1507.3 180.5zM1525.4 172.5L1530.1 174.7L1527.8 177.1zM1547.9 170.3L1552 173.7L1549.1 175.5zM1570.3 171L1573.4 174.4L1570.7 175.6zM1592.2 173.2L1594.5 175.9L1592.3 176.7zM1613.7 175.7L1615.2 177.5L1613.5 178zM1634.7 177.6L1635.7 178.7L1634.5 179.1zM1655.5 178.7L1656.2 179.5L1655.3 179.7zM1676.2 179.2L1676.7 179.8L1675.9 179.9zM1332.3 203.9L1331.6 204.2L1331.7 203.4zM1352.1 205L1351.4 204.8L1352 204.2zM1372 206.4L1371.2 205.5L1372.2 205.2zM1391.9 209.4L1391 207.1L1392.7 207zM1411.7 213.2L1410.5 209.3L1413.2 209.4zM1431.4 216.7L1430 211.3L1433.5 211.6zM1451.1 217.2L1449.9 211.5L1453.6 211.9zM1470.8 214.9L1470.2 210.1L1473.3 210.7zM1490.9 208.4L1491.2 206.1L1492.7 206.9zM1511.4 200.7L1512.9 201.6L1511.8 202.4zM1532 194.9L1534.1 198.3L1531.6 198.8zM1552.8 192.5L1555 196.9L1551.9 197.3zM1573.5 193.1L1575.4 197.3L1572.5 197.7zM1594.1 195.5L1595.6 198.8L1593.3 199zM1614.6 198.2L1615.8 200.4L1614.1 200.6zM1635.2 200.3L1636 201.7L1634.8 201.8zM1655.7 201.6L1656.3 202.4L1655.4 202.5zM1676.3 202.2L1676.7 202.9L1675.9 202.8zM1332.3 227L1331.6 227.3L1331.7 226.5zM1352.3 227.8L1351.5 227.7L1352 227.1zM1372.6 229.3L1371.6 228.5L1372.6 228.1zM1393.2 232L1391.8 230.1L1393.4 229.6zM1414.2 235.5L1412 232.3L1414.5 231.6zM1435.5 238.7L1432.6 234.3L1435.8 233.4zM1457.1 239.6L1453.6 234.9L1457 233.7zM1478.6 236.9L1474.9 233.5L1477.7 232zM1499.4 230.9L1496.3 230.1L1497.5 228.3zM1519.5 224L1517.5 226L1516.7 224.3zM1538.8 218.7L1538 222.7L1535.7 221.3zM1557.8 216.4L1557.8 221.2L1555 220.2zM1576.8 216.9L1577.3 221.3L1574.6 220.7zM1596.1 219.1L1596.8 222.4L1594.5 222.1zM1615.7 221.5L1616.4 223.8L1614.7 223.6zM1635.7 223.5L1636.3 224.9L1635.1 224.8zM1656 224.7L1656.5 225.5L1655.6 225.5zM1676.5 225.2L1676.8 225.9L1676.1 225.8zM1332.3 250.1L1331.6 250.4L1331.7 249.6zM1352.4 250.6L1351.6 250.6L1352 250zM1373 251.8L1371.9 251.3L1372.7 250.7zM1394.1 253.8L1392.4 252.6L1393.8 251.8zM1415.7 256.5L1413.2 254.3L1415.2 253.2zM1438 258.8L1434.4 255.9L1436.9 254.3zM1460.7 259.4L1456.1 256.6L1458.7 254.4zM1483 257.3L1477.9 255.6L1479.9 252.9zM1504.2 252.8L1499.4 253.1L1500.2 250.1zM1524.1 247.5L1520.1 249.9L1519.5 247zM1542.7 243.4L1540 247.3L1538.3 244.8zM1560.8 241.6L1559.3 245.9L1557 244.1zM1578.8 242L1578.2 245.8L1576 244.6zM1597.3 243.6L1597.3 246.5L1595.4 245.8zM1616.5 245.4L1616.7 247.4L1615.3 247zM1636.2 246.9L1636.5 248.2L1635.4 248zM1656.4 247.9L1656.6 248.8L1655.8 248.6zM1676.8 248.3L1677 249L1676.3 248.8zM1332.2 273.3L1331.5 273.5L1331.7 272.7zM1352.4 273.6L1351.7 273.6L1352 272.9zM1373.1 274.3L1372.1 274L1372.7 273.3zM1394.2 275.5L1392.7 274.8L1393.7 273.9zM1415.9 277L1413.7 275.9L1415 274.7zM1438.3 278.4L1435 277L1436.7 275.3zM1460.9 278.8L1456.7 277.5L1458.4 275.2zM1483.2 277.4L1478.4 276.9L1479.7 274.1zM1504.5 274.5L1499.7 275.3L1500.1 272.2zM1524.3 271L1520.2 273.2L1519.7 270.3zM1543 268.4L1539.9 271.5L1538.7 268.9zM1561 267.2L1559.1 270.4L1557.5 268.5zM1579.1 267.3L1578.1 270.2L1576.5 268.9zM1597.6 268.4L1597.2 270.6L1595.8 269.8zM1616.7 269.6L1616.7 271.1L1615.6 270.6zM1636.5 270.6L1636.6 271.7L1635.7 271.3zM1656.6 271.2L1656.7 272L1656 271.7zM1677.2 271.5L1677.2 272.2L1676.5 271.8zM1332.1 296.5L1331.4 296.6L1331.7 295.9zM1352.4 296.6L1351.7 296.6L1352 295.9zM1373 296.9L1372.1 296.8L1372.5 296.1zM1393.9 297.4L1392.7 297.2L1393.3 296.3zM1415.3 298.1L1413.5 297.7L1414.3 296.6zM1437.1 298.8L1434.7 298.3L1435.6 296.8zM1459.1 298.8L1456 298.5L1456.9 296.6zM1480.8 298L1477.3 298.2L1477.9 296zM1501.8 296.4L1498.3 297.4L1498.4 294.9zM1521.8 294.5L1518.7 296.2L1518.3 293.9zM1540.9 293L1538.5 295.2L1537.7 293.1zM1559.6 292.3L1557.9 294.5L1556.9 292.9zM1578.2 292.3L1577.3 294.3L1576.2 293.2zM1597.2 292.9L1596.8 294.5L1595.8 293.7zM1616.7 293.6L1616.5 294.8L1615.7 294.2zM1636.6 294.2L1636.6 295.1L1635.8 294.6zM1656.9 294.5L1656.9 295.3L1656.2 294.8zM1677.5 294.8L1677.3 295.5L1676.8 294.9zM1331.9 319.8L1331.2 319.7L1331.7 319.1zM1352.3 319.8L1351.5 319.7L1352 319.1zM1372.7 319.7L1371.9 319.7L1372.4 319zM1393.4 319.8L1392.5 319.8L1392.9 319zM1414.4 320L1413.2 320L1413.6 319.1zM1435.5 320.2L1434 320.2L1434.5 319zM1456.8 320.1L1454.9 320.2L1455.3 318.9zM1477.9 319.6L1475.8 320L1476 318.5zM1498.6 318.7L1496.5 319.6L1496.5 317.9zM1518.8 317.8L1516.8 319L1516.5 317.4zM1538.4 317.1L1536.9 318.5L1536.3 317.1zM1557.7 316.7L1556.7 318.1L1556 317zM1577 316.7L1576.5 318L1575.7 317.1zM1596.6 317L1596.3 318.1L1595.6 317.4zM1616.5 317.3L1616.4 318.2L1615.7 317.7zM1636.7 317.6L1636.6 318.4L1636 317.8zM1657.2 317.8L1657 318.5L1656.5 317.9zM1677.8 318.1L1677.3 318.8L1677 318zM1331.7 343L1331 342.8L1331.6 342.3zM1352.1 343L1351.4 342.8L1352 342.2zM1372.6 342.9L1371.8 342.7L1372.3 342.1zM1393 342.7L1392.3 342.7L1392.7 342zM1413.7 342.6L1412.8 342.6L1413.2 341.9zM1434.4 342.5L1433.4 342.6L1433.7 341.8zM1455.2 342.3L1454.1 342.6L1454.3 341.6zM1475.9 341.9L1474.7 342.4L1474.7 341.3zM1496.4 341.5L1495.2 342.2L1495.1 341.1zM1516.5 341L1515.5 341.9L1515.2 340.8zM1536.5 340.7L1535.7 341.6L1535.3 340.7zM1556.4 340.5L1555.8 341.4L1555.3 340.6zM1576.2 340.5L1575.9 341.4L1575.3 340.7zM1596.2 340.6L1596 341.4L1595.4 340.8zM1616.5 340.7L1616.3 341.5L1615.8 340.9zM1637 340.9L1636.6 341.6L1636.2 340.9zM1657.4 341.1L1657 341.8L1656.7 341.1zM1677.9 341.5L1677.3 342L1677.2 341.2zM1331.5 366.2L1330.9 365.8L1331.5 365.4zM1351.9 366.1L1351.2 365.8L1351.9 365.4zM1372.4 366L1371.7 365.8L1372.3 365.3zM1392.9 365.8L1392.2 365.7L1392.7 365.1zM1413.4 365.6L1412.7 365.6L1413 364.9zM1433.9 365.3L1433.1 365.5L1433.4 364.7zM1454.3 365L1453.6 365.3L1453.7 364.5zM1474.8 364.8L1474.1 365.2L1474.1 364.4zM1495.2 364.5L1494.5 365L1494.3 364.2zM1515.4 364.2L1514.8 364.8L1514.5 364zM1535.5 364L1535.1 364.7L1534.7 364zM1555.7 363.9L1555.3 364.6L1554.9 363.9zM1575.9 363.8L1575.6 364.5L1575.2 363.9zM1596.2 363.8L1596 364.5L1595.5 363.9zM1616.6 363.9L1616.3 364.6L1615.9 363.9zM1637.1 364.1L1636.7 364.7L1636.3 364zM1657.5 364.4L1657 364.9L1656.8 364.2zM1677.9 364.7L1677.3 365.2L1677.2 364.4z"/>
</g>
<text class="c" transform="translate(1340.7 124.1) rotate(0)">26.6</text>
<text class="c" transform="translate(1429.7 218.6) rotate(-74)">26.7</text>
<text class="c" transform="translate(1455.7 201.6) rotate(-63)">26.8</text>
<text class="c" transform="translate(1475.7 198.1) rotate(-50)">26.9</text>
<text class="c" transform="translate(1638.2 394.1) rotate(-50)">26.7</text>
<path class="f" d="M1357.3 38.6v3.6M1357.3 383.8v-3.6M1428.4 38.6v3.6M1428.4 383.8v-3.6M1499.6 38.6v3.6M1499.6 383.8v-3.6M1570.7 38.6v3.6M1570.7 383.8v-3.6M1641.8 38.6v3.6M1641.8 383.8v-3.6M1321.7 73.1h3.6M1677.4 73.1h-3.6M1321.7 142.2h3.6M1677.4 142.2h-3.6M1321.7 211.2h3.6M1677.4 211.2h-3.6M1321.7 280.2h3.6M1677.4 280.2h-3.6M1321.7 349.3h3.6M1677.4 349.3h-3.6"/>
<rect class="f" x="1321.7" y="38.6" width="355.7" height="345.2"/>
<text class="p" x="1322.5" y="24.4">D</text>
</g>
<g id="panelE">
<g clip-path="url(#cE)">
<rect x="81.5" y="437.6" width="356.6" height="345.0" fill="#f5faf3"/>
<path fill="#fffbdd" d="M204.6 449.5l21.1-3.6 12.1-0.1 8 1 4 1.6 4 4.6 1.9 4.4 0.9 4 0.7 7.9 0 35.7 3.4 39.7 0.6 15.8 0 47.6 0.6 43.6-0.5 130.9-170.2 0 7.6-95.2 4.3-35.7 1.7-7.9 2.9-7.9 9.9-19.9 2.4-7.9 0.5-3.9 0-8-2.8-31.7-0.8-31.7 0.7-27.8 1-7.9 3-13.1 4-10.9 4-6.5 4-1.3 8 4.2 4 1.3 4 0.1 12-1.4 4-1.1 8.1-3.5 4-2.4 6.7-5.1 6.8-3.9 6.5-2.4zM86.1 465.4l3.4-3.2 4 2 0.4 1.2-0.4 5.3-4 4.5-3.6-1.9-0.4-0.7-0.5-3.3z"/>
<path fill="#fee8b0" d="M219.2 453.5l6.5-1.6 8.1-0.4 8 0.8 4 1.2 4.5 3.9 1.7 4 0.9 4 0.6 7.9-0.4 19.8 0.4 11.9 3.5 35.7 1 19.8-0.5 222.1-128.3 0 0.2-59.5-1.5-71.4 0.5-7.9 3.2-19.8 1.3-11.9 0.3-11.9-0.8-23.8 0-11.9 0.9-11.9 1.5-7.9 4.4-11.9 6.4-12.2 4.9-7.7 20.4-27.7 3.9-4 13.7-11.9 9.2-7 9.7-4.9z"/>
<path fill="#fdcc93" d="M227.9 457.4l5.9-0.3 4 0.5 4 1 4 2.2 2.8 4.6 1.2 5.1 0.4 30.5 4.1 43.7 0.9 19.8-1.2 218.1-111.4 0 1.8-51.6 1.9-83.2 1.3-11.9 4.6-27.8 0.5-7.9 0-27.8 1.4-11.9 2.5-11.9 2.5-7.9 13.9-35.7 4.1-7.9 5.6-7.9 9.8-11.9 4.2-4 5-3.6 20-10.4z"/>
<path fill="#f8a87a" d="M224.4 465.4l5.3-1.7 4.1 0 4 0.8 1.9 0.9 2.1 1.2 2.2 2.7 1.6 4 0.6 4 1.4 27.7 3.9 39.7 0.9 19.8-1 87.2-0.8 130.9-96.4 0 2.6-59.5 1.7-71.4 1.1-11.9 4.9-31.7 0.9-35.7 1.2-11.9 2-11.9 3.1-11.9 6-16.4 8.8-19.3 6.5-11.8 4.7-6.5 5.6-5.4 6.4-4.3z"/>
<path fill="#f58468" d="M223.9 473.3l5.8-1.9 4.1 0 4 1.5 3.2 4.4 0.8 1.8 1.6 10.1 5.6 59.4 0.6 11.9 0.2 19.9-1.9 71.3-0.9 130.9-83.3 0 3.9-55.5 1.7-79.3 3.8-35.7 0.9-39.7 2.5-19.8 1.7-7.9 2.6-8 14.4-35.7 3.8-7.9 2.5-3.9 3.4-4 4.6-4z"/>
<path fill="#f05e56" d="M229.6 481.2l4.2 0.4 4 3.6 2.1 7.9 1.9 12.4 4.6 51.1 0.4 15.8-0.3 19.9-2.6 59.4-0.2 87.3-0.7 43.6-64.5 0 3.2-31.4 0.5-12.2 0-27.8-1.3-67.4 0.9-35.7-0.1-31.7 1.6-15.9 2.3-11.9 2.4-7.9 13.7-35.6 3.6-8 4.4-6 4-3.4 8-4 4-1.6z"/>
<path fill="#ee3f4e" d="M221.9 497.1l3.8-0.7 4-0.1 4.1 1.4 3.1 7.3 1 4 3.9 32.7 0.7 10.9 0.8 19.8-0.5 23.8-1 19.8-2.6 23.8-0.6 11.9-0.3 91.2-0.7 39.7-48.1 0 1.8-31.7 0.6-27.8-0.8-83.3-1.4-55.5 0.7-15.8 2-11.9 3.1-11.9 2.8-8 11.4-27.3 4-7 4-3.5z"/>
<path fill="#ec2e47" d="M217.2 524.8l4.5-1.6 4 0.6 4 2 4.1 5.8 2.6 13.1 1.4 12.4 0.6 11.4 0.1 11.9-0.7 14.4-2.9 21.2-4.5 23.8-1.2 11.9-1.8 31.8-1.5 47.5 1.3 51.6-25.6 0 1.7-35.7 0.1-27.7-1.7-71.4-0.3-39.7-1.8-23.8 0-7.9 0.7-7.9 1.3-8 4-15.8 4.1-9.9 4-6.6z"/>
<path fill="#d9243f" d="M217.4 556.6l0.3-0.7 4 0.8 1.8 3.8 2.4 8 0.5 7.9-1.2 7.9-3.5 9.5-4 1.6-3.9-11.1-0.8-7.9 0.7-10.3z"/>
<path fill="#d8eef5" d="M102.3 437.6l14.6 0-0.6 23.8-0.8 7.9-1.9 10.2-4.1 15.9-2.1 5.6-1.9 8.3-4-1.6-0.6-6.7 1.9-35.6zM262.2 437.6l175.9 0 0 345-172.9 0 0.7-43.6-0.1-95.2-0.7-35.7-0.1-51.5-2.7-39.7-0.6-15.9 1-39.6zM81.5 532.8l4 0.8 4 3.7 1.5 3.4 1 4 1.1 11.9-0.9 11.9-2.5 7.9-4.2 5.7-4 2.3z"/>
<path fill="#b3e2ef" d="M288.6 445.5l9.3-1.2 12-0.1 12 0.8 12 1.7 12 4.5 12.1 2.8 11.6 3.4 8.4 3.5 4 2.7 8 8.8 4 2 4-1.9 5.9-7.1 4-4 6.2-3.6 4-1.1 4-0.4 16-0.1 0 74.9-4 1.4-4 3-4.1 5.2-3.1 7.9-0.8 4-0.5 7.9 0.5 8.3 3.9 31.4 2.4 47.6 1 11.9 1.7 7.9 2.8 7.9 4.2 5.2 0 101.9-169.7 0 0.6-43.6 0-91.2-0.7-39.7-0.1-51.5-2.9-51.6 0.7-19.8 1.7-15.9 2.1-8.9 2.7-6.9 1.3-1.8 4-3.3 4-1.6z"/>
<path fill="#8dd4f0" d="M285.9 453.5l4-1.2 8-1.3 12-0.1 16 1.7 4 0.9 4 1.8 4 3.3 4 4.2 4 3.2 12.1 6.4 5.7 4.9 2.9 3.9 2.2 4 8.9 19.8 7.4 11.9 4 7.9 2.5 8 1.7 7.9 4.1 35.7 9.6 55.5 1.7 11.9 4.3 75.4 3.7 43.6 1.2 19.8-146.6 0 0.5-43.6 0-87.3-0.7-43.6 0-47.6-0.4-11.9-2.5-35.7 0.1-15.8 0.9-11.9 1.3-7.9 3.3-10.7 4-7 4-4z"/>
<path fill="#6dcff3" d="M288.1 461.4l5.8-2.2 4-1 4-0.4 8 0.1 8 1.1 8 2.2 4 1.6 4 2.7 8 8.6 7.5 7.1 6.1 8 3.7 7.9 2.8 9.2 4 10.6 4 8.4 8.3 15.4 3.3 7.9 2.6 11.9 3.4 27.8 5.6 63.4 2.3 35.7 4.1 95.2-125.6 0 0.5-130.9-0.9-43.6 0.1-47.6-0.4-11.9-2.3-31.7-0.2-15.9 1.6-15.8 1.4-6.4 2.2-5.5 1.8-3.4 4-4.6 4-2.8z"/>
<path fill="#62b5e5" d="M301.1 465.4l8.8 0.1 8 1.3 4 1.2 8 3.6 4 3.1 2.2 2.6 8.3 11.9 4.6 7.9 9 24.3 9 19.3 4.5 11.9 1.9 7.9 2.8 15.9 2.6 23.8 2.6 55.5 3.5 39.7 1.5 23.8 2.4 63.4-112.1 0 0.4-130.9-0.9-43.6 0-47.6-0.3-11.9-2.6-35.7 0.4-15.8 1.2-7.9 2-8 1.8-3.9 3.1-4.4 4-3 4.1-1.9 4-1.4z"/>
<path fill="#4f91cf" d="M293.3 473.3l8.6-1.4 8 0.2 4 0.6 8 2.9 4 2.2 4.4 3.4 3.6 4.3 2.3 3.7 6.3 11.8 19 47.6 2.4 8 4.2 23.8 2.5 23.8 2.4 55.5 5.1 63.4 0.6 59.5-99.1 0 0.4-130.9-1.3-47.5 0.1-47.6-2.7-39.7-0.1-11.9 0.6-7.9 1.2-6.8 3.7-9.1 4.3-4.7 4.1-2.1z"/>
<path fill="#4277bd" d="M289.8 481.2l4.1-1.4 8-1.1 8 0.3 4 0.8 4 1.7 4.8 3.7 3.9 4 3.3 3.9 2.3 4 9.7 20.6 9 23 4 11.9 1.8 7.9 3.3 19.9 2.4 23.8 2.2 59.4 3.3 59.5 0.5 59.5-85.8 0 0.4-134.8-1.4-39.7-0.1-55.5-2.3-31.7-0.4-11.9 1.1-11.9 1.9-6.8 4-6.2z"/>
<path fill="#3966b3" d="M291.1 489.2l2.8-1.1 4-0.7 8-0.2 4 0.4 4 1.1 4 2.8 1.6 1.6 2.9 4 7.8 15.8 8.8 15.9 5 11.9 3.7 11.9 1.6 7.9 2.3 15.9 2.3 23.8 2.6 130.8 1.8 51.6-72 0 0.4-47.6-0.2-87.2-1.6-39.7 0.1-55.5-2.7-39.7 0.3-7.9 1.8-7.9 1.9-4 3.6-3.4z"/>
<path fill="#355aab" d="M292 501l1.9-1.3 4-0.9 4-0.2 8 0.6 4 2.1 4 6.1 4.2 9.5 3.8 7.3 8 12.2 2.4 4.3 3.2 7.9 2 8 3.2 27.7 1.5 23.8 1 39.7 1.1 87.2 1.9 47.6-59.1 0 0.4-51.6-0.4-79.3-1.9-43.6 0.3-55.5-1.7-35.7 0.5-7.9 0.9-4 0.7-1.7z"/>
<path fill="#3652a5" d="M305.5 528.8l4.4-2.2 4 1.2 4 4.5 8 10.9 4 6.3 2.7 7.1 1.3 7.3 4 53.2 1.1 22.7 1.5 95.2 1.9 47.6-43 0-0.2-87.2-0.8-47.6-1.7-39.7 0.2-23.8 1-29.1 1-10.5 1.8-8 1.2-3.1z"/>
<path class="kb" d="M81.5 447.1l3.6 0 3.5 0 3.6-0.1 3.6 0 3.5 0 3.6 0 3.6 0 3.5 0.1 3.6 0 3.6 0.1 3.5 0 3.6 0.2 3.6 0.1 3.5 0.2 3.6 0.1 3.6 0.2 3.5 0.2 3.6 0.2 3.6 0.2 3.5 0.2 3.6 0.1 3.6 0 3.5 0 3.6 0 3.5-0.2 3.6-0.2 3.6-0.2 3.5-0.3 3.6-0.3 3.6-0.3 3.5-0.3 3.6-0.3 3.6-0.4 3.5-0.3 3.6-0.3 3.6-0.2 3.5-0.3 3.6-0.3 3.6-0.3 3.5-0.3 3.6-0.2 3.6-0.3 3.5-0.3 3.6-0.2 3.6-0.3 3.5-0.2 3.6-0.2 3.6-0.2 3.5-0.1 3.6-0.1 3.6-0.1 3.5-0.1 3.6 0.1 3.6 0 3.5 0.1 3.6 0.1 3.6 0.2 3.5 0.2 3.6 0.2 3.6 0.2 3.5 0.3 3.6 0.3 3.6 0.3 3.5 0.3 3.6 0.3 3.6 0.2 3.5 0.3 3.6 0.2 3.6 0.2 3.5 0.2 3.6 0.1 3.6 0.1 3.5 0.1 3.6 0 3.6 0"/>
<path class="kb" d="M391.7 445.2l3.6 0 3.6-0.1 3.5 0 3.6 0 3.6-0.1 3.5 0 3.6 0 3.6 0 3.5-0.1 3.6 0 3.6 0 3.5 0 3.6-0.1"/>
<path class="kb" d="M81.5 524.7l3.6 0 3.5-0.1 3.6 0 3.6 0 3.5-0.1 3.6 0 3.6 0 3.5-0.1 3.6-0.1 3.6 0 3.5-0.1 3.6-0.2 3.6-0.1 3.5-0.1 3.6-0.2 3.6-0.3 3.5-0.3 3.6-0.3 3.6-0.4 3.5-0.4 3.6-0.5 3.6-0.7 3.5-0.7 3.6-0.8 3.5-0.9 3.6-1 3.6-1.1 3.5-1.3 3.6-1.4 3.6-1.6 3.5-1.6 3.6-1.8 3.6-1.9 3.5-2 3.6-2.2 3.6-2.1 3.5-2.3 3.6-2.3 3.6-2.3 3.5-2.2 3.6-2.2 3.6-2.2 3.5-2 3.6-1.9 3.6-1.6 3.5-1.5 3.6-1.3 3.6-1 3.5-0.7 3.6-0.5 3.6-0.2 3.5 0.1 3.6 0.3 3.6 0.5 3.5 0.7 3.6 0.9 3.6 1 3.5 1.2 3.6 1.4 3.6 1.5 3.5 1.6 3.6 1.7 3.6 1.8 3.5 1.8 3.6 1.8 3.6 1.9 3.5 1.9 3.6 1.9 3.6 1.8 3.5 1.8 3.6 1.8 3.6 1.7 3.5 1.6 3.6 1.5 3.6 1.5"/>
<path class="kb" d="M391.7 520.3l3.6 0.3 3.6 0.4 3.5 0.3 3.6 0.2 3.6 0.3 3.5 0.1 3.6 0.2 3.6 0.1 3.5 0.1 3.6 0.1 3.6 0.1 3.5 0 3.6 0.1"/>
<path class="kb" d="M81.5 566.5l3.6 0 3.5-0.1 3.6 0 3.6-0.1 3.5 0 3.6-0.1 3.6-0.1 3.5-0.1 3.6-0.2 3.6-0.1 3.5-0.2 3.6-0.3 3.6-0.2 3.5-0.3 3.6-0.4 3.6-0.4 3.5-0.4 3.6-0.5 3.6-0.6 3.5-0.6 3.6-0.7 3.6-0.8 3.5-0.8 3.6-1 3.5-1 3.6-1 3.6-1.2 3.5-1.2 3.6-1.4 3.6-1.3 3.5-1.5 3.6-1.5 3.6-1.5 3.5-1.6 3.6-1.6 3.6-1.6 3.5-1.6 3.6-1.6 3.6-1.6 3.5-1.5 3.6-1.5 3.6-1.3 3.5-1.3 3.6-1.2 3.6-1 3.5-0.9 3.6-0.8 3.6-0.6 3.5-0.4 3.6-0.3 3.6-0.1 3.5 0.1 3.6 0.2 3.6 0.4 3.5 0.4 3.6 0.6 3.6 0.8 3.5 0.8 3.6 0.9 3.6 1.1 3.5 1.1 3.6 1.2 3.6 1.2 3.5 1.4 3.6 1.3 3.6 1.4 3.5 1.4 3.6 1.5 3.6 1.4 3.5 1.4 3.6 1.4 3.6 1.4 3.5 1.4 3.6 1.3 3.6 1.2"/>
<path class="kb" d="M391.7 562.6l3.6 0.6 3.6 0.5 3.5 0.4 3.6 0.4 3.6 0.4 3.5 0.3 3.6 0.3 3.6 0.2 3.5 0.2 3.6 0.2 3.6 0.2 3.5 0.2 3.6 0.1"/>
<path class="kb" d="M81.5 616.5l3.6 0 3.5-0.1 3.6-0.1 3.6-0.1 3.5-0.2 3.6-0.1 3.6-0.2 3.5-0.2 3.6-0.3 3.6-0.3 3.5-0.3 3.6-0.4 3.6-0.4 3.5-0.4 3.6-0.6 3.6-0.5 3.5-0.7 3.6-0.7 3.6-0.7 3.5-0.9 3.6-0.9 3.6-0.9 3.5-1.1 3.6-1.1 3.5-1.1 3.6-1.3 3.6-1.2 3.5-1.4 3.6-1.4 3.6-1.4 3.5-1.5 3.6-1.5 3.6-1.5 3.5-1.6 3.6-1.5 3.6-1.5 3.5-1.6 3.6-1.4 3.6-1.4 3.5-1.4 3.6-1.3 3.6-1.2 3.5-1.1 3.6-1 3.6-0.9 3.5-0.8 3.6-0.6 3.6-0.5 3.5-0.4 3.6-0.2 3.6 0 3.5 0.1 3.6 0.3 3.6 0.4 3.5 0.5 3.6 0.7 3.6 0.8 3.5 1 3.6 1.1 3.6 1.1 3.5 1.3 3.6 1.4 3.6 1.4 3.5 1.5 3.6 1.5 3.6 1.6 3.5 1.6 3.6 1.6 3.6 1.6 3.5 1.6 3.6 1.5 3.6 1.6 3.5 1.5 3.6 1.4 3.6 1.4"/>
<path class="kb" d="M391.7 615.1l3.6 0.5 3.6 0.6 3.5 0.5 3.6 0.4 3.6 0.4 3.5 0.3 3.6 0.3 3.6 0.3 3.5 0.3 3.6 0.2 3.6 0.2 3.5 0.2 3.6 0.1"/>
<path class="kb" d="M81.5 687l3.6-0.1 3.5-0.1 3.6 0 3.6-0.1 3.5-0.2 3.6-0.1 3.6-0.2 3.5-0.2 3.6-0.2 3.6-0.2 3.5-0.3 3.6-0.3 3.6-0.4 3.5-0.4 3.6-0.4 3.6-0.5 3.5-0.5 3.6-0.6 3.6-0.7 3.5-0.7 3.6-0.7 3.6-0.8 3.5-0.9 3.6-0.9 3.5-1 3.6-1 3.6-1.1 3.5-1.1 3.6-1.2 3.6-1.2 3.5-1.2 3.6-1.3 3.6-1.3 3.5-1.3 3.6-1.3 3.6-1.2 3.5-1.3 3.6-1.2 3.6-1.2 3.5-1.2 3.6-1.1 3.6-1 3.5-0.9 3.6-0.8 3.6-0.8 3.5-0.6 3.6-0.6 3.6-0.4 3.5-0.3 3.6-0.2 3.6 0 3.5 0.1 3.6 0.1 3.6 0.3 3.5 0.4 3.6 0.5 3.6 0.6 3.5 0.7 3.6 0.8 3.6 0.9 3.5 0.9 3.6 1 3.6 1.1 3.5 1.1 3.6 1.2 3.6 1.2 3.5 1.2 3.6 1.2 3.6 1.3 3.5 1.2 3.6 1.2 3.6 1.3 3.5 1.2 3.6 1.1 3.6 1.2"/>
<path class="kb" d="M391.7 683.8l3.6 0.6 3.6 0.5 3.5 0.4 3.6 0.5 3.6 0.4 3.5 0.3 3.6 0.3 3.6 0.3 3.5 0.3 3.6 0.2 3.6 0.2 3.5 0.2 3.6 0.2"/>
</g>
<text class="c" text-anchor="middle" transform="translate(370.3 445.7) rotate(-1.3)"><tspan dy="7.0">24.8</tspan></text>
<text class="c" text-anchor="middle" transform="translate(369.3 516.2) rotate(14.0)"><tspan dy="5.8">25.8</tspan></text>
<text class="c" text-anchor="middle" transform="translate(370.0 558.2) rotate(14.4)"><tspan dy="5.8">26.8</tspan></text>
<text class="c" text-anchor="middle" transform="translate(370.0 610.2) rotate(15.7)"><tspan dy="5.8">27.3</tspan></text>
<text class="c" text-anchor="middle" transform="translate(370.0 679.4) rotate(13.7)"><tspan dy="5.8">27.5</tspan></text>
<path class="f" d="M117.2 437.6v3.6M117.2 782.6v-3.6M188.5 437.6v3.6M188.5 782.6v-3.6M259.8 437.6v3.6M259.8 782.6v-3.6M331.1 437.6v3.6M331.1 782.6v-3.6M402.4 437.6v3.6M402.4 782.6v-3.6M81.5 523.9h3.6M438.1 523.9h-3.6M81.5 610.1h3.6M438.1 610.1h-3.6M81.5 696.4h3.6M438.1 696.4h-3.6"/>
<rect class="f" x="81.5" y="437.6" width="356.6" height="345.0"/>
<text class="p" x="81.5" y="424.5">E</text>
<text class="t" text-anchor="middle" x="116.9" y="810.2">-200</text>
<text class="t" text-anchor="middle" x="188.2" y="810.2">-100</text>
<text class="t" text-anchor="middle" x="259.5" y="810.2">0</text>
<text class="t" text-anchor="middle" x="330.8" y="810.2">100</text>
<text class="t" text-anchor="middle" x="402.1" y="810.2">200</text>
<text class="l" text-anchor="middle" x="256.8" y="836.1">X (km)</text>
<text class="t" text-anchor="end" x="73.0" y="532.1">-500</text>
<text class="t" text-anchor="end" x="73.0" y="618.3">-1000</text>
<text class="t" text-anchor="end" x="73.0" y="704.6">-1500</text>
<text class="t" text-anchor="end" x="73.0" y="790.8">-2000</text>
<text class="l" text-anchor="middle" transform="translate(15.5 611.1) rotate(-90)">Depth (m)</text>
</g>
<g id="panelF">
<g clip-path="url(#cF)">
<rect x="492.5" y="437.6" width="356.1" height="344.8" fill="#f5faf3"/>
<path fill="#fffbdd" d="M614.2 449.5l6.3-2.2 8-1.1 8 1.1 4 1.5 4 2.5 4 4.6 2.5 5.5 1.6 7.9 2.8 47.6 0.8 27.7 0.6 59.5 1.1 47.5 0.1 130.8-165.5 0 0-164.1 4-8.8 4-11.2 10.8-33.9 0.8-3.9 0.4-8-1.1-23.7 0.1-8 1-7.9 1.9-7.9 1.5-4 2.4-4 4.3-3.9 6.6-4 31.3-16 20-8.8 11.1-6.9 4.9-2.3z"/>
<path fill="#fee8b0" d="M621.8 457.4l2.7-1.1 4-0.5 4 0.5 4 1.7 4 3.1 2.9 4.2 1.7 4 1.7 7.9 0.9 8 3.4 39.6 1.1 31.7 0.5 47.6 1.2 51.5 0 126.8-149.7 0 4.5-55.5 4.6-79.2 5.8-43.6 1.7-8 8.7-19.8 2.8-7.9 5.5-27.8 3.3-11.8 3.5-8 4.9-7.9 9.4-11.9 11.5-11.9 6.1-4.9 16.4-10.9 7.6-4.2 8.5-3.8z"/>
<path fill="#fdcc93" d="M620.6 469.3l3.9-2.1 4-0.8 4 1 4 2.9 2.1 3 2.1 3.9 2.1 8 1.8 11.8 2.2 19.9 2.2 39.6 0.5 47.6 1.2 43.6 0.1 134.7-123.8 0 5.7-67.4 10.8-99.1 3.3-19.8 12.8-51.5 3.9-11.9 3.1-7.9 8.3-15.9 7.6-11.9 7.3-7.9 9.7-7.9 5-3 8-3.9z"/>
<path fill="#f8a87a" d="M619 481.2l5.5-2.3 4-0.3 4 1.5 4 4.4 4 12.3 3.3 24 2.2 35.7 0.5 47.6 1.3 43.6 0.2 134.7-100.6 0 6.8-79.3 4.5-59.4 6.3-51.5 3.8-19.9 11.4-43.5 2.9-8 5.9-11.9 4.8-7.9 6.7-8.6 4-3.5z"/>
<path fill="#f58468" d="M619.5 493.1l5-1 4 0.6 4 2.6 1.2 1.7 2.8 5.1 0.8 2.9 3.2 15.8 0.8 8 1.7 31.7 0.5 39.6 1.6 51.5 0.3 130.8-81.8 0 4.9-67.4 5.6-110.9 0.7-8 1.3-7.9 6.2-23.8 6.4-27.7 2.2-7.9 3.1-8 6.3-11.9 4.2-6.1 4-3.9 2.7-1.9z"/>
<path fill="#f05e56" d="M611.9 512.9l4.6-2.7 4-1.2 4 0 4 1.4 4 3.5 1.4 3 2.6 6.9 1.2 8.9 2 27.8 0.7 39.6 1.7 51.5 0.4 130.8-68.5 0 6.6-130.8 1.5-39.6 1.3-15.9 2.4-11.9 11.1-43.6 3.6-11.8 4-8.5 4-4.8z"/>
<path fill="#ee3f4e" d="M620.5 528.8l4 0.6 4 2.9 4 8.1 1.9 12.1 1.1 11.9 3.4 95.1 0 83.3 0.5 39.6-57 0 1.6-43.6 5-91.1 1.2-35.7 1.3-15.9 2.6-11.9 10-35.6 1.5-4 2.9-6.4 4-5.4 4-3z"/>
<path fill="#ec2e47" d="M615.1 568.4l1.4-1.4 4 0.2 4 3.9 4 10.7 2 18.3 2 21.3 1.6 34.2 0.6 91.1 0.9 35.7-45 0 1.5-43.6 7.6-130.8 1.2-7.9 3.6-12.4 4-9.8 4-7.1z"/>
<path fill="#d9243f" d="M613.8 643.7l2.7-1.2 4 7.2 2 9.8 1.6 11.9 5.9 111-31.5 0 2.1-43.6 5.5-63.4 2.4-19.5 4-11.6z"/>
<path fill="#a8262e" d="M611.7 750.7l0.8-2.4 4 1.2 4 13.5 2.8 19.4-17.7 0 2.9-21.9z"/>
<path fill="#d8eef5" d="M492.5 437.6l33.2 0 0.5 15.9-0.1 3.9-0.8 4-3.2 3.9-6.7 4-22.9 11.9zM663.5 437.6l185.1 0 0 344.8-184.2 0-0.1-134.7-0.8-43.6-0.7-130.8z"/>
<path fill="#b3e2ef" d="M683.3 445.5l5.3-1.8 12-1 16 0.9 12 2.4 8 2.9 4 2.2 3.2 2.4 8.8 8.4 4 2.2 16 5.4 4 0.6 4-0.6 4-1.7 8-4.5 4-1.4 8-0.6 8 0.5 4 1.5 2.9 2 3.7 4 1.6 4 0.3 3.9-0.6 4-4.3 11.9-0.5 3.9 0.5 4 4.8 19.8 2 11.9 2.4 35.7 5 47.5 3.4 39.7 1.9 27.7 1.5 35.7 1.4 63.4-170.8 0 0-130.8-1.1-47.5-0.3-122.9 0.8-11.9 2.7-11.9 1.6-3.9 2.6-4 2.5-2.5z"/>
<path fill="#8dd4f0" d="M694.1 449.5l10.5-0.4 8 0.7 8 1.4 8 3 8 5.4 16 16.2 11.3 9.4 7.2 7.9 9.5 12.1 11.1 15.6 4.8 8 3.8 7.9 3.7 11.9 2.3 11.9 5 47.5 5.4 31.7 1.9 15.9 2.9 31.7 2.2 31.7 1.1 31.7 0.6 31.7-150.5 0 0-130.8-0.9-43.6-0.4-95.1 0.4-31.7 1.4-11.9 2.5-7.9 2.7-5.2 4-3.9 4-1.8z"/>
<path fill="#6dcff3" d="M687.4 457.4l5.2-2 4-0.7 8-0.1 8 1.1 8 2 4 1.8 8 5.6 4.7 4.2 3.6 4 18.7 23.7 17.5 23.8 7.8 11.9 5.3 11.9 3.1 11.9 1.7 11.9 11.5 122.8 1.9 31.8 1.5 59.4-132.6 0 0-130.8-1-47.5-0.2-111 0.6-11.9 2.2-11.9 1.7-4.3 2.3-3.6 1.7-2.1z"/>
<path fill="#62b5e5" d="M692.1 461.4l4.5-1.1 8-0.2 12 2.4 4 1.4 4 2.1 4.6 3.3 3.4 3.2 6.9 8.7 9.1 14.4 21.4 29.2 7.2 11.9 5.2 11.9 2.9 11.9 1.9 15.8 4.6 51.5 6 75.3 1.7 27.8 1.1 51.5-121.3 0 0-134.7-0.9-39.7-0.5-87.2 0.4-27.7 0.5-7.9 1.1-8 1-3.9 1.7-4 2.8-4 3.2-2.5z"/>
<path fill="#4f91cf" d="M699.1 465.3l5.5 0 4 0.6 8 2 4 1.6 4 2.6 5.1 5.1 5.6 8 9.3 16.8 14.7 18.8 7.9 11.9 4.2 7.9 4.3 11.9 1.8 8 2.1 15.8 5.9 75.3 4.1 71.4 1.4 59.4-109.6 0 0-134.7-1-39.7-0.5-87.2 0.6-27.7 1.6-11.9 2.6-7.9 3.9-4.6 4-2z"/>
<path fill="#4277bd" d="M691.6 473.3l5-2.2 4-0.7 8 0.6 8 2.6 4 2.3 4 3.5 4.3 5.8 11.7 22.7 4 5.3 8 8.5 7.7 11 6.1 11.9 2.8 7.9 1.8 8 1.7 11.8 2.2 23.8 2.2 51.6 3.8 71.3 1.5 63.4-98.7 0 0-134.7-0.8-43.6-0.4-95.2 0.9-15.8 1.2-8.6 3.1-7.3 0.9-1.3z"/>
<path fill="#3966b3" d="M699.3 477.2l5.3-0.5 4 0.5 4 1.3 4.9 2.7 4.2 4 2.9 3.9 8 17.3 4 7.3 4 5.3 12 12.2 3.6 5.5 5.4 11.9 2.4 7.9 3.1 19.8 1.7 19.8 0.8 63.4 3.4 67.4 1.2 55.5-87.4 0 0-134.7-1-43.6 0-47.6-0.6-27.7 0.3-15.9 1.1-15.9 2-10.1 4-6.3 4-2.5z"/>
<path fill="#355aab" d="M704.3 485.2l4.3 0.2 4 1.8 4 3.5 1.8 2.4 2.5 3.9 7.6 15.9 4.5 7.9 3.6 4.9 4 4.3 8 7.4 4 5.2 2.8 6 2.5 7.9 3.1 19.8 1.7 19.8 0.4 67.4 2.2 63.4 1 55.5-75.3 0 0.1-134.7-0.9-39.7-0.4-87.2 0.9-11.9 1.9-12.3 1.5-3.5 2.5-4.1 4-2.8z"/>
<path fill="#3652a5" d="M703.7 505l0.9-1.3 4-1.3 4 3 17.9 27.3 6.1 7.3 8.2 8.6 2.9 3.9 1.8 4 1 4 2.1 12.8 2.2 26.8 0.5 63.4 2 63.4 0.2 55.5-58.2 0 0.1-134.7-0.8-43.6 0-47.6-1.1-23.8 0.5-7.9 1.2-7.9 1.4-5.7z"/>
<path class="kb" d="M492.5 447.1l3.6 0 3.5-0.1 3.6 0 3.5 0 3.6 0 3.6 0 3.5 0 3.6 0.1 3.5 0 3.6 0.1 3.6 0 3.5 0.2 3.6 0.1 3.6 0.2 3.5 0.1 3.6 0.2 3.5 0.2 3.6 0.2 3.6 0.2 3.5 0.2 3.6 0.1 3.5 0 3.6 0 3.6 0 3.5-0.2 3.6-0.2 3.5-0.2 3.6-0.3 3.6-0.3 3.5-0.3 3.6-0.3 3.6-0.3 3.5-0.4 3.6-0.3 3.5-0.3 3.6-0.3 3.6-0.2 3.5-0.3 3.6-0.3 3.5-0.3 3.6-0.2 3.6-0.3 3.5-0.3 3.6-0.2 3.5-0.3 3.6-0.2 3.6-0.2 3.5-0.2 3.6-0.1 3.6-0.1 3.5-0.1 3.6-0.1 3.5 0 3.6 0.1 3.6 0.1 3.5 0.1 3.6 0.2 3.5 0.2 3.6 0.2 3.6 0.2 3.5 0.3 3.6 0.3 3.5 0.3 3.6 0.3 3.6 0.3 3.5 0.2 3.6 0.3 3.5 0.2 3.6 0.2 3.6 0.2 3.5 0.1 3.6 0.1 3.6 0.1 3.5 0 3.6 0"/>
<path class="kb" d="M802.3 445.2l3.6 0 3.5-0.1 3.6 0 3.6 0 3.5-0.1 3.6 0 3.5 0 3.6 0 3.6-0.1 3.5 0 3.6 0 3.5 0 3.6-0.1"/>
<path class="kb" d="M492.5 524.6l3.6 0 3.5 0 3.6 0 3.5-0.1 3.6 0 3.6 0 3.5-0.1 3.6 0 3.5-0.1 3.6-0.1 3.6-0.1 3.5-0.1 3.6-0.1 3.6-0.2 3.5-0.2 3.6-0.2 3.5-0.3 3.6-0.3 3.6-0.4 3.5-0.5 3.6-0.5 3.5-0.6 3.6-0.7 3.6-0.8 3.5-0.9 3.6-1 3.5-1.2 3.6-1.3 3.6-1.4 3.5-1.5 3.6-1.7 3.6-1.8 3.5-1.9 3.6-2 3.5-2.1 3.6-2.2 3.6-2.2 3.5-2.3 3.6-2.3 3.5-2.2 3.6-2.3 3.6-2.1 3.5-2 3.6-1.9 3.5-1.7 3.6-1.5 3.6-1.2 3.5-1 3.6-0.8 3.6-0.4 3.5-0.2 3.6 0.1 3.5 0.3 3.6 0.5 3.6 0.7 3.5 0.8 3.6 1.1 3.5 1.2 3.6 1.4 3.6 1.5 3.5 1.6 3.6 1.7 3.5 1.7 3.6 1.8 3.6 1.9 3.5 1.9 3.6 1.9 3.5 1.9 3.6 1.8 3.6 1.8 3.5 1.7 3.6 1.7 3.6 1.6 3.5 1.6 3.6 1.4"/>
<path class="kb" d="M802.3 520.2l3.6 0.4 3.5 0.3 3.6 0.3 3.6 0.3 3.5 0.2 3.6 0.2 3.5 0.1 3.6 0.2 3.6 0.1 3.5 0.1 3.6 0 3.5 0.1 3.6 0"/>
<path class="kb" d="M492.5 566.4l3.6 0 3.5 0 3.6-0.1 3.5 0 3.6-0.1 3.6-0.1 3.5-0.1 3.6-0.1 3.5-0.1 3.6-0.2 3.6-0.2 3.5-0.2 3.6-0.3 3.6-0.3 3.5-0.3 3.6-0.4 3.5-0.5 3.6-0.5 3.6-0.5 3.5-0.7 3.6-0.7 3.5-0.8 3.6-0.8 3.6-0.9 3.5-1 3.6-1.1 3.5-1.2 3.6-1.2 3.6-1.3 3.5-1.4 3.6-1.4 3.6-1.5 3.5-1.6 3.6-1.6 3.5-1.6 3.6-1.6 3.6-1.6 3.5-1.6 3.6-1.6 3.5-1.5 3.6-1.4 3.6-1.4 3.5-1.3 3.6-1.1 3.5-1.1 3.6-0.9 3.6-0.7 3.5-0.6 3.6-0.5 3.6-0.2 3.5-0.1 3.6 0.1 3.5 0.2 3.6 0.3 3.6 0.5 3.5 0.6 3.6 0.7 3.5 0.8 3.6 1 3.6 1 3.5 1.1 3.6 1.2 3.5 1.3 3.6 1.3 3.6 1.4 3.5 1.3 3.6 1.5 3.5 1.4 3.6 1.4 3.6 1.4 3.5 1.5 3.6 1.3 3.6 1.4 3.5 1.3 3.6 1.3"/>
<path class="kb" d="M802.3 562.6l3.6 0.5 3.5 0.5 3.6 0.4 3.6 0.4 3.5 0.4 3.6 0.3 3.5 0.3 3.6 0.2 3.6 0.3 3.5 0.2 3.6 0.1 3.5 0.2 3.6 0.1"/>
<path class="kb" d="M492.5 616.4l3.6 0 3.5-0.1 3.6-0.1 3.5-0.1 3.6-0.2 3.6-0.1 3.5-0.2 3.6-0.2 3.5-0.3 3.6-0.3 3.6-0.3 3.5-0.4 3.6-0.4 3.6-0.5 3.5-0.5 3.6-0.5 3.5-0.7 3.6-0.7 3.6-0.7 3.5-0.9 3.6-0.9 3.5-0.9 3.6-1.1 3.6-1.1 3.5-1.1 3.6-1.3 3.5-1.2 3.6-1.4 3.6-1.4 3.5-1.4 3.6-1.5 3.6-1.5 3.5-1.5 3.6-1.6 3.5-1.5 3.6-1.5 3.6-1.5 3.5-1.5 3.6-1.4 3.5-1.4 3.6-1.3 3.6-1.2 3.5-1.1 3.6-1 3.5-0.9 3.6-0.8 3.6-0.6 3.5-0.5 3.6-0.3 3.6-0.2 3.5-0.1 3.6 0.1 3.5 0.3 3.6 0.4 3.6 0.5 3.5 0.7 3.6 0.9 3.5 0.9 3.6 1.1 3.6 1.2 3.5 1.2 3.6 1.4 3.5 1.4 3.6 1.5 3.6 1.5 3.5 1.6 3.6 1.6 3.5 1.6 3.6 1.6 3.6 1.6 3.5 1.5 3.6 1.6 3.6 1.5 3.5 1.4 3.6 1.5"/>
<path class="kb" d="M802.3 615l3.6 0.5 3.5 0.6 3.6 0.5 3.6 0.4 3.5 0.4 3.6 0.3 3.5 0.3 3.6 0.3 3.6 0.3 3.5 0.2 3.6 0.2 3.5 0.2 3.6 0.1"/>
<path class="kb" d="M492.5 686.8l3.6 0 3.5-0.1 3.6-0.1 3.5-0.1 3.6-0.1 3.6-0.1 3.5-0.2 3.6-0.2 3.5-0.2 3.6-0.3 3.6-0.2 3.5-0.4 3.6-0.3 3.6-0.4 3.5-0.5 3.6-0.4 3.5-0.6 3.6-0.6 3.6-0.6 3.5-0.7 3.6-0.8 3.5-0.8 3.6-0.8 3.6-1 3.5-0.9 3.6-1.1 3.5-1 3.6-1.2 3.6-1.1 3.5-1.2 3.6-1.3 3.6-1.2 3.5-1.3 3.6-1.3 3.5-1.3 3.6-1.3 3.6-1.2 3.5-1.3 3.6-1.2 3.5-1.1 3.6-1.1 3.6-1 3.5-0.9 3.6-0.9 3.5-0.7 3.6-0.7 3.6-0.5 3.5-0.4 3.6-0.3 3.6-0.2 3.5 0 3.6 0 3.5 0.2 3.6 0.3 3.6 0.4 3.5 0.5 3.6 0.6 3.5 0.7 3.6 0.8 3.6 0.9 3.5 0.9 3.6 1 3.5 1.1 3.6 1.1 3.6 1.2 3.5 1.1 3.6 1.3 3.5 1.2 3.6 1.2 3.6 1.3 3.5 1.2 3.6 1.2 3.6 1.2 3.5 1.2 3.6 1.2"/>
<path class="kb" d="M802.3 683.7l3.6 0.5 3.5 0.5 3.6 0.5 3.6 0.4 3.5 0.4 3.6 0.4 3.5 0.3 3.6 0.3 3.6 0.2 3.5 0.3 3.6 0.2 3.5 0.2 3.6 0.1"/>
</g>
<text class="c" text-anchor="middle" transform="translate(780.9 445.7) rotate(-1.3)"><tspan dy="7.0">24.8</tspan></text>
<text class="c" text-anchor="middle" transform="translate(779.9 516.2) rotate(14.0)"><tspan dy="5.8">25.8</tspan></text>
<text class="c" text-anchor="middle" transform="translate(780.6 558.1) rotate(14.4)"><tspan dy="5.8">26.8</tspan></text>
<text class="c" text-anchor="middle" transform="translate(780.6 610.1) rotate(15.7)"><tspan dy="5.8">27.3</tspan></text>
<text class="c" text-anchor="middle" transform="translate(780.6 679.3) rotate(13.7)"><tspan dy="5.8">27.5</tspan></text>
<path class="f" d="M528.1 437.6v3.6M528.1 782.4v-3.6M599.3 437.6v3.6M599.3 782.4v-3.6M670.5 437.6v3.6M670.5 782.4v-3.6M741.8 437.6v3.6M741.8 782.4v-3.6M813.0 437.6v3.6M813.0 782.4v-3.6M492.5 523.8h3.6M848.6 523.8h-3.6M492.5 610.0h3.6M848.6 610.0h-3.6M492.5 696.2h3.6M848.6 696.2h-3.6"/>
<rect class="f" x="492.5" y="437.6" width="356.1" height="344.8"/>
<text class="p" x="492.4" y="424.5">F</text>
<text class="t" text-anchor="middle" x="527.8" y="810.0">-200</text>
<text class="t" text-anchor="middle" x="599.0" y="810.0">-100</text>
<text class="t" text-anchor="middle" x="670.2" y="810.0">0</text>
<text class="t" text-anchor="middle" x="741.5" y="810.0">100</text>
<text class="t" text-anchor="middle" x="812.7" y="810.0">200</text>
<text class="l" text-anchor="middle" x="667.5" y="835.9">X (km)</text>
</g>
<g id="panelG">
<g clip-path="url(#cG)">
<rect x="907.0" y="437.0" width="356.3" height="344.9" fill="#f5faf3"/>
<path fill="#fffbdd" d="M1038.2 464.8l0.9-1.1 4-1.9 4 1 4 4.7 2 5.2 2 7.9 1.5 15.9 0.5 15.8-0.2 39.7 0.4 43.6-0.9 51.5 0.2 134.8-52.3 0 0.5-138.8 0.7-43.6 1.6-31.9 3.5-43.4 2.2-11.9 2.3-9.1 2.4-6.7 2.2-4 9.8-11.9 2.3-4 3.3-7.3zM1259.4 766l3.9-2.2 0 18.1-14.8 0 1.4-4 2.3-3.9 3.1-4.1z"/>
<path fill="#fee8b0" d="M1030.1 540.1l1-2.5 4 1 4 17 2.1 20.2 2.6 67.3 2.4 138.8-28.4 0 1.8-142.7 4.3-71.4 3.2-20z"/>
<path fill="#d8eef5" d="M907 437l64.5 0 2.1 35.7 1.4 3.9 3.7 4 4.4 0.5 2.8-4.5 0.8-3.9 1.8-35.7 21.8 0 1.2 19.8 0.1 15.9-0.9 3.9-1.7 4-5.9 14.1-3.2 5.7-3.4 8-2.7 11.9-0.8 7.9-3.3 67.4-0.6 23.8-0.5 118.9-0.7 43.6-80.9 0zM1070 437l96.4 0 1.4 31.7 1.3 7.9 2.1 5.2 21 34.5 1.9 4 4.1 15.8 2.5 11.9 1.1 7.9 0.4 11.9 0 43.6-4.1 170.5-134.2 0 0.8-43.6 0.2-87.2 2.3-43.6 1.3-134.8zM1199.2 437l42.7 0 1.3 31.7-0.4 4-1.8 3.9-5.7 4.3-4 1.6-8 1.7-4 0.1-8-1-4-1.1-4.1-1.8-3.8-3.8-1.3-3.9-0.1-11.9z"/>
<path fill="#b3e2ef" d="M1097 448.9l6.2-1.7 8-1.1 8 0.1 4 0.5 8 1.9 8 3.1 4 2.2 3.5 2.9 2.9 4 1.6 3.1 4.8 12.7 2 4 4.9 7.9 4.2 8 4.9 11.9 2.6 7.9 1.5 7.9 1.6 15.9 3.8 63.4 3.4 39.6-0.1 95.2-1.1 43.6-112.9 0 1.4-47.6 0.7-83.2 2-43.6 0.7-59.5 1.1-31.7 2.2-19.8 0.9-19.9 1.7-7.9 2.9-7.9 2.8-4.9 4-4.1z"/>
<path fill="#8dd4f0" d="M1105.8 456.8l5.4-1 4-0.2 8 1.2 4 1.4 4 2.2 5.2 4.4 6.8 8.4 12.8 19.3 5.1 11.9 3.2 11.9 1.4 11.9 4.2 75.3 3.5 43.6 1.7 134.8-96.3 0 2.2-59.5 1.2-118.9 1-39.6 0-35.7 0.5-11.9 2.8-19.8 1-15.9 1.8-7.9 1.9-4.6 4-5.8 4-3z"/>
<path fill="#6dcff3" d="M1105.6 468.7l5.6-1.9 4-0.4 4 0.6 4.3 1.7 3.7 2.2 4 3.4 10 10.3 5.8 7.9 2.1 4 3 7.9 3.3 11.9 1.2 7.9 1.1 11.9 6.7 107 1.5 87.3 1.8 51.5-81 0 1.4-39.6 0.5-35.7 0.2-59.5-1.1-43.6 1.2-43.6-0.2-39.6 0.9-8 5.1-31.7 1.8-4 2.7-3.6 4-3z"/>
<path fill="#62b5e5" d="M1108.9 480.6l2.3-1.1 4-0.8 4 0.7 4 1.7 4 2.6 8 6.5 4 5.1 2.5 5.1 2.5 8 2.5 11.9 1.7 15.8 4.1 63.4 3.7 43.6 1.2 87.3 2.8 51.5-67.3 0 1.5-43.6 0.4-31.7-0.2-59.5-1.4-39.6 1.3-47.6-0.7-35.7 1.3-11.9 4.1-17.5 4-9 4-4.1z"/>
<path fill="#4f91cf" d="M1117.7 496.5l1.5-0.3 4 0.9 4 2.5 4 4.5 4 8.7 1.9 7.5 1.2 7.9 5.5 75.3 3.9 39.6 1.3 87.3 3.4 51.5-53.4 0 2.4-39.6 0.7-23.8-0.2-39.7-1.3-67.4 2.1-55.5-1.2-23.8 0.1-7.9 1.6-9.6 4-9.6 4-5.2 4-2.8z"/>
<path fill="#4277bd" d="M1119.1 536.1l0.1-0.3 4 0.6 4 12.2 4 32.1 6.2 66.4 3 87.2 4 47.6-36.9 0 2.9-35.7 1.2-23.8 0.3-27.7-0.5-67.4 0.4-19.8 3.4-41.8 2.5-21.7z"/>
<path fill="#3966b3" d="M1126.3 750.2l0.9-1.6 4 12.6 2.7 20.7-14.8 0 4.1-26z"/>
<path class="kb" d="M907 446.5l3.6 0 3.5 0 3.6-0.1 3.6 0 3.5 0 3.6 0 3.5 0 3.6 0.1 3.6 0 3.5 0.1 3.6 0 3.6 0.2 3.5 0.1 3.6 0.2 3.5 0.1 3.6 0.2 3.6 0.2 3.5 0.2 3.6 0.2 3.6 0.2 3.5 0.1 3.6 0 3.5 0 3.6 0 3.6-0.2 3.5-0.2 3.6-0.2 3.6-0.3 3.5-0.3 3.6-0.3 3.6-0.3 3.5-0.3 3.6-0.4 3.5-0.3 3.6-0.3 3.6-0.3 3.5-0.2 3.6-0.3 3.6-0.3 3.5-0.3 3.6-0.2 3.5-0.3 3.6-0.3 3.6-0.2 3.5-0.3 3.6-0.2 3.6-0.2 3.5-0.2 3.6-0.1 3.6-0.1 3.5-0.1 3.6-0.1 3.5 0.1 3.6 0 3.6 0.1 3.5 0.1 3.6 0.2 3.6 0.2 3.5 0.2 3.6 0.2 3.5 0.3 3.6 0.3 3.6 0.3 3.5 0.3 3.6 0.3 3.6 0.2 3.5 0.3 3.6 0.2 3.5 0.2 3.6 0.2 3.6 0.1 3.5 0.1 3.6 0.1 3.6 0 3.5 0"/>
<path class="kb" d="M1217 444.6l3.5 0 3.6-0.1 3.6 0 3.5 0 3.6-0.1 3.6 0 3.5 0 3.6 0 3.5-0.1 3.6 0 3.6 0 3.5 0 3.6-0.1"/>
<path class="kb" d="M907 524.1l3.6-0.1 3.5 0 3.6 0 3.6 0 3.5-0.1 3.6 0 3.5-0.1 3.6 0 3.6-0.1 3.5-0.1 3.6-0.1 3.6-0.1 3.5-0.1 3.6-0.2 3.5-0.2 3.6-0.2 3.6-0.3 3.5-0.3 3.6-0.4 3.6-0.4 3.5-0.6 3.6-0.6 3.5-0.7 3.6-0.8 3.6-0.9 3.5-1 3.6-1.2 3.6-1.2 3.5-1.4 3.6-1.6 3.6-1.6 3.5-1.8 3.6-1.9 3.5-2.1 3.6-2.1 3.6-2.2 3.5-2.2 3.6-2.3 3.6-2.3 3.5-2.2 3.6-2.2 3.5-2.2 3.6-2 3.6-1.9 3.5-1.7 3.6-1.4 3.6-1.3 3.5-1 3.6-0.8 3.6-0.4 3.5-0.2 3.6 0.1 3.5 0.3 3.6 0.5 3.6 0.7 3.5 0.9 3.6 1 3.6 1.2 3.5 1.4 3.6 1.5 3.5 1.6 3.6 1.7 3.6 1.7 3.5 1.9 3.6 1.8 3.6 1.9 3.5 1.9 3.6 1.9 3.5 1.8 3.6 1.8 3.6 1.8 3.5 1.7 3.6 1.6 3.6 1.5 3.5 1.4"/>
<path class="kb" d="M1217 519.6l3.5 0.4 3.6 0.4 3.6 0.3 3.5 0.2 3.6 0.2 3.6 0.2 3.5 0.2 3.6 0.1 3.5 0.1 3.6 0.1 3.6 0 3.5 0.1 3.6 0"/>
<path class="kb" d="M907 565.9l3.6-0.1 3.5 0 3.6-0.1 3.6 0 3.5-0.1 3.6-0.1 3.5-0.1 3.6-0.1 3.6-0.1 3.5-0.2 3.6-0.2 3.6-0.2 3.5-0.2 3.6-0.4 3.5-0.3 3.6-0.4 3.6-0.4 3.5-0.5 3.6-0.6 3.6-0.6 3.5-0.7 3.6-0.8 3.5-0.9 3.6-0.9 3.6-1 3.5-1.1 3.6-1.1 3.6-1.3 3.5-1.3 3.6-1.4 3.6-1.4 3.5-1.5 3.6-1.6 3.5-1.5 3.6-1.6 3.6-1.7 3.5-1.6 3.6-1.6 3.6-1.5 3.5-1.5 3.6-1.5 3.5-1.4 3.6-1.3 3.6-1.1 3.5-1.1 3.6-0.9 3.6-0.7 3.5-0.6 3.6-0.4 3.6-0.3 3.5-0.1 3.6 0.1 3.5 0.2 3.6 0.3 3.6 0.5 3.5 0.6 3.6 0.7 3.6 0.9 3.5 0.9 3.6 1 3.5 1.2 3.6 1.1 3.6 1.3 3.5 1.3 3.6 1.4 3.6 1.4 3.5 1.4 3.6 1.4 3.5 1.5 3.6 1.4 3.6 1.4 3.5 1.4 3.6 1.3 3.6 1.3 3.5 1.3"/>
<path class="kb" d="M1217 562l3.5 0.5 3.6 0.5 3.6 0.5 3.5 0.4 3.6 0.3 3.6 0.3 3.5 0.3 3.6 0.3 3.5 0.2 3.6 0.2 3.6 0.2 3.5 0.1 3.6 0.2"/>
<path class="kb" d="M907 615.9l3.6-0.1 3.5-0.1 3.6-0.1 3.6-0.1 3.5-0.1 3.6-0.2 3.5-0.2 3.6-0.2 3.6-0.2 3.5-0.3 3.6-0.3 3.6-0.4 3.5-0.4 3.6-0.5 3.5-0.5 3.6-0.6 3.6-0.6 3.5-0.7 3.6-0.8 3.6-0.8 3.5-0.9 3.6-1 3.5-1 3.6-1.1 3.6-1.2 3.5-1.2 3.6-1.3 3.6-1.3 3.5-1.4 3.6-1.5 3.6-1.4 3.5-1.6 3.6-1.5 3.5-1.5 3.6-1.6 3.6-1.5 3.5-1.5 3.6-1.5 3.6-1.4 3.5-1.4 3.6-1.2 3.5-1.3 3.6-1.1 3.6-1 3.5-0.9 3.6-0.7 3.6-0.7 3.5-0.5 3.6-0.3 3.6-0.2 3.5 0 3.6 0.1 3.5 0.2 3.6 0.4 3.6 0.6 3.5 0.7 3.6 0.8 3.6 1 3.5 1 3.6 1.2 3.5 1.3 3.6 1.3 3.6 1.5 3.5 1.4 3.6 1.6 3.6 1.5 3.5 1.6 3.6 1.6 3.5 1.6 3.6 1.6 3.6 1.6 3.5 1.5 3.6 1.5 3.6 1.5 3.5 1.4"/>
<path class="kb" d="M1217 614.4l3.5 0.6 3.6 0.5 3.6 0.5 3.5 0.4 3.6 0.4 3.6 0.4 3.5 0.3 3.6 0.3 3.5 0.2 3.6 0.2 3.6 0.2 3.5 0.2 3.6 0.2"/>
<path class="kb" d="M907 686.3l3.6-0.1 3.5 0 3.6-0.1 3.6-0.1 3.5-0.1 3.6-0.2 3.5-0.1 3.6-0.2 3.6-0.2 3.5-0.3 3.6-0.3 3.6-0.3 3.5-0.3 3.6-0.4 3.5-0.5 3.6-0.5 3.6-0.5 3.5-0.6 3.6-0.6 3.6-0.7 3.5-0.8 3.6-0.8 3.5-0.9 3.6-0.9 3.6-1 3.5-1 3.6-1.1 3.6-1.1 3.5-1.2 3.6-1.2 3.6-1.2 3.5-1.3 3.6-1.3 3.5-1.2 3.6-1.3 3.6-1.3 3.5-1.3 3.6-1.2 3.6-1.2 3.5-1.1 3.6-1.1 3.5-1 3.6-1 3.6-0.8 3.5-0.8 3.6-0.6 3.6-0.5 3.5-0.5 3.6-0.3 3.6-0.1 3.5-0.1 3.6 0.1 3.5 0.2 3.6 0.3 3.6 0.4 3.5 0.5 3.6 0.6 3.6 0.7 3.5 0.8 3.6 0.8 3.5 1 3.6 1 3.6 1 3.5 1.2 3.6 1.1 3.6 1.2 3.5 1.2 3.6 1.3 3.5 1.2 3.6 1.2 3.6 1.3 3.5 1.2 3.6 1.2 3.6 1.2 3.5 1.1"/>
<path class="kb" d="M1217 683.1l3.5 0.6 3.6 0.5 3.6 0.5 3.5 0.4 3.6 0.4 3.6 0.3 3.5 0.4 3.6 0.2 3.5 0.3 3.6 0.2 3.6 0.2 3.5 0.2 3.6 0.2"/>
</g>
<text class="c" text-anchor="middle" transform="translate(1195.6 445.1) rotate(-1.3)"><tspan dy="7.0">24.8</tspan></text>
<text class="c" text-anchor="middle" transform="translate(1194.5 515.6) rotate(14.0)"><tspan dy="5.8">25.8</tspan></text>
<text class="c" text-anchor="middle" transform="translate(1195.2 557.5) rotate(14.4)"><tspan dy="5.8">26.8</tspan></text>
<text class="c" text-anchor="middle" transform="translate(1195.2 609.5) rotate(15.7)"><tspan dy="5.8">27.3</tspan></text>
<text class="c" text-anchor="middle" transform="translate(1195.2 678.8) rotate(13.7)"><tspan dy="5.8">27.5</tspan></text>
<path class="f" d="M942.6 437.0v3.6M942.6 781.9v-3.6M1013.9 437.0v3.6M1013.9 781.9v-3.6M1085.2 437.0v3.6M1085.2 781.9v-3.6M1156.4 437.0v3.6M1156.4 781.9v-3.6M1227.7 437.0v3.6M1227.7 781.9v-3.6M907.0 523.2h3.6M1263.3 523.2h-3.6M907.0 609.5h3.6M1263.3 609.5h-3.6M907.0 695.7h3.6M1263.3 695.7h-3.6"/>
<rect class="f" x="907.0" y="437.0" width="356.3" height="344.9"/>
<text class="p" x="907.4" y="424.5">G</text>
<text class="t" text-anchor="middle" x="942.3" y="809.5">-200</text>
<text class="t" text-anchor="middle" x="1013.6" y="809.5">-100</text>
<text class="t" text-anchor="middle" x="1084.9" y="809.5">0</text>
<text class="t" text-anchor="middle" x="1156.1" y="809.5">100</text>
<text class="t" text-anchor="middle" x="1227.4" y="809.5">200</text>
<text class="l" text-anchor="middle" x="1082.2" y="835.4">X (km)</text>
</g>
<g id="panelH">
<g clip-path="url(#cH)">
<rect x="1320.4" y="439.8" width="355.9" height="344.7" fill="#f5faf3"/>
<path fill="#fffbdd" d="M1423 455.6l13.4-2.9 12-0.4 8 1.1 4 1 8 3.2 4 2.5 4 3.3 3.6 4.1 2.6 4 3.8 7.9 3.4 11.9 1.3 7.9 1.1 11.9 1.7 51.5 1.5 87.2 0.5 134.7-175.5 0 0-275 16-10.9 16-13.8 12-7.2 16-7.4 12-4.9 12-4.1z"/>
<path fill="#fee8b0" d="M1430.4 471.5l10-2.5 8 0 8 1.9 8 4.3 4 3.2 4 4.4 4 6 4 9 2.3 9.4 1.8 11.8 1.3 15.9 2.3 51.5 2.2 198.1-167.7 0 3-43.6 1.5-31.7 1.1-39.6 1.4-19.8 1.9-11.9 5.4-27.7 4.6-39.7 2.3-15.8 2.4-11.9 3.4-11.9 3.7-7.9 5.4-7.9 6.6-7.9 8.5-8 5.9-3.9 8.7-4.7 36-16.7z"/>
<path fill="#fdcc93" d="M1432.4 487.3l8-2.1 4-0.2 4 0.5 5.3 1.8 6.7 4.3 4 3.8 5.4 7.8 3.5 7.9 3.1 11.9 2.3 15.9 1.5 15.8 2 39.6 0.3 19.8-0.5 39.7 2.6 130.7-137.3 0 4.9-75.3 5.3-103 1.7-15.8 2.3-15.9 2.2-11.9 3-11.9 4.2-11.8 5.9-11.9 5.3-8 6.3-6.8 6.3-5 6.4-4 22.5-11.9z"/>
<path fill="#f8a87a" d="M1428.7 507.2l7.7-2.7 4-0.5 4 0.1 4 1.1 3.8 2 4.2 3.2 4.2 4.7 4.5 7.9 3.3 9 3.1 14.8 2.7 23.7 1.8 31.7-1 51.6 3.9 130.7-112.3 0 5.3-79.2 2.6-47.6 0.2-11.9-0.8-23.7 0.1-11.9 1.7-15.9 2.9-15.8 4.1-15.9 4-11.9 5.4-11.8 4.8-8 6.9-7.9 4.7-4 11.9-7.6z"/>
<path fill="#f58468" d="M1434.9 530.9l5.5-0.7 4 0.8 4 2.2 4 3.7 4 5.7 4 8.7 4 15.6 1.8 15.5 1.4 19.8 0.2 11.9-0.9 23.8 0.1 11.9 3 55.5 3 79.2-91.1 0 12-130.7 0.2-11.9-1.7-27.8 0.5-7.9 1.3-7.9 2.2-9.5 4.1-14.3 3.9-10.5 4.6-9.3 5.5-7.9 7.3-7.9 6.6-5.1z"/>
<path fill="#f05e56" d="M1434.9 582.4l1.5-1 4 0.2 4 4 4 9.8 4 19.2 8.7 82.7 3.3 48.8 1.9 38.4-69.9 0 7.2-51.5 6.4-51.5 9.7-63.4 4.1-15.9 4.6-11.7 4-6.2z"/>
<path fill="#ee3f4e" d="M1433.2 681.5l3.2-3.2 4 2.7 4 9.1 4 15.6 4 26.9 4 38.3 0.9 13.6-45.5 0 12.6-76.2 4-15.8 4-10.2z"/>
<path fill="#d8eef5" d="M1499.1 439.8l177.2 0 0 344.7-175.3 0-0.4-198.1z"/>
<path fill="#b3e2ef" d="M1525.2 455.6l7.1-1.9 8-0.6 8 0.4 8 1.2 44 10.4 24 7.7 16 7 6 3.6 5.1 3.9 7.2 8 6.9 11.9 5 11.8 5.8 17.8 0 247.7-170.6 0 0.1-118.9 0.7-67.3 0.1-75.3 0.7-27.7 1.7-15.9 3.3-11.3 4-6.5 4-3.6z"/>
<path fill="#8dd4f0" d="M1532.7 471.5l3.6-0.7 8-0.2 12 2.3 36 12.4 16 6.4 12 6.6 8 6.5 5.5 6.3 2.6 4 3.9 7.6 4 11.2 3.3 12.9 9.5 51.5 1.7 15.8 5.5 74.3 2.7 28.7 1.3 11.6 4 24.6 4 20.9 0 10.3-165.7 0 0.2-122.8 1.5-63.4 0.4-63.4 1-27.7 1.3-11.9 1.3-6.5 2-5.4 2-3.8 4-4.2 4-2.4z"/>
<path fill="#6dcff3" d="M1538.4 487.3l5.9-0.6 4 0.3 12 3.1 21.7 9.1 15.1 8 7.2 4.8 8 7.1 5.9 7.9 5.6 11.9 3.8 11.8 2.9 11.9 4.2 19.8 2.6 15.9 1.6 15.8 2.7 39.7 5.3 67.3 2.8 19.8 6.6 34.6 1.3 9-141.9 0 0.4-122.8 2.2-59.5 0.6-55.4 1.2-23.8 1.4-11.9 1.8-7.9 1.4-4 3.6-6.1 2-1.8 2-1.6z"/>
<path fill="#62b5e5" d="M1539.9 507.2l4.4-1.9 4-0.5 8 1.1 4 1.4 8 3.8 12.3 7.9 9.4 8 7.1 7.9 7.2 11 5.6 12.8 5.8 19.8 2.6 11.9 1.9 11.8 1.3 15.9 1.2 31.7 6.3 71.3 3.3 19.8 8.3 35.7 1.3 7.9-120.5 0 0.7-114.9 2.9-71.3 1.2-47.6 2-19.8 3-11.9 1.7-3.9 2.6-4z"/>
<path fill="#4f91cf" d="M1547.2 530.9l1.1-0.8 4-1.1 4 0.4 4 1.4 6.2 4.1 5.8 5.5 8.1 10.3 7.2 11.9 5.8 11.9 4.4 11.9 3.2 11.9 1.8 11.9 1.5 39.6 8.6 75.3 3.7 19.8 8.5 31.7 1.6 7.9-99.2 0 1.8-114.9 5.4-99.1 1.6-15.2 3.1-12.5 0.9-2.6 3-5.3 1-1.6z"/>
<path fill="#4277bd" d="M1553.2 574.5l3.1-2.8 4 0 4 2.6 4 4.8 4.5 7.3 3.8 7.9 4.2 11.9 2.4 11.9 3.8 35.7 11.3 79.2 3.9 19.8 8 31.7-76.1 0 2.3-71.3 1.9-35.7 2-26.9 3.8-40.4 1.7-11.9 2.5-13 2.6-6.8 1.4-3.1z"/>
<path fill="#3966b3" d="M1560 657.7l0.3-0.6 4-1.2 4 5.9 4 13 4 19.1 8.9 51 7.4 39.6-50.3 0 2-35.5 4-41.1 4.1-26.4 3.9-16z"/>
<path fill="#355aab" d="M1563.1 760.7l1.2-1.2 4 3.9 4 10.3 2.3 10.8-18.7 0 1.1-7.9 3.3-12.7z"/>
<path class="kb" d="M1320.4 449.3l3.6 0 3.5-0.1 3.6 0 3.5 0 3.6 0 3.6 0 3.5 0 3.6 0 3.5 0.1 3.6 0.1 3.5 0 3.6 0.2 3.6 0.1 3.5 0.2 3.6 0.1 3.5 0.2 3.6 0.2 3.6 0.2 3.5 0.2 3.6 0.2 3.5 0.1 3.6 0 3.6 0 3.5 0 3.6-0.2 3.5-0.2 3.6-0.2 3.6-0.3 3.5-0.3 3.6-0.3 3.5-0.3 3.6-0.3 3.5-0.4 3.6-0.3 3.6-0.3 3.5-0.3 3.6-0.2 3.5-0.3 3.6-0.3 3.6-0.3 3.5-0.2 3.6-0.3 3.5-0.3 3.6-0.2 3.6-0.3 3.5-0.2 3.6-0.2 3.5-0.2 3.6-0.1 3.6-0.1 3.5-0.1 3.6-0.1 3.5 0 3.6 0.1 3.5 0.1 3.6 0.1 3.6 0.2 3.5 0.2 3.6 0.2 3.5 0.2 3.6 0.3 3.6 0.3 3.5 0.3 3.6 0.3 3.5 0.3 3.6 0.2 3.6 0.3 3.5 0.2 3.6 0.2 3.5 0.2 3.6 0.1 3.5 0.1 3.6 0.1 3.6 0 3.5 0"/>
<path class="kb" d="M1630 447.4l3.6 0 3.6-0.1 3.5 0 3.6 0 3.5-0.1 3.6 0 3.5 0 3.6 0 3.6-0.1 3.5 0 3.6 0 3.5 0 3.6-0.1"/>
<path class="kb" d="M1320.4 526.8l3.6 0 3.5 0 3.6-0.1 3.5 0 3.6 0 3.6-0.1 3.5 0 3.6-0.1 3.5 0 3.6-0.1 3.5-0.1 3.6-0.1 3.6-0.2 3.5-0.1 3.6-0.2 3.5-0.3 3.6-0.2 3.6-0.4 3.5-0.3 3.6-0.5 3.5-0.5 3.6-0.6 3.6-0.7 3.5-0.8 3.6-0.9 3.5-1.1 3.6-1.1 3.6-1.3 3.5-1.4 3.6-1.5 3.5-1.7 3.6-1.8 3.5-1.9 3.6-2 3.6-2.1 3.5-2.2 3.6-2.2 3.5-2.3 3.6-2.3 3.6-2.3 3.5-2.2 3.6-2.1 3.5-2 3.6-1.9 3.6-1.7 3.5-1.5 3.6-1.2 3.5-1 3.6-0.8 3.6-0.4 3.5-0.2 3.6 0.1 3.5 0.3 3.6 0.5 3.5 0.7 3.6 0.8 3.6 1.1 3.5 1.2 3.6 1.4 3.5 1.4 3.6 1.6 3.6 1.7 3.5 1.8 3.6 1.8 3.5 1.9 3.6 1.9 3.6 1.9 3.5 1.8 3.6 1.9 3.5 1.8 3.6 1.7 3.5 1.7 3.6 1.6 3.6 1.5 3.5 1.5"/>
<path class="kb" d="M1630 522.4l3.6 0.4 3.6 0.3 3.5 0.3 3.6 0.3 3.5 0.2 3.6 0.2 3.5 0.1 3.6 0.1 3.6 0.1 3.5 0.1 3.6 0.1 3.5 0 3.6 0.1"/>
<path class="kb" d="M1320.4 568.6l3.6 0 3.5-0.1 3.6 0 3.5-0.1 3.6 0 3.6-0.1 3.5-0.1 3.6-0.1 3.5-0.2 3.6-0.1 3.5-0.2 3.6-0.3 3.6-0.2 3.5-0.3 3.6-0.4 3.5-0.4 3.6-0.4 3.6-0.5 3.5-0.6 3.6-0.6 3.5-0.7 3.6-0.8 3.6-0.8 3.5-1 3.6-1 3.5-1 3.6-1.2 3.6-1.2 3.5-1.4 3.6-1.3 3.5-1.5 3.6-1.5 3.5-1.5 3.6-1.6 3.6-1.6 3.5-1.6 3.6-1.6 3.5-1.6 3.6-1.6 3.6-1.5 3.5-1.5 3.6-1.3 3.5-1.3 3.6-1.2 3.6-1 3.5-0.9 3.6-0.8 3.5-0.6 3.6-0.4 3.6-0.3 3.5 0 3.6 0 3.5 0.3 3.6 0.3 3.5 0.5 3.6 0.6 3.6 0.7 3.5 0.8 3.6 1 3.5 1 3.6 1.1 3.6 1.2 3.5 1.3 3.6 1.3 3.5 1.3 3.6 1.4 3.6 1.4 3.5 1.5 3.6 1.4 3.5 1.4 3.6 1.4 3.5 1.4 3.6 1.4 3.6 1.3 3.5 1.2"/>
<path class="kb" d="M1630 564.7l3.6 0.6 3.6 0.4 3.5 0.5 3.6 0.4 3.5 0.3 3.6 0.4 3.5 0.3 3.6 0.2 3.6 0.2 3.5 0.2 3.6 0.2 3.5 0.2 3.6 0.1"/>
<path class="kb" d="M1320.4 618.6l3.6-0.1 3.5-0.1 3.6-0.1 3.5-0.1 3.6-0.1 3.6-0.2 3.5-0.2 3.6-0.2 3.5-0.2 3.6-0.3 3.5-0.3 3.6-0.4 3.6-0.4 3.5-0.5 3.6-0.5 3.5-0.6 3.6-0.6 3.6-0.7 3.5-0.8 3.6-0.8 3.5-0.9 3.6-1 3.6-1 3.5-1.1 3.6-1.2 3.5-1.2 3.6-1.3 3.6-1.3 3.5-1.4 3.6-1.5 3.5-1.4 3.6-1.5 3.5-1.6 3.6-1.5 3.6-1.5 3.5-1.6 3.6-1.5 3.5-1.5 3.6-1.4 3.6-1.3 3.5-1.3 3.6-1.2 3.5-1.1 3.6-1.1 3.6-0.8 3.5-0.8 3.6-0.6 3.5-0.5 3.6-0.4 3.6-0.2 3.5 0 3.6 0.1 3.5 0.2 3.6 0.5 3.5 0.5 3.6 0.7 3.6 0.8 3.5 1 3.6 1 3.5 1.2 3.6 1.3 3.6 1.3 3.5 1.5 3.6 1.5 3.5 1.5 3.6 1.6 3.6 1.5 3.5 1.6 3.6 1.6 3.5 1.6 3.6 1.6 3.5 1.5 3.6 1.5 3.6 1.5 3.5 1.4"/>
<path class="kb" d="M1630 617.1l3.6 0.6 3.6 0.5 3.5 0.5 3.6 0.4 3.5 0.4 3.6 0.4 3.5 0.3 3.6 0.3 3.6 0.2 3.5 0.2 3.6 0.2 3.5 0.2 3.6 0.2"/>
<path class="kb" d="M1320.4 689l3.6-0.1 3.5-0.1 3.6-0.1 3.5-0.1 3.6-0.1 3.6-0.1 3.5-0.2 3.6-0.2 3.5-0.2 3.6-0.2 3.5-0.3 3.6-0.3 3.6-0.4 3.5-0.4 3.6-0.4 3.5-0.5 3.6-0.6 3.6-0.5 3.5-0.7 3.6-0.7 3.5-0.7 3.6-0.8 3.6-0.9 3.5-0.9 3.6-1 3.5-1 3.6-1.1 3.6-1.1 3.5-1.2 3.6-1.2 3.5-1.2 3.6-1.3 3.5-1.3 3.6-1.3 3.6-1.3 3.5-1.2 3.6-1.3 3.5-1.2 3.6-1.2 3.6-1.2 3.5-1 3.6-1.1 3.5-0.9 3.6-0.8 3.6-0.8 3.5-0.6 3.6-0.6 3.5-0.4 3.6-0.3 3.6-0.2 3.5 0 3.6 0.1 3.5 0.2 3.6 0.3 3.5 0.4 3.6 0.5 3.6 0.6 3.5 0.7 3.6 0.7 3.5 0.9 3.6 0.9 3.6 1.1 3.5 1 3.6 1.1 3.5 1.2 3.6 1.2 3.6 1.2 3.5 1.2 3.6 1.3 3.5 1.2 3.6 1.2 3.5 1.3 3.6 1.2 3.6 1.1 3.5 1.2"/>
<path class="kb" d="M1630 685.8l3.6 0.6 3.6 0.5 3.5 0.4 3.6 0.5 3.5 0.3 3.6 0.4 3.5 0.3 3.6 0.3 3.6 0.3 3.5 0.2 3.6 0.2 3.5 0.2 3.6 0.1"/>
</g>
<text class="c" text-anchor="middle" transform="translate(1608.7 447.9) rotate(-1.3)"><tspan dy="7.0">24.8</tspan></text>
<text class="c" text-anchor="middle" transform="translate(1607.6 518.4) rotate(14.0)"><tspan dy="5.8">25.8</tspan></text>
<text class="c" text-anchor="middle" transform="translate(1608.3 560.3) rotate(14.4)"><tspan dy="5.8">26.8</tspan></text>
<text class="c" text-anchor="middle" transform="translate(1608.3 612.2) rotate(15.7)"><tspan dy="5.8">27.3</tspan></text>
<text class="c" text-anchor="middle" transform="translate(1608.3 681.4) rotate(13.7)"><tspan dy="5.8">27.5</tspan></text>
<path class="f" d="M1356.0 439.8v3.6M1356.0 784.5v-3.6M1427.2 439.8v3.6M1427.2 784.5v-3.6M1498.3 439.8v3.6M1498.3 784.5v-3.6M1569.5 439.8v3.6M1569.5 784.5v-3.6M1640.7 439.8v3.6M1640.7 784.5v-3.6M1320.4 526.0h3.6M1676.3 526.0h-3.6M1320.4 612.1h3.6M1676.3 612.1h-3.6M1320.4 698.3h3.6M1676.3 698.3h-3.6"/>
<rect class="f" x="1320.4" y="439.8" width="355.9" height="344.7"/>
<text class="p" x="1322.0" y="424.5">H</text>
<text class="t" text-anchor="middle" x="1355.7" y="812.1">-200</text>
<text class="t" text-anchor="middle" x="1426.9" y="812.1">-100</text>
<text class="t" text-anchor="middle" x="1498.0" y="812.1">0</text>
<text class="t" text-anchor="middle" x="1569.2" y="812.1">100</text>
<text class="t" text-anchor="middle" x="1640.4" y="812.1">200</text>
<text class="l" text-anchor="middle" x="1495.3" y="838.0">X (km)</text>
</g>
<g id="colorbar">
<rect x="1699.0" y="105.0" width="19.0" height="605.0" fill="url(#cb)" stroke="#45484b" stroke-width="2"/>
<path d="M1718.0 256.2h-5M1718.0 407.5h-5M1718.0 558.8h-5" stroke="#45484b" stroke-width="1.2" fill="none"/>
<text class="t" style="font-size:18.3px" x="1734.6" y="116.9">8</text>
<text class="t" style="font-size:18.3px" x="1734.6" y="259.4">4</text>
<text class="t" style="font-size:18.3px" x="1734.6" y="410.7">0</text>
<text class="t" style="font-size:18.3px" x="1733.0" y="562.0">-4</text>
<text class="t" style="font-size:18.3px" x="1733.0" y="716.9">-8</text>
<text class="t" style="font-size:18.3px" x="1728.2" y="100.8"><tspan font-size="21px" dy="0.6">×</tspan><tspan dx="2.2" dy="-0.6">10</tspan><tspan dy="-8" dx="0.8" font-size="14.5px">-5</tspan></text>
</g>
</svg>
</body></html>
